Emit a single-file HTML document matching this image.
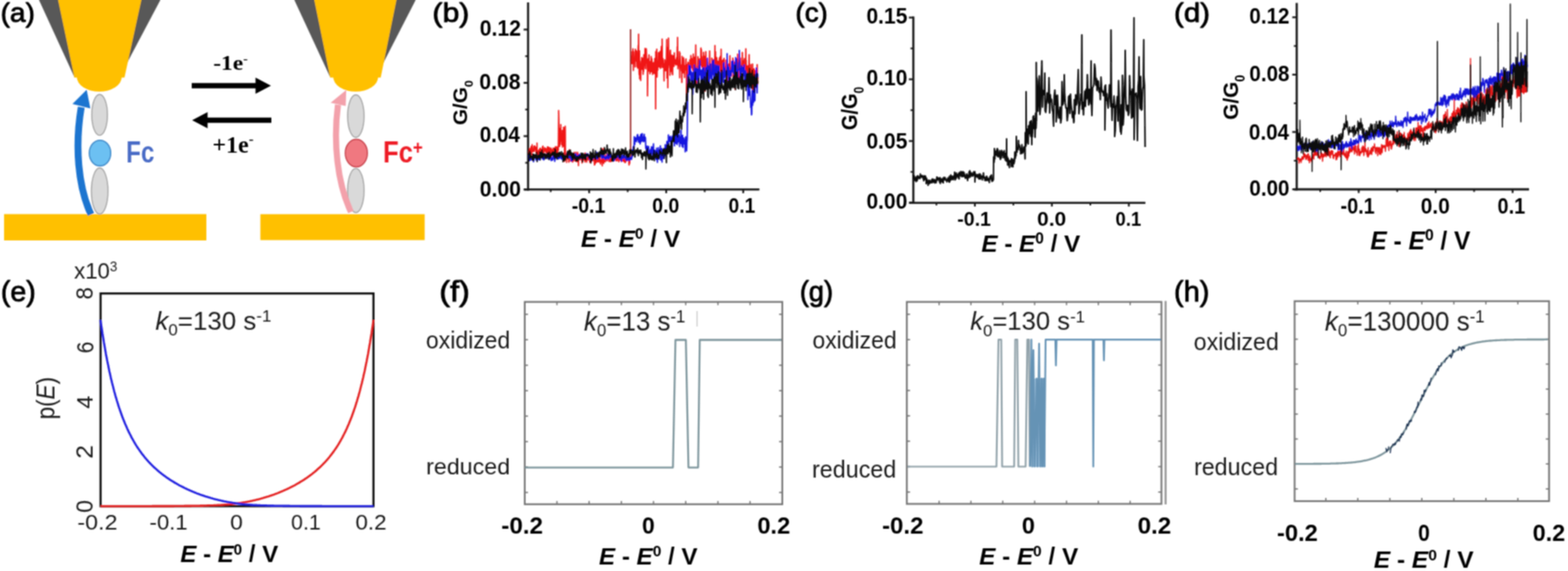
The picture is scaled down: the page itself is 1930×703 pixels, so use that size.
<!DOCTYPE html>
<html><head><meta charset="utf-8"><title>Figure</title>
<style>html,body{margin:0;padding:0;background:#fff;}svg{display:block;}</style></head>
<body><svg width="1930" height="703" viewBox="0 0 1930 703">
<rect width="1930" height="703" fill="#fff"/>
<defs><filter id="soft" x="0" y="0" width="1930" height="703" filterUnits="userSpaceOnUse"><feConvolveMatrix order="3" kernelMatrix="1 2 1 2 4 2 1 2 1" divisor="16"/></filter></defs><g filter="url(#soft)">
<polygon points="48,0 197.4,0 154,82 91.6,95" fill="#595959"/>
<path d="M71.5,0 L174,0 L153.2,95.5 L91.6,95.5 Z" fill="#FFC000"/>
<path d="M94.6,95 A27.6,17.8 0 0 0 149.8,95 Z" fill="#FFC000"/>
<polygon points="362.3,0 511.6,0 469.5,82 406.4,95" fill="#595959"/>
<path d="M386.8,0 L488,0 L468.6,95.5 L406.4,95.5 Z" fill="#FFC000"/>
<path d="M410.2,95 A27.6,17.8 0 0 0 465.4,95 Z" fill="#FFC000"/>
<rect x="5" y="263.6" width="249" height="32.4" fill="#FFC000"/>
<rect x="320.5" y="263.7" width="202.2" height="31.9" fill="#FFC000"/>
<ellipse cx="122.6" cy="141.4" rx="9.6" ry="25.2" fill="#d9d9d9" stroke="#a3a3a3" stroke-width="1.4"/>
<ellipse cx="122.7" cy="235.2" rx="10.2" ry="28.4" fill="#d9d9d9" stroke="#a3a3a3" stroke-width="1.4"/>
<ellipse cx="123.1" cy="188.5" rx="13.2" ry="15.8" fill="#6cc0f2" stroke="#3a86c8" stroke-width="1.5"/>
<ellipse cx="438" cy="143" rx="10.1" ry="26.2" fill="#d9d9d9" stroke="#a3a3a3" stroke-width="1.4"/>
<ellipse cx="438" cy="234.6" rx="10.1" ry="27.2" fill="#d9d9d9" stroke="#a3a3a3" stroke-width="1.4"/>
<ellipse cx="438.6" cy="188.5" rx="13.6" ry="16.9" fill="#f07880" stroke="#c8424c" stroke-width="1.5"/>
<path d="M112,264 C96,230 92,180 100,132" fill="none" stroke="#1f74d0" stroke-width="8.5"/>
<polygon points="106.7,110.5 89.2,128 111.2,133.5" fill="#1f74d0"/>
<path d="M432,261 C415,225 410,175 416,129" fill="none" stroke="#f3a1ab" stroke-width="7.5"/>
<polygon points="426.2,110.8 407,126.5 425.5,130.5" fill="#f3a1ab"/>
<line x1="236.00" y1="105.50" x2="317.00" y2="105.50" stroke="#000" stroke-width="6.4"/>
<polygon points="314.5,95.5 333.5,105.5 314.5,115.5" fill="#000"/>
<line x1="253.00" y1="148.00" x2="334.00" y2="148.00" stroke="#000" stroke-width="6.4"/>
<polygon points="255.5,138 236.5,148 255.5,158" fill="#000"/>
<line x1="650.00" y1="3.00" x2="650.00" y2="234.60" stroke="#141414" stroke-width="2.6"/>
<line x1="645.00" y1="233.30" x2="934.70" y2="233.30" stroke="#141414" stroke-width="2.6"/>
<line x1="644.50" y1="233.20" x2="650.00" y2="233.20" stroke="#141414" stroke-width="2.2"/>
<line x1="644.50" y1="167.60" x2="650.00" y2="167.60" stroke="#141414" stroke-width="2.2"/>
<line x1="644.50" y1="102.00" x2="650.00" y2="102.00" stroke="#141414" stroke-width="2.2"/>
<line x1="644.50" y1="36.40" x2="650.00" y2="36.40" stroke="#141414" stroke-width="2.2"/>
<line x1="646.50" y1="200.40" x2="650.00" y2="200.40" stroke="#141414" stroke-width="2.0"/>
<line x1="646.50" y1="134.80" x2="650.00" y2="134.80" stroke="#141414" stroke-width="2.0"/>
<line x1="646.50" y1="69.20" x2="650.00" y2="69.20" stroke="#141414" stroke-width="2.0"/>
<line x1="725.20" y1="233.30" x2="725.20" y2="237.80" stroke="#141414" stroke-width="2.2"/>
<line x1="820.00" y1="233.30" x2="820.00" y2="237.80" stroke="#141414" stroke-width="2.2"/>
<line x1="914.80" y1="233.30" x2="914.80" y2="237.80" stroke="#141414" stroke-width="2.2"/>
<line x1="677.80" y1="233.30" x2="677.80" y2="236.50" stroke="#141414" stroke-width="2.0"/>
<line x1="772.60" y1="233.30" x2="772.60" y2="236.50" stroke="#141414" stroke-width="2.0"/>
<line x1="867.40" y1="233.30" x2="867.40" y2="236.50" stroke="#141414" stroke-width="2.0"/>
<polyline points="651.0,185.5 651.3,188.8 651.6,187.9 651.9,183.0 652.2,183.5 652.5,183.0 652.8,186.5 653.1,185.1 653.4,187.8 653.7,180.3 654.0,190.6 654.3,185.2 654.6,187.5 654.9,185.0 655.0,178.0 655.2,184.1 655.5,186.3 655.8,187.0 656.1,184.1 656.4,183.8 656.7,185.8 657.0,181.0 657.3,179.9 657.6,186.5 657.9,183.3 658.2,179.5 658.5,182.4 658.8,184.0 659.1,181.6 659.4,181.1 659.7,186.1 660.0,188.4 660.3,185.4 660.6,184.3 660.9,188.0 661.0,176.0 661.2,189.6 661.5,186.8 661.8,189.5 662.1,190.4 662.4,186.7 662.7,185.3 663.0,188.9 663.3,188.4 663.6,190.8 663.9,183.7 664.2,185.9 664.5,185.8 664.8,182.4 665.1,187.6 665.4,188.2 665.7,183.5 666.0,190.3 666.3,188.5 666.6,188.0 666.9,186.7 667.2,188.5 667.5,181.3 667.8,186.9 668.0,180.0 668.1,187.3 668.4,180.1 668.7,186.8 669.0,184.8 669.3,187.7 669.6,183.5 669.9,185.0 670.2,186.0 670.5,181.9 670.8,186.3 671.1,183.8 671.4,186.3 671.7,182.9 672.0,187.8 672.3,186.5 672.6,183.5 672.9,186.5 673.2,188.4 673.5,190.5 673.8,180.7 674.1,188.5 674.4,187.5 674.7,185.9 675.0,183.3 675.0,181.0 675.3,190.7 675.6,183.1 675.9,188.4 676.2,190.5 676.5,181.8 676.8,185.8 677.1,183.9 677.4,188.3 677.7,192.5 678.0,194.1 678.3,182.4 678.6,186.4 678.9,190.2 679.2,191.8 679.5,188.2 679.8,184.3 680.1,186.9 680.4,185.4 680.7,184.2 681.0,182.4 681.3,185.8 681.6,186.5 681.9,185.0 682.2,185.2 682.5,182.3 682.8,183.9 683.1,188.5 683.4,184.2 683.7,180.5 684.0,188.7 684.3,186.6 684.6,191.1 684.9,184.5 685.2,183.6 685.5,180.6 685.8,189.1 686.1,193.4 686.4,184.4 686.7,185.3 687.2,185.0 687.6,136.0 688.2,160.0 688.5,171.0 688.6,163.5 688.8,180.4 688.9,158.1 689.1,172.2 689.2,168.1 689.4,158.7 689.5,178.0 689.7,171.1 689.8,159.0 690.0,173.2 690.1,165.0 690.3,153.3 690.4,163.0 690.6,170.7 690.7,173.7 690.9,170.0 691.0,169.0 691.2,172.5 691.3,167.1 691.5,178.2 691.6,170.0 691.8,171.2 691.9,173.2 692.1,160.5 692.2,163.3 692.4,181.3 692.5,171.8 692.7,166.9 692.8,171.9 693.0,165.3 693.1,171.5 693.3,164.0 693.4,171.5 693.6,156.7 693.7,180.0 693.9,165.3 694.0,156.8 694.2,167.7 694.3,166.6 694.5,170.8 694.6,160.5 694.8,172.9 694.9,198.7 695.1,159.5 695.2,172.5 695.4,167.4 695.5,171.4 695.7,155.4 695.8,160.8 696.0,193.2 696.3,192.1 696.6,196.5 696.9,190.0 697.2,192.1 697.5,200.0 697.8,189.3 698.1,188.4 698.4,191.0 698.7,191.5 699.0,193.9 699.3,192.2 699.6,190.0 699.9,192.5 700.2,199.8 700.5,196.1 700.8,184.4 701.1,192.4 701.4,190.3 701.7,193.9 702.0,192.2 702.3,198.4 702.6,195.8 702.9,196.1 703.2,194.5 703.5,193.8 703.8,195.7 704.1,199.0 704.4,196.9 704.7,194.3 705.0,199.4 705.3,196.4 705.6,195.3 705.9,193.1 706.2,193.9 706.5,193.2 706.8,187.5 707.1,197.9 707.4,196.5 707.7,194.4 708.0,198.0 708.3,195.7 708.6,195.7 708.9,187.4 709.2,194.0 709.5,195.9 709.8,198.6 710.1,199.2 710.4,198.1 710.7,190.7 711.0,187.5 711.3,195.1 711.6,193.9 711.9,197.0 712.0,204.0 712.2,193.7 712.5,194.8 712.8,190.0 713.1,195.8 713.4,193.9 713.7,196.4 714.0,196.5 714.3,195.4 714.6,196.3 714.9,195.0 715.2,196.7 715.5,196.3 715.8,194.0 716.1,194.1 716.4,200.8 716.7,195.5 717.0,198.2 717.3,196.0 717.6,193.7 717.9,193.2 718.2,195.4 718.5,196.2 718.8,196.9 719.1,191.9 719.4,193.6 719.7,195.0 720.0,199.5 720.3,188.3 720.6,196.3 720.9,194.2 721.2,196.9 721.5,194.5 721.8,196.4 722.1,199.6 722.4,195.7 722.7,196.0 723.0,196.0 723.3,193.3 723.6,196.6 723.9,194.6 724.2,192.9 724.5,195.2 724.8,195.0 725.1,197.2 725.4,195.0 725.7,194.1 726.0,199.9 726.3,198.2 726.6,199.2 726.9,197.0 727.2,195.2 727.5,194.5 727.8,195.0 728.1,198.6 728.4,196.5 728.7,192.0 729.0,196.6 729.3,193.0 729.6,197.4 729.9,193.5 730.2,194.1 730.5,197.7 730.8,197.2 731.1,193.5 731.4,199.9 731.7,203.3 732.0,193.2 732.3,202.5 732.6,195.4 732.9,196.1 733.2,197.0 733.5,193.0 733.8,200.5 734.1,198.0 734.4,194.7 734.7,195.9 735.0,192.1 735.3,195.7 735.6,199.2 735.9,192.1 736.2,195.4 736.5,196.9 736.8,199.2 737.1,199.7 737.4,194.8 737.7,194.4 738.0,197.6 738.3,195.8 738.6,196.4 738.9,200.0 739.2,202.0 739.5,198.3 739.8,197.0 740.1,199.2 740.4,192.4 740.7,198.1 741.0,194.9 741.3,204.1 741.6,199.5 741.9,197.5 742.0,183.0 742.2,196.2 742.5,189.4 742.8,198.9 743.1,201.2 743.4,194.3 743.7,197.9 744.0,197.9 744.3,191.4 744.6,198.1 744.9,199.4 745.2,195.7 745.5,194.8 745.8,197.5 746.1,191.1 746.4,195.3 746.7,197.7 747.0,191.6 747.3,197.9 747.6,193.5 747.9,189.3 748.2,194.8 748.5,192.5 748.8,196.2 749.1,192.3 749.4,198.6 749.7,193.6 750.0,196.5 750.3,193.7 750.6,194.7 750.9,198.9 751.2,196.6 751.5,194.8 751.8,192.0 752.1,198.9 752.4,197.6 752.7,194.9 753.0,196.4 753.3,192.5 753.6,192.5 753.9,192.4 754.2,195.7 754.5,195.3 754.8,192.2 755.1,196.1 755.4,195.8 755.7,194.8 756.0,197.4 756.3,193.3 756.6,193.8 756.9,195.9 757.2,194.0 757.5,196.2 757.8,190.4 758.1,198.0 758.4,191.8 758.7,193.2 759.0,190.0 759.3,196.0 759.6,198.0 759.9,197.6 760.0,187.0 760.2,196.9 760.5,191.0 760.8,193.5 761.1,194.7 761.4,193.8 761.7,199.2 762.0,196.3 762.3,196.0 762.6,196.9 762.9,192.3 763.2,192.5 763.5,192.9 763.8,197.1 764.1,196.5 764.4,197.3 764.7,198.7 765.0,192.0 765.3,194.0 765.6,196.5 765.9,192.2 766.2,194.2 766.5,197.9 766.8,198.3 767.1,198.1 767.4,195.2 767.7,194.5 768.0,198.7 768.3,194.7 768.6,196.8 768.9,199.9 769.2,195.4 769.5,194.6 769.8,195.9 770.0,200.0 770.1,197.5 770.4,197.4 770.7,196.8 771.0,197.9 771.3,192.0 771.6,194.4 771.9,197.5 772.2,195.3 772.5,194.7 772.8,194.6 773.1,195.3 773.4,197.7 773.7,195.5 774.0,199.0 774.3,203.1 774.6,198.0 774.9,201.7 775.2,199.2 775.5,195.3" fill="none" stroke="#f01818" stroke-width="1.6" stroke-linejoin="round"/>
<polyline points="776.6,75.9 776.9,71.0 777.2,69.6 777.5,68.9 777.8,78.5 778.1,63.5 778.4,73.7 778.7,68.7 779.0,71.3 779.0,60.0 779.3,66.4 779.6,86.7 779.9,63.5 780.2,73.0 780.5,74.7 780.8,76.8 781.1,76.8 781.4,76.8 781.7,82.4 782.0,60.6 782.3,72.7 782.6,63.0 782.9,75.0 783.2,62.5 783.5,62.8 783.8,70.8 784.1,82.3 784.4,75.1 784.7,73.1 785.0,83.9 785.3,64.5 785.6,55.9 785.9,71.3 786.0,42.0 786.2,71.6 786.5,82.9 786.8,92.0 787.1,62.6 787.4,96.9 787.7,89.9 788.0,84.7 788.3,82.9 788.6,99.1 788.9,79.1 789.2,75.1 789.5,82.8 789.8,70.8 790.1,85.3 790.4,81.5 790.7,84.3 791.0,84.1 791.3,72.0 791.6,91.4 791.9,71.3 792.2,87.9 792.5,67.3 792.8,84.4 793.1,74.2 793.4,79.9 793.7,73.6 794.0,59.7 794.3,69.0 794.6,79.9 794.9,84.8 795.2,67.4 795.5,60.1 795.8,69.6 796.1,77.5 796.4,73.2 796.7,73.3 797.0,87.2 797.0,118.0 797.3,87.8 797.6,86.1 797.9,72.0 798.2,81.1 798.5,79.7 798.8,67.5 799.1,87.7 799.4,80.5 799.7,75.5 800.0,91.0 800.3,84.8 800.6,84.9 800.9,88.3 801.2,85.2 801.5,69.7 801.8,77.2 802.1,88.3 802.4,72.4 802.7,78.8 803.0,81.9 803.3,91.6 803.6,90.2 803.9,86.7 804.2,77.2 804.5,87.5 804.8,85.0 805.1,78.6 805.4,90.7 805.7,82.1 806.0,72.1 806.3,88.0 806.6,75.8 806.9,83.0 807.0,134.0 807.2,63.5 807.5,75.2 807.8,67.8 808.1,68.3 808.4,60.5 808.7,94.8 809.0,75.3 809.3,78.8 809.6,86.5 809.9,75.7 810.2,80.7 810.5,64.9 810.8,78.1 811.1,73.3 811.4,82.4 811.7,80.3 812.0,67.1 812.3,63.4 812.6,70.4 812.9,84.2 813.2,81.6 813.5,82.5 813.8,62.2 814.1,57.2 814.4,75.3 814.7,78.1 815.0,75.2 815.0,48.0 815.3,83.2 815.6,80.0 815.9,71.9 816.2,75.1 816.5,82.8 816.8,82.8 817.1,80.3 817.4,99.6 817.7,78.7 818.0,82.8 818.3,73.6 818.6,78.9 818.9,86.6 819.2,87.1 819.5,79.4 819.8,83.2 820.1,79.5 820.4,61.7 820.7,48.6 821.0,96.1 821.3,82.7 821.6,73.6 821.9,58.4 822.0,108.0 822.2,61.7 822.5,83.2 822.8,46.9 823.1,69.0 823.4,80.0 823.7,73.2 824.0,78.1 824.3,71.0 824.6,92.7 824.9,64.9 825.2,61.9 825.5,76.9 825.8,88.0 826.1,75.3 826.4,85.1 826.7,72.8 827.0,67.8 827.3,90.6 827.6,91.8 827.9,91.9 828.2,74.6 828.5,69.4 828.8,68.5 829.1,76.2 829.4,81.8 829.7,81.3 830.0,65.0 830.3,78.6 830.6,76.6 830.9,76.5 831.2,75.7 831.5,73.6 831.8,79.8 832.1,77.0 832.4,79.1 832.7,71.2 833.0,79.4 833.3,75.4 833.6,57.6 833.9,80.0 834.0,46.0 834.2,73.5 834.5,84.7 834.8,75.6 835.1,77.0 835.4,81.2 835.7,78.3 836.0,74.0 836.3,63.7 836.6,95.7 836.9,65.2 837.2,75.5 837.5,83.5 837.8,80.7 838.1,80.9 838.4,83.4 838.7,87.4 839.0,79.8 839.3,101.4 839.6,69.4 839.9,80.1 840.2,75.3 840.5,73.4 840.8,80.9 841.1,89.8 841.4,71.2 841.7,73.5 842.0,85.7 842.3,83.4 842.6,95.5 842.9,89.2 843.2,83.5 843.5,80.3 843.8,85.8 844.1,83.3 844.4,72.6 844.7,84.2 845.0,83.9 845.0,120.0 845.3,82.3 845.6,79.6 845.9,98.1 846.2,90.6 846.5,91.2 846.8,79.1 847.1,76.5 847.4,82.1 847.7,86.0 848.0,81.2 848.3,82.3 848.6,91.1 848.9,85.9 849.2,73.5 849.5,77.3 849.8,75.6 850.1,81.5 850.4,68.4 850.7,77.3 851.0,83.6 851.3,79.3 851.6,72.0 851.9,73.0 852.2,81.0 852.5,83.8 852.8,86.3 853.1,76.3 853.4,66.5 853.7,90.4 854.0,80.9 854.3,82.4 854.6,81.3 854.9,70.4 855.2,77.4 855.5,81.7 855.8,88.4 856.1,80.8 856.4,55.3 856.7,79.5 857.0,84.7 857.3,93.0 857.6,87.4 857.9,102.2 858.2,91.8 858.5,91.8 858.8,88.9 859.1,69.8 859.4,87.7 859.7,83.8 860.0,75.2 860.3,83.7 860.6,82.4 860.9,72.7 861.2,75.2 861.5,74.7 861.8,78.2 862.1,72.9 862.4,80.3 862.7,59.0 863.0,72.7 863.3,61.0 863.6,71.7 863.9,82.4 864.2,77.8 864.5,76.9 864.8,77.8 865.1,91.6 865.4,69.6 865.7,86.3 866.0,64.4 866.3,74.2 866.6,79.1 866.9,72.4 867.2,81.7 867.5,85.4 867.8,69.1 868.0,112.0 868.1,79.9 868.4,77.2 868.7,63.5 869.0,78.8 869.3,74.3 869.6,93.3 869.9,73.1 870.2,95.0 870.5,76.2 870.8,98.5 871.1,87.4 871.4,87.3 871.7,92.3 872.0,93.5 872.3,97.8 872.6,100.8 872.9,81.8 873.2,74.4 873.5,62.8 873.8,83.0 874.1,91.2 874.4,88.7 874.7,87.3 875.0,82.8 875.3,79.6 875.6,82.7 875.9,90.8 876.2,71.6 876.5,92.8 876.8,73.3 877.1,82.4 877.4,78.6 877.7,79.5 878.0,73.9 878.3,73.5 878.6,80.6 878.9,74.1 879.2,104.3 879.5,79.8 879.8,77.6 880.0,56.0 880.1,79.1 880.4,74.4 880.7,63.6 881.0,81.7 881.3,86.8 881.6,70.6 881.9,80.7 882.2,71.0 882.5,80.6 882.8,84.7 883.1,85.4 883.4,84.7 883.7,75.3 884.0,90.0 884.3,77.1 884.6,86.0 884.9,87.7 885.2,79.1 885.5,71.4 885.8,87.4 886.1,72.1 886.4,72.9 886.7,69.3 887.0,87.7 887.3,78.9 887.6,60.7 887.9,87.4 888.2,98.5 888.5,95.9 888.8,74.5 889.1,81.8 889.4,86.9 889.7,89.9 890.0,81.7 890.3,73.6 890.6,90.0 890.9,88.4 891.2,71.8 891.5,80.5 891.8,84.7 892.1,83.2 892.4,89.1 892.7,93.0 893.0,89.6 893.3,84.2 893.6,73.9 893.9,90.4 894.2,97.7 894.5,102.9 894.8,85.7 895.1,86.0 895.4,98.1 895.7,99.3 896.0,89.4 896.3,91.7 896.6,78.9 896.9,92.5 897.2,79.8 897.5,85.3 897.8,86.6 898.1,83.3 898.4,68.6 898.7,79.9 899.0,90.6 899.3,86.8 899.6,83.4 899.9,89.6 900.2,91.8 900.5,94.0 900.8,80.7 901.1,87.4 901.4,83.8 901.7,78.1 902.0,71.5 902.3,82.9 902.6,74.2 902.9,99.4 903.2,81.1 903.5,81.0 903.8,79.4 904.1,98.2 904.4,76.5 904.7,82.5 905.0,76.8 905.0,110.0 905.3,82.3 905.6,83.3 905.9,93.8 906.2,72.7 906.5,85.1 906.8,100.1 907.1,81.9 907.4,85.5 907.7,79.8 908.0,66.7 908.3,88.9 908.6,100.0 908.9,86.1 909.2,74.0 909.5,91.5 909.8,90.0 910.1,97.4 910.4,95.1 910.7,85.9 911.0,90.6 911.3,71.6 911.6,97.3 911.9,88.2 912.2,95.3 912.5,94.1 912.8,81.1 913.1,82.0 913.4,75.3 913.7,64.6 914.0,81.4 914.3,84.6 914.6,74.9 914.9,90.6 915.2,86.1 915.5,88.6 915.8,78.9 916.1,72.1 916.4,93.1 916.7,91.1 917.0,86.9 917.3,85.3 917.6,86.2 917.9,88.6 918.0,60.0 918.2,86.8 918.5,74.2 918.8,99.7 919.1,81.1 919.4,90.7 919.7,92.3 920.0,97.0 920.3,81.1 920.6,105.2 920.9,100.0 921.2,100.6 921.5,105.0 921.8,87.1 922.1,67.3 922.4,96.8 922.7,104.4 923.0,102.8 923.3,88.2 923.6,92.6 923.9,97.3 924.2,79.4 924.5,89.0 924.8,89.0 925.1,108.0 925.4,89.3 925.7,106.7 926.0,93.7 926.3,78.8 926.6,113.4 926.9,85.5 927.2,100.2 927.5,109.4 927.8,90.8 928.0,112.0 928.1,84.5 928.4,104.8 928.7,97.7 929.0,86.6 929.3,88.3 929.6,94.2 929.9,103.7 930.2,92.2 930.5,100.0 930.8,108.0 931.1,104.8 931.4,105.3 931.7,103.7 932.0,79.5 932.3,104.8 932.6,96.5 932.9,94.8" fill="none" stroke="#f01818" stroke-width="1.7" stroke-linejoin="round"/>
<line x1="776.20" y1="196.00" x2="776.20" y2="36.00" stroke="#9c2b2b" stroke-width="1.8"/>
<polyline points="651.0,191.1 651.3,195.2 651.6,197.1 651.9,194.1 652.2,194.2 652.5,197.3 652.8,193.7 653.1,193.9 653.4,195.2 653.7,196.6 654.0,196.6 654.3,193.8 654.6,194.1 654.9,194.4 655.2,193.6 655.5,193.3 655.8,192.2 656.1,195.3 656.4,193.4 656.7,199.1 657.0,194.8 657.3,191.8 657.6,192.7 657.9,193.8 658.2,193.8 658.5,194.1 658.8,193.6 659.1,192.5 659.4,193.9 659.7,196.9 660.0,192.2 660.3,192.8 660.6,194.8 660.9,195.8 661.2,195.4 661.5,195.3 661.8,192.7 662.1,192.5 662.4,194.2 662.7,194.5 663.0,196.7 663.3,196.6 663.6,191.2 663.9,195.5 664.2,192.6 664.5,190.0 664.8,194.8 665.1,193.9 665.4,193.1 665.7,191.4 666.0,192.0 666.3,193.5 666.6,191.3 666.9,193.9 667.2,194.3 667.5,194.4 667.8,195.7 668.1,195.4 668.4,193.5 668.7,193.8 669.0,195.6 669.3,196.9 669.6,194.5 669.9,193.3 670.2,194.7 670.5,191.0 670.8,192.5 671.1,193.2 671.4,193.8 671.7,193.4 672.0,193.6 672.3,191.9 672.6,192.7 672.9,193.6 673.2,189.4 673.5,190.1 673.8,191.8 674.1,194.9 674.4,193.3 674.7,194.8 675.0,194.5 675.3,191.7 675.6,193.2 675.9,191.4 676.2,195.9 676.5,195.2 676.8,194.7 677.1,195.2 677.4,195.3 677.7,195.0 678.0,195.4 678.3,197.6 678.6,193.9 678.9,193.8 679.2,195.3 679.5,197.4 679.8,195.3 680.1,194.5 680.4,196.7 680.7,195.1 681.0,191.5 681.3,193.1 681.6,191.2 681.9,194.6 682.2,194.0 682.5,195.4 682.8,198.7 683.1,193.9 683.4,194.8 683.7,193.5 684.0,189.1 684.3,192.1 684.6,192.4 684.9,194.3 685.2,192.7 685.5,192.3 685.8,195.7 686.1,194.5 686.4,192.5 686.7,192.7 687.0,193.2 687.3,195.0 687.6,195.6 687.9,190.2 688.2,194.9 688.5,192.7 688.8,193.1 689.1,194.1 689.4,190.7 689.7,194.3 690.0,190.3 690.3,191.9 690.6,191.6 690.9,195.8 691.2,195.5 691.5,193.7 691.8,193.3 692.1,191.3 692.4,195.7 692.7,195.3 693.0,194.7 693.3,193.0 693.6,192.1 693.9,192.8 694.2,195.1 694.5,191.3 694.8,193.1 695.1,195.5 695.4,194.3 695.7,195.9 696.0,193.0 696.3,192.7 696.6,194.0 696.9,192.3 697.2,191.8 697.5,190.4 697.8,188.7 698.1,193.9 698.4,190.3 698.7,190.0 699.0,192.8 699.3,189.9 699.6,189.7 699.9,191.4 700.2,192.4 700.5,192.8 700.8,193.7 701.1,194.6 701.4,192.7 701.7,193.9 702.0,193.7 702.3,192.9 702.6,195.0 702.9,195.3 703.2,198.1 703.5,195.4 703.8,193.3 704.1,195.3 704.4,194.0 704.7,197.3 705.0,191.5 705.3,193.5 705.6,193.1 705.9,194.0 706.2,193.3 706.5,190.6 706.8,190.0 707.1,193.7 707.4,195.8 707.7,195.0 708.0,191.4 708.3,193.0 708.6,190.5 708.9,189.3 709.2,194.1 709.5,193.6 709.8,191.8 710.1,191.8 710.4,194.2 710.7,193.2 711.0,191.9 711.3,192.3 711.6,191.8 711.9,191.3 712.2,190.8 712.5,193.5 712.8,191.0 713.1,190.1 713.4,195.6 713.7,195.2 714.0,194.2 714.3,193.0 714.6,193.8 714.9,191.2 715.2,193.9 715.5,194.6 715.8,193.8 716.1,195.5 716.4,193.2 716.7,194.6 717.0,191.3 717.3,194.3 717.6,193.2 717.9,191.9 718.2,193.7 718.5,194.7 718.8,192.9 719.1,194.9 719.4,192.0 719.7,194.4 720.0,194.1 720.3,191.9 720.6,195.3 720.9,190.0 721.2,193.1 721.5,191.9 721.8,193.1 722.1,189.0 722.4,189.9 722.7,190.3 723.0,191.9 723.3,192.0 723.6,192.2 723.9,191.8 724.2,191.4 724.5,190.2 724.8,192.6 725.1,195.1 725.4,195.6 725.7,193.5 726.0,196.4 726.3,192.3 726.6,196.4 726.9,193.4 727.2,196.2 727.5,194.3 727.8,193.9 728.1,194.3 728.4,197.6 728.7,194.1 729.0,196.1 729.3,195.1 729.6,195.3 729.9,195.4 730.2,195.2 730.5,192.1 730.8,193.9 731.1,193.8 731.4,192.6 731.7,193.6 732.0,191.1 732.3,194.1 732.6,191.3 732.9,191.9 733.2,193.7 733.5,194.3 733.8,191.4 734.1,191.3 734.4,194.5 734.7,187.7 735.0,195.8 735.3,195.8 735.6,191.8 735.9,195.1 736.2,193.9 736.5,193.7 736.8,188.8 737.1,192.5 737.4,192.8 737.7,192.5 738.0,192.0 738.3,192.1 738.6,187.1 738.9,191.6 739.2,191.0 739.5,191.9 739.8,191.1 740.1,192.1 740.4,192.5 740.7,195.1 741.0,190.1 741.3,194.3 741.6,190.7 741.9,190.2 742.2,190.2 742.5,194.5 742.8,190.1 743.1,194.5 743.4,193.8 743.7,192.4 744.0,192.8 744.3,194.9 744.6,194.7 744.9,196.2 745.2,194.4 745.5,193.5 745.8,195.5 746.1,192.4 746.4,195.7 746.7,194.0 747.0,192.0 747.3,192.1 747.6,193.5 747.9,190.2 748.2,195.3 748.5,194.6 748.8,191.2 749.1,192.9 749.4,196.0 749.7,193.6 750.0,190.3 750.3,188.5 750.6,189.3 750.9,194.0 751.2,192.7 751.5,189.6 751.8,193.2 752.1,191.4 752.4,190.9 752.7,191.5 753.0,191.9 753.3,196.3 753.6,192.2 753.9,193.6 754.2,196.5 754.5,197.1 754.8,192.9 755.1,198.1 755.4,196.2 755.7,191.5 756.0,197.7 756.3,191.6 756.6,195.6 756.9,192.3 757.2,190.7 757.5,195.6 757.8,195.2 758.1,194.4 758.4,194.3 758.7,193.7 759.0,193.3 759.3,191.6 759.6,194.1 759.9,193.1 760.2,192.6 760.5,191.6 760.8,192.3 761.1,189.8 761.4,191.9 761.7,191.1 762.0,195.6 762.3,191.7 762.6,192.5 762.9,193.3 763.2,194.9 763.5,194.2 763.8,193.3 764.1,196.8 764.4,193.5 764.7,194.4 765.0,198.6 765.3,192.0 765.6,195.5 765.9,194.6 766.2,191.5 766.5,192.8 766.8,194.7 767.1,191.0 767.4,193.5 767.7,195.0 768.0,192.7 768.3,193.6 768.6,191.7 768.9,192.1 769.2,192.4 769.5,193.1 769.8,194.8 770.1,193.5 770.4,196.8 770.7,194.1 771.0,193.8 771.3,197.6 771.6,193.4 771.9,192.1 772.2,194.4 772.5,192.3 772.8,195.4 773.1,197.0 773.4,195.2 773.7,193.9 774.0,194.6 774.3,196.0 774.6,197.7 774.9,194.8 775.2,194.3 775.5,196.7 775.8,195.0 776.1,195.6 776.4,195.8 776.7,193.6 777.0,194.2 777.3,196.2 777.6,194.1 777.9,194.0 778.0,192.8 778.3,185.2 778.6,188.4 778.9,190.9 779.2,185.1 779.5,180.6 779.8,181.2 780.1,180.8 780.4,181.6 780.7,168.4 781.0,168.8 781.3,177.7 781.6,173.5 781.9,172.6 782.2,172.9 782.5,171.1 782.8,169.7 783.1,172.1 783.4,174.4 783.7,172.8 784.0,171.3 784.3,166.4 784.6,172.0 784.9,165.7 785.2,167.7 785.5,171.2 785.8,171.0 786.1,175.2 786.4,174.1 786.7,172.3 787.0,168.5 787.3,169.8 787.6,168.7 787.9,177.3 788.2,171.5 788.5,166.5 788.8,165.5 789.1,174.7 789.4,165.2 789.7,170.5 790.0,169.6 790.3,173.4 790.6,164.7 790.9,170.5 791.2,169.2 791.5,171.7 791.8,174.1 792.1,168.8 792.4,168.4 792.7,174.4 793.0,165.3 793.3,173.5 793.6,169.4 793.9,169.5 794.2,168.9 794.5,169.7 794.8,181.8 795.1,183.1 795.4,180.7 795.7,185.9 796.0,182.6 796.3,181.3 796.6,179.8 796.9,189.1 797.2,189.7 797.5,191.7 797.8,182.6 798.1,185.0 798.4,180.3 798.7,191.5 799.0,189.6 799.3,188.8 799.6,186.5 799.9,186.0 800.2,185.1 800.5,191.6 800.8,184.0 801.1,190.8 801.4,188.2 801.7,182.5 802.0,180.6 802.3,183.6 802.6,187.0 802.9,181.5 803.2,190.1 803.5,192.4 803.8,189.8 804.1,179.9 804.4,177.0 804.7,191.4 805.0,194.2 805.3,185.9 805.6,190.0 805.9,186.6 806.2,185.0 806.5,192.3 806.8,185.5 807.1,191.8 807.4,195.7 807.7,187.6 808.0,196.5 808.3,182.4 808.6,192.4 808.9,188.4 809.2,199.9 809.5,188.7 809.8,185.0 810.1,195.8 810.4,181.8 810.7,190.7 811.0,185.3 811.3,195.0 811.6,188.4 811.9,192.8 812.2,188.8 812.5,184.1 812.8,179.5 813.1,197.1 813.4,190.3 813.7,184.1 814.0,187.9 814.3,193.8 814.6,182.8 814.9,199.6 815.2,188.4 815.5,188.0 815.8,195.4 816.1,190.6 816.4,185.3 816.7,193.9 817.0,191.9 817.3,195.0 817.6,185.9 817.9,185.0 818.2,192.3 818.5,186.6 818.8,178.0 819.1,184.1 819.4,188.7 819.7,181.7 820.0,189.8 820.3,180.9 820.6,181.8 820.9,174.0 821.2,176.8 821.5,178.7 821.8,181.2 822.1,178.6 822.4,181.6 822.7,166.1 823.0,175.1 823.3,173.5 823.6,168.5 823.9,172.1 824.2,168.7 824.5,173.9 824.8,170.4 825.1,174.3 825.4,167.9 825.7,177.7 826.0,173.8 826.3,180.0 826.6,171.4 826.9,169.7 827.2,172.6 827.5,169.9 827.8,167.3 828.1,172.1 828.4,171.7 828.7,169.1 829.0,170.3 829.3,167.6 829.6,172.7 829.9,166.0 830.2,179.6 830.5,172.1 830.8,176.2 831.1,166.6 831.4,173.6 831.7,171.4 832.0,176.4 832.3,175.9 832.6,164.6 832.9,177.2 833.2,165.3 833.5,178.0 833.8,171.8 834.1,166.6 834.4,175.2 834.7,172.2 835.0,167.5 835.3,168.7 835.6,174.2 835.9,165.8 836.2,168.1 836.5,180.4 836.8,168.5 837.1,173.7 837.4,174.0 837.7,176.3 838.0,176.0 838.3,160.6 838.6,169.8 838.9,177.4 839.2,168.4 839.5,180.2 839.8,173.1 840.1,166.6 840.4,175.0 840.7,181.6 841.0,170.2 841.3,176.1 841.6,169.9 841.9,171.6 842.2,175.2 842.5,177.3 842.8,177.0 843.1,176.7 843.4,187.0 843.7,171.6 844.0,168.4 844.3,179.7 844.6,178.4 844.9,171.4 845.2,185.8 845.5,174.8 845.8,171.6 846.0,160.0 846.5,92.0 847.0,95.0 847.3,96.9 847.6,110.1 847.9,80.4 848.2,82.6 848.5,89.9 848.8,88.7 849.1,91.8 849.4,87.7 849.7,81.1 850.0,89.0 850.3,98.1 850.6,99.6 850.9,88.4 851.2,98.4 851.5,96.9 851.8,90.2 852.1,91.8 852.4,95.2 852.7,115.9 853.0,96.4 853.3,88.7 853.6,94.5 853.9,91.7 854.2,104.2 854.5,80.0 854.8,88.2 855.1,102.2 855.4,98.0 855.7,95.4 856.0,100.5 856.3,85.1 856.6,97.5 856.9,85.5 857.2,83.5 857.5,98.4 857.8,87.9 858.1,90.1 858.4,96.8 858.7,84.8 859.0,96.2 859.3,107.9 859.6,89.2 859.9,98.0 860.2,96.4 860.5,80.7 860.8,80.5 861.1,91.2 861.4,74.7 861.7,90.4 862.0,92.5 862.3,93.0 862.6,92.7 862.9,100.5 863.2,86.4 863.5,98.5 863.8,92.3 864.1,92.6 864.4,87.9 864.7,96.1 865.0,84.2 865.3,96.8 865.6,99.3 865.9,85.5 866.2,83.1 866.5,83.6 866.8,88.7 867.1,91.7 867.4,96.3 867.7,104.9 868.0,103.6 868.3,94.6 868.6,90.1 868.9,83.1 869.2,99.6 869.5,96.7 869.8,90.2 870.1,91.3 870.4,90.9 870.7,71.7 871.0,91.2 871.3,92.8 871.6,88.5 871.9,81.2 872.2,90.0 872.5,94.2 872.8,103.8 873.1,98.4 873.4,94.7 873.7,89.2 874.0,79.1 874.3,85.0 874.6,78.5 874.9,88.1 875.2,97.0 875.5,97.2 875.8,96.2 876.1,89.7 876.4,97.5 876.7,88.6 877.0,75.1 877.3,91.8 877.6,91.7 877.9,79.3 878.2,89.0 878.5,74.0 878.8,90.1 879.1,103.1 879.4,89.1 879.7,104.4 880.0,95.6 880.0,112.0 880.3,88.3 880.6,79.7 880.9,98.6 881.2,98.0 881.5,81.6 881.8,90.6 882.1,102.3 882.4,89.0 882.7,98.2 883.0,80.4 883.3,88.3 883.6,101.0 883.9,86.1 884.2,83.2 884.5,83.6 884.8,90.8 885.1,81.2 885.4,91.9 885.7,97.0 886.0,104.1 886.3,89.1 886.6,103.6 886.9,96.6 887.2,91.1 887.5,96.9 887.8,103.1 888.1,102.5 888.4,97.0 888.7,88.8 889.0,95.4 889.3,89.5 889.6,89.3 889.9,89.1 890.2,101.4 890.5,78.1 890.8,85.8 891.1,77.2 891.4,92.5 891.7,94.1 892.0,96.0 892.3,83.7 892.6,87.6 892.9,93.6 893.2,88.8 893.5,89.7 893.8,89.6 894.1,91.4 894.4,88.1 894.7,92.8 895.0,78.7 895.0,66.0 895.3,86.5 895.6,79.5 895.9,89.3 896.2,84.0 896.5,94.1 896.8,100.4 897.1,82.3 897.4,85.8 897.7,94.5 898.0,102.1 898.3,96.4 898.6,93.6 898.9,88.9 899.2,86.6 899.5,93.1 899.8,93.1 900.1,89.3 900.4,83.0 900.7,75.6 901.0,81.2 901.3,84.1 901.6,77.5 901.9,88.8 902.2,74.9 902.5,83.1 902.8,87.3 903.1,90.9 903.4,86.2 903.7,93.2 904.0,80.6 904.3,79.3 904.6,93.9 904.9,78.3 905.2,82.0 905.5,70.9 905.8,93.7 906.1,90.6 906.4,80.7 906.7,72.3 907.0,87.1 907.3,87.9 907.6,95.3 907.9,100.4 908.2,89.4 908.5,85.8 908.8,86.4 909.1,85.6 909.4,76.8 909.7,80.7 910.0,86.3 910.0,62.0 910.3,74.5 910.6,76.5 910.9,97.1 911.2,83.7 911.5,92.9 911.8,94.8 912.1,86.1 912.4,92.0 912.7,85.2 913.0,81.0 913.3,86.8 913.6,87.5 913.9,88.2 914.2,86.8 914.5,83.0 914.8,93.1 915.1,83.5 915.4,82.6 915.7,92.6 916.0,79.9 916.3,87.9 916.6,99.7 916.9,89.0 917.2,100.2 917.5,88.7 917.8,87.2 918.1,91.8 918.4,89.3 918.7,91.5 919.0,91.7 919.3,101.0 919.6,99.3 919.9,95.1 920.2,91.5 920.5,122.6 920.8,98.3 921.1,111.8 921.4,94.5 921.7,100.9 922.0,117.4 922.3,102.3 922.6,105.0 922.9,114.8 923.2,112.4 923.5,118.4 923.8,125.4 924.1,132.4 924.4,129.1 924.7,132.2 925.0,141.4 925.3,140.6 925.6,125.5 925.9,111.1 926.2,115.3 926.5,129.6 926.8,115.7 927.1,111.9 927.4,112.5 927.7,125.9 928.0,111.6 928.3,106.0 928.6,100.8 928.9,95.8 929.2,123.8 929.5,101.7 929.8,101.5 930.1,97.2 930.4,106.4 930.7,90.6 931.0,83.5 931.3,93.1 931.6,99.1 931.9,114.5 932.2,97.7 932.5,90.5 932.8,94.8" fill="none" stroke="#1818e0" stroke-width="1.7" stroke-linejoin="round"/>
<polyline points="651.0,198.8 651.3,195.9 651.6,188.1 651.9,186.0 652.2,192.6 652.5,194.8 652.8,188.0 653.1,190.8 653.4,191.5 653.7,193.1 654.0,192.1 654.3,193.8 654.6,195.4 654.9,192.8 655.2,194.4 655.5,197.3 655.8,189.6 656.1,189.6 656.4,193.9 656.7,197.7 657.0,192.4 657.3,194.4 657.6,190.5 657.9,194.4 658.2,190.3 658.5,193.9 658.8,193.2 659.1,193.0 659.4,194.9 659.7,194.0 660.0,190.0 660.3,194.4 660.6,187.6 660.9,194.7 661.2,199.0 661.5,193.1 661.8,192.8 662.1,192.2 662.4,194.9 662.7,191.0 663.0,194.5 663.3,192.6 663.6,192.3 663.9,192.9 664.2,192.2 664.5,186.9 664.8,197.0 665.1,192.1 665.4,187.6 665.7,194.5 666.0,191.9 666.3,192.7 666.6,194.0 666.9,190.1 667.2,184.7 667.5,192.2 667.8,193.0 668.1,194.4 668.4,188.7 668.7,190.1 669.0,191.9 669.3,190.1 669.6,190.7 669.9,192.0 670.2,189.0 670.5,195.7 670.8,189.3 671.1,191.8 671.4,191.0 671.7,190.3 672.0,193.4 672.3,194.1 672.6,195.1 672.9,192.7 673.2,190.1 673.5,193.5 673.8,188.1 674.1,191.8 674.4,193.1 674.7,193.4 675.0,188.9 675.3,188.6 675.6,196.5 675.9,190.4 676.2,187.1 676.5,188.5 676.8,191.3 677.1,194.3 677.4,190.8 677.7,193.3 678.0,190.3 678.3,190.7 678.6,191.9 678.9,188.6 679.2,190.8 679.5,188.6 679.8,187.4 680.1,191.0 680.4,187.6 680.7,189.5 681.0,187.1 681.3,188.6 681.6,187.6 681.9,192.6 682.2,190.2 682.5,190.3 682.8,194.9 683.1,183.2 683.4,188.2 683.7,184.4 684.0,192.4 684.3,192.9 684.6,193.8 684.9,192.3 685.2,189.0 685.5,195.9 685.8,192.0 686.1,190.8 686.4,188.3 686.7,192.8 687.0,190.3 687.3,189.8 687.6,191.6 687.9,190.7 688.2,187.7 688.5,193.4 688.8,187.5 689.1,187.6 689.4,190.9 689.7,190.9 690.0,190.5 690.3,190.0 690.6,190.9 690.9,189.3 691.2,186.9 691.5,193.3 691.8,189.0 692.1,191.1 692.4,194.2 692.7,192.0 693.0,199.1 693.3,188.3 693.6,190.6 693.9,194.4 694.2,198.0 694.5,194.0 694.8,191.0 695.1,197.7 695.4,192.5 695.7,194.0 696.0,196.6 696.3,191.5 696.6,191.8 696.9,194.5 697.2,192.5 697.5,193.1 697.8,189.3 698.1,191.1 698.4,186.8 698.7,186.3 699.0,195.4 699.3,191.0 699.6,191.9 699.9,186.1 700.2,189.0 700.5,188.5 700.8,185.0 701.1,189.8 701.4,186.9 701.7,188.0 702.0,184.9 702.3,191.8 702.6,191.8 702.9,190.8 703.2,187.8 703.5,189.5 703.8,194.7 704.1,190.6 704.4,193.4 704.7,192.8 705.0,188.9 705.3,197.3 705.6,188.5 705.9,194.2 706.2,192.6 706.5,188.9 706.8,193.7 707.1,195.1 707.4,193.5 707.7,191.5 708.0,194.4 708.3,196.6 708.6,194.5 708.9,198.5 709.2,195.5 709.5,196.0 709.8,197.9 710.1,192.7 710.4,192.6 710.7,195.3 711.0,196.0 711.3,197.8 711.6,196.2 711.9,193.6 712.2,194.5 712.5,192.7 712.8,193.1 713.1,192.1 713.4,195.4 713.7,191.8 714.0,192.8 714.3,193.8 714.6,191.9 714.9,193.7 715.2,188.7 715.5,194.7 715.8,192.2 716.1,193.8 716.4,194.2 716.7,188.8 717.0,199.4 717.3,193.4 717.6,193.9 717.9,189.0 718.2,194.5 718.5,194.0 718.8,191.4 719.1,193.0 719.4,195.8 719.7,191.3 720.0,189.7 720.3,195.5 720.6,192.8 720.9,189.8 721.2,196.9 721.5,191.2 721.8,190.6 722.1,191.4 722.4,190.0 722.7,191.3 723.0,191.1 723.3,189.7 723.6,190.2 723.9,191.7 724.2,192.3 724.5,193.2 724.8,194.0 725.1,192.5 725.4,193.2 725.7,191.2 726.0,191.8 726.3,195.3 726.6,187.1 726.9,193.8 727.2,200.7 727.5,188.1 727.8,196.9 728.1,188.7 728.4,194.4 728.7,197.3 729.0,196.7 729.3,189.9 729.6,189.0 729.9,188.8 730.0,184.0 730.2,194.1 730.5,191.4 730.8,192.2 731.1,192.7 731.4,193.5 731.7,193.8 732.0,192.2 732.3,188.1 732.6,196.4 732.9,185.5 733.2,195.8 733.5,190.2 733.8,191.3 734.1,189.8 734.4,189.5 734.7,190.4 735.0,190.4 735.3,188.2 735.6,193.4 735.9,189.3 736.2,194.4 736.5,189.8 736.8,188.3 737.1,191.6 737.4,191.8 737.7,187.0 738.0,189.6 738.3,193.6 738.6,187.0 738.9,186.9 739.2,189.3 739.5,185.4 739.8,182.3 740.1,184.7 740.4,189.7 740.7,190.3 741.0,189.2 741.3,188.7 741.6,184.6 741.9,189.8 742.2,190.6 742.5,185.6 742.8,190.2 743.1,185.6 743.4,187.8 743.7,188.2 744.0,181.6 744.3,189.9 744.6,183.3 744.9,185.7 745.2,185.0 745.5,187.5 745.8,186.5 746.1,185.2 746.4,189.1 746.7,186.5 747.0,185.1 747.3,178.5 747.6,184.8 747.9,184.8 748.2,183.4 748.5,183.8 748.8,187.5 749.1,189.1 749.4,191.7 749.7,189.2 750.0,185.4 750.3,187.3 750.6,183.7 750.9,189.4 751.2,188.3 751.5,186.8 751.8,188.5 752.1,189.4 752.4,188.9 752.7,193.8 753.0,198.1 753.3,193.2 753.6,194.5 753.9,192.2 754.2,191.5 754.5,198.4 754.8,191.8 755.0,183.0 755.1,194.0 755.4,192.0 755.7,194.6 756.0,192.7 756.3,194.2 756.6,189.5 756.9,191.7 757.2,195.0 757.5,188.7 757.8,190.0 758.1,194.4 758.4,191.8 758.7,194.2 759.0,186.0 759.3,190.7 759.6,186.5 759.9,185.2 760.2,188.9 760.5,190.9 760.8,184.2 761.1,185.2 761.4,186.5 761.7,187.4 762.0,184.5 762.3,194.0 762.6,189.0 762.9,186.9 763.2,186.7 763.5,193.8 763.8,193.3 764.1,186.3 764.4,188.0 764.7,190.0 765.0,183.4 765.3,185.2 765.6,190.5 765.9,186.1 766.2,187.1 766.5,184.1 766.8,184.9 767.1,189.0 767.4,185.3 767.7,184.3 768.0,185.3 768.3,191.8 768.6,188.5 768.9,186.7 769.2,188.9 769.5,190.0 769.8,188.8 770.0,182.0 770.1,183.9 770.4,189.9 770.7,188.9 771.0,192.4 771.3,187.1 771.6,193.0 771.9,189.2 772.2,186.2 772.5,194.3 772.8,189.0 773.1,191.7 773.4,189.8 773.7,192.9 774.0,193.3 774.3,193.4 774.6,191.7 774.9,185.6 775.2,184.4 775.5,188.6 775.8,186.4 776.1,189.3 776.4,187.9 776.7,184.1 777.0,184.9 777.3,185.0 777.6,185.5 777.9,187.1 778.2,189.8 778.5,191.5 778.8,186.1 779.1,186.0 779.4,191.4 779.7,188.9 780.0,187.6 780.3,180.7 780.6,184.2 780.9,187.5 781.2,186.1 781.5,193.4 781.8,187.8 782.1,188.3 782.4,185.7 782.7,184.9 783.0,185.4 783.3,184.8 783.6,185.7 783.9,187.3 784.2,187.0 784.5,188.6 784.8,182.6 785.1,187.1 785.4,187.9 785.7,191.6 786.0,186.4 786.3,188.3 786.6,185.0 786.9,188.3 787.2,188.3 787.5,185.3 787.8,186.0 788.1,188.0 788.4,189.2 788.7,184.8 789.0,190.3 789.3,187.6 789.6,194.2 789.9,193.4 790.2,188.6 790.5,189.0 790.8,196.5 791.1,191.6 791.4,190.3 791.7,188.5 792.0,188.5 792.3,190.8 792.6,191.1 792.9,186.9 793.2,192.2 793.5,190.0 793.8,187.1 794.1,191.4 794.4,188.4 794.7,191.4 795.0,188.1 795.0,208.0 795.3,190.5 795.6,185.4 795.9,190.5 796.2,185.3 796.5,189.2 796.8,182.9 797.1,189.9 797.4,193.1 797.7,192.3 798.0,195.4 798.3,189.3 798.6,196.0 798.9,196.8 799.2,189.9 799.5,191.5 799.8,192.1 800.1,194.4 800.4,195.5 800.7,188.5 801.0,196.1 801.3,193.3 801.6,191.1 801.9,196.0 802.2,192.7 802.5,196.6 802.8,195.2 803.1,193.4 803.4,196.7 803.7,195.8 804.0,191.8 804.3,188.7 804.6,191.7 804.9,194.5 805.0,185.0 805.2,192.3 805.5,197.9 805.8,194.3 806.1,194.1 806.4,193.9 806.7,189.8 807.0,192.5 807.3,191.5 807.6,186.8 807.9,188.3 808.2,194.8 808.5,192.5 808.8,192.8 809.1,188.7 809.4,191.4 809.7,195.0 810.0,192.9 810.3,191.1 810.6,196.0 810.9,191.8 811.2,190.6 811.5,193.3 811.8,184.9 812.1,190.4 812.4,186.1 812.7,186.7 813.0,186.4 813.3,188.7 813.6,188.5 813.9,188.7 814.2,188.2 814.5,190.5 814.8,191.6 815.1,188.5 815.4,188.8 815.7,185.5 816.0,184.1 816.3,189.3 816.6,187.7 816.9,189.6 817.2,182.8 817.5,195.1 817.8,184.9 818.1,187.9 818.4,190.2 818.7,184.6 819.0,187.3 819.3,183.1 819.6,184.6 819.9,183.6 820.0,192.1 820.3,200.3 820.6,186.7 820.9,186.2 821.2,178.7 821.5,188.8 821.8,183.5 822.1,186.9 822.4,189.1 822.7,183.5 823.0,176.9 823.3,183.9 823.6,183.2 823.9,183.4 824.2,187.4 824.5,180.8 824.8,179.9 825.1,193.3 825.4,188.2 825.7,179.6 826.0,173.3 826.3,175.6 826.6,180.2 826.9,182.3 827.2,192.0 827.5,172.5 827.8,174.2 828.1,169.5 828.4,171.4 828.7,167.1 829.0,161.2 829.3,174.6 829.6,167.3 829.9,174.2 830.2,160.9 830.5,165.5 830.8,167.5 831.1,149.2 831.4,152.3 831.7,165.9 832.0,160.7 832.3,146.5 832.6,153.4 832.9,150.5 833.2,153.7 833.5,167.0 833.8,151.6 834.1,168.8 834.4,152.3 834.7,148.2 835.0,163.4 835.3,158.4 835.6,160.6 835.9,163.8 836.2,157.1 836.5,157.8 836.8,136.9 837.1,142.6 837.4,150.9 837.7,148.8 838.0,151.8 838.3,143.1 838.6,153.6 838.9,159.4 839.2,149.0 839.5,150.2 839.8,147.5 840.1,149.9 840.4,144.5 840.7,139.0 841.0,143.4 841.3,142.2 841.6,130.4 841.9,142.1 842.2,139.5 842.5,139.3 842.8,132.5 843.1,138.2 843.4,137.7 843.7,126.9 844.0,132.6 844.3,134.2 844.6,132.5 844.9,119.4 845.2,115.2 845.5,118.0 845.8,106.0 846.0,123.9 846.3,103.4 846.6,103.7 846.9,113.5 847.2,106.0 847.5,94.5 847.8,108.0 848.1,102.7 848.4,105.4 848.7,97.5 849.0,101.4 849.3,106.7 849.6,107.9 849.9,102.3 850.2,105.2 850.5,102.8 850.8,109.0 851.1,107.2 851.4,99.7 851.7,110.8 852.0,101.8 852.0,140.0 852.3,107.4 852.6,99.4 852.9,106.7 853.2,103.9 853.5,104.3 853.8,108.1 854.1,107.7 854.4,106.2 854.7,106.5 855.0,97.7 855.3,104.3 855.6,89.6 855.9,89.1 856.2,101.2 856.5,102.9 856.8,113.3 857.1,108.6 857.4,112.5 857.7,103.9 858.0,109.5 858.3,113.9 858.6,109.4 858.9,108.1 859.2,107.5 859.5,101.1 859.8,100.4 860.1,96.7 860.4,108.2 860.7,105.0 861.0,102.9 861.3,110.2 861.6,105.1 861.9,115.5 862.0,150.0 862.2,120.9 862.5,111.3 862.8,103.6 863.1,98.6 863.4,120.4 863.7,110.4 864.0,99.5 864.3,115.2 864.6,97.1 864.9,105.4 865.2,105.6 865.5,104.6 865.8,99.4 866.1,122.2 866.4,104.3 866.7,108.8 867.0,106.0 867.3,94.7 867.6,101.6 867.9,106.6 868.2,111.8 868.5,103.9 868.8,109.5 869.1,103.7 869.4,109.2 869.7,89.7 870.0,109.7 870.3,100.6 870.6,101.7 870.9,86.5 871.0,118.0 871.2,98.6 871.5,108.9 871.8,120.1 872.1,100.8 872.4,101.3 872.7,108.7 873.0,107.6 873.3,102.5 873.6,105.1 873.9,103.5 874.2,108.9 874.5,109.9 874.8,115.8 875.1,111.2 875.4,110.1 875.7,105.7 876.0,110.7 876.3,97.9 876.6,117.4 876.9,105.1 877.2,111.9 877.5,97.9 877.8,109.7 878.1,105.3 878.4,101.2 878.7,97.0 879.0,95.0 879.3,112.1 879.6,108.4 879.9,101.3 880.0,132.0 880.2,103.7 880.5,97.9 880.8,90.4 881.1,90.7 881.4,98.1 881.7,101.7 882.0,94.4 882.3,107.8 882.6,106.3 882.9,103.5 883.2,90.6 883.5,101.4 883.8,101.8 884.1,94.0 884.4,88.0 884.7,116.0 885.0,108.4 885.3,101.7 885.6,114.8 885.9,110.9 886.2,106.2 886.5,105.4 886.8,109.3 887.1,113.9 887.4,104.6 887.7,102.2 888.0,108.4 888.3,86.5 888.6,105.7 888.9,103.6 889.2,107.2 889.5,106.0 889.8,110.3 890.1,108.8 890.4,108.8 890.7,106.8 891.0,110.2 891.3,105.1 891.6,114.4 891.9,98.1 892.2,109.1 892.5,110.0 892.8,98.6 893.0,122.0 893.1,103.5 893.4,114.6 893.7,105.5 894.0,99.9 894.3,86.9 894.6,108.3 894.9,105.9 895.2,108.3 895.5,117.5 895.8,104.4 896.1,105.0 896.4,99.8 896.7,103.3 897.0,103.3 897.3,108.3 897.6,105.6 897.9,96.1 898.2,98.7 898.5,110.7 898.8,95.3 899.1,106.1 899.4,111.0 899.7,104.1 900.0,101.7 900.3,107.8 900.6,100.9 900.9,98.8 901.2,97.9 901.5,105.5 901.8,102.2 902.1,107.8 902.4,95.0 902.7,95.3 903.0,93.7 903.3,97.9 903.6,93.0 903.9,104.7 904.0,108.0 904.2,100.7 904.5,92.9 904.8,80.5 905.1,88.1 905.4,110.5 905.7,100.7 906.0,102.1 906.3,98.6 906.6,103.4 906.9,88.9 907.2,88.7 907.5,92.0 907.8,103.5 908.1,108.5 908.4,107.1 908.7,102.9 909.0,95.9 909.3,109.4 909.6,102.1 909.9,102.1 910.2,102.0 910.5,98.7 910.8,97.5 911.1,99.0 911.4,94.0 911.7,104.5 912.0,101.3 912.3,108.7 912.6,90.6 912.9,109.7 913.2,101.6 913.5,100.4 913.8,96.2 914.1,95.3 914.4,90.9 914.7,107.5 915.0,100.5 915.0,125.0 915.3,106.8 915.6,107.3 915.9,98.9 916.2,100.3 916.5,98.8 916.8,106.5 917.1,100.0 917.4,100.5 917.7,103.9 918.0,98.1 918.3,111.6 918.6,92.6 918.9,106.8 919.2,106.7 919.5,90.7 919.8,103.4 920.1,100.1 920.4,103.6 920.7,90.3 921.0,99.7 921.3,91.7 921.6,96.5 921.9,107.8 922.2,97.2 922.5,84.2 922.8,90.6 923.1,91.8 923.4,105.5 923.7,94.7 924.0,90.2 924.3,107.7 924.6,101.4 924.9,101.9 925.2,94.5 925.5,108.9 925.8,99.1 926.1,86.6 926.4,91.1 926.7,92.9 927.0,97.9 927.3,103.9 927.6,94.1 927.9,94.6 928.2,113.6 928.5,99.8 928.8,95.7 929.1,99.9 929.4,91.6 929.7,102.8 930.0,106.1 930.3,96.6 930.6,107.1 930.9,97.9 931.2,102.3 931.5,95.5 931.8,94.7 932.1,90.6 932.4,103.2 932.7,99.4" fill="none" stroke="#0a0a0a" stroke-width="1.7" stroke-linejoin="round"/>
<line x1="1124.20" y1="20.30" x2="1124.20" y2="251.00" stroke="#141414" stroke-width="2.6"/>
<line x1="1119.50" y1="249.70" x2="1409.80" y2="249.70" stroke="#141414" stroke-width="2.6"/>
<line x1="1118.70" y1="249.60" x2="1124.20" y2="249.60" stroke="#141414" stroke-width="2.2"/>
<line x1="1118.70" y1="173.60" x2="1124.20" y2="173.60" stroke="#141414" stroke-width="2.2"/>
<line x1="1118.70" y1="97.60" x2="1124.20" y2="97.60" stroke="#141414" stroke-width="2.2"/>
<line x1="1118.70" y1="21.60" x2="1124.20" y2="21.60" stroke="#141414" stroke-width="2.2"/>
<line x1="1120.70" y1="211.60" x2="1124.20" y2="211.60" stroke="#141414" stroke-width="2.0"/>
<line x1="1120.70" y1="135.60" x2="1124.20" y2="135.60" stroke="#141414" stroke-width="2.0"/>
<line x1="1120.70" y1="59.60" x2="1124.20" y2="59.60" stroke="#141414" stroke-width="2.0"/>
<line x1="1199.95" y1="249.70" x2="1199.95" y2="254.20" stroke="#141414" stroke-width="2.2"/>
<line x1="1294.70" y1="249.70" x2="1294.70" y2="254.20" stroke="#141414" stroke-width="2.2"/>
<line x1="1389.45" y1="249.70" x2="1389.45" y2="254.20" stroke="#141414" stroke-width="2.2"/>
<line x1="1152.58" y1="249.70" x2="1152.58" y2="252.90" stroke="#141414" stroke-width="2.0"/>
<line x1="1247.33" y1="249.70" x2="1247.33" y2="252.90" stroke="#141414" stroke-width="2.0"/>
<line x1="1342.08" y1="249.70" x2="1342.08" y2="252.90" stroke="#141414" stroke-width="2.0"/>
<polyline points="1125.0,216.9 1125.3,216.5 1125.6,218.7 1125.9,220.5 1126.2,222.3 1126.5,220.7 1126.8,219.7 1127.1,218.8 1127.4,221.8 1127.7,223.5 1128.0,220.3 1128.3,217.5 1128.6,217.7 1128.9,222.6 1129.2,220.1 1129.5,216.5 1129.8,219.6 1130.1,217.3 1130.4,217.9 1130.7,218.5 1131.0,218.0 1131.3,219.9 1131.6,218.6 1131.9,217.3 1132.2,219.1 1132.5,219.6 1132.8,214.3 1133.1,217.3 1133.4,216.1 1133.7,217.8 1134.0,216.1 1134.3,218.1 1134.6,217.5 1134.9,217.7 1135.2,216.3 1135.5,218.1 1135.8,217.2 1136.1,217.1 1136.4,220.5 1136.7,217.5 1137.0,222.5 1137.3,221.5 1137.6,216.4 1137.9,220.9 1138.2,218.1 1138.5,220.6 1138.8,220.7 1139.1,216.7 1139.4,219.8 1139.7,219.7 1140.0,222.8 1140.0,226.0 1140.3,219.2 1140.6,224.4 1140.9,220.9 1141.2,222.6 1141.5,221.5 1141.8,225.5 1142.1,223.8 1142.4,228.1 1142.7,224.8 1143.0,224.9 1143.3,224.9 1143.6,222.0 1143.9,222.6 1144.2,226.0 1144.5,222.1 1144.8,222.9 1145.1,223.2 1145.4,225.1 1145.7,223.4 1146.0,223.4 1146.3,224.1 1146.6,223.3 1146.9,221.3 1147.2,224.9 1147.5,220.5 1147.8,221.1 1148.1,220.6 1148.4,224.4 1148.7,222.3 1149.0,221.6 1149.3,221.3 1149.6,224.1 1149.9,221.9 1150.2,221.2 1150.5,225.3 1150.8,221.7 1151.1,222.6 1151.4,222.7 1151.7,221.7 1152.0,221.7 1152.3,225.0 1152.6,221.4 1152.9,219.8 1153.2,217.9 1153.5,220.8 1153.8,220.9 1154.1,221.7 1154.4,220.4 1154.7,220.1 1155.0,218.9 1155.3,219.7 1155.6,221.0 1155.9,219.9 1156.2,220.8 1156.5,224.2 1156.8,222.4 1157.1,218.6 1157.4,225.8 1157.7,222.6 1158.0,220.3 1158.3,223.8 1158.6,222.2 1158.9,220.7 1159.2,221.3 1159.5,220.2 1159.8,221.8 1160.1,224.0 1160.4,221.2 1160.7,222.2 1161.0,225.1 1161.3,218.6 1161.6,222.2 1161.9,220.3 1162.2,218.4 1162.5,218.7 1162.8,219.8 1163.1,221.0 1163.4,218.6 1163.7,220.2 1164.0,221.8 1164.3,221.2 1164.6,222.2 1164.9,221.6 1165.2,221.4 1165.5,223.9 1165.8,221.0 1166.1,220.9 1166.4,222.2 1166.7,219.2 1167.0,220.7 1167.3,222.7 1167.6,221.9 1167.9,223.7 1168.2,220.9 1168.5,217.3 1168.8,224.2 1169.1,222.0 1169.4,217.4 1169.7,222.4 1170.0,219.7 1170.3,215.5 1170.6,218.5 1170.9,217.6 1171.2,221.1 1171.5,217.0 1171.8,218.7 1172.1,218.8 1172.4,218.5 1172.7,217.5 1173.0,219.2 1173.3,221.3 1173.6,220.4 1173.9,217.2 1174.2,216.3 1174.5,219.0 1174.8,217.5 1175.0,212.0 1175.1,216.4 1175.4,214.4 1175.7,221.5 1176.0,219.2 1176.3,215.3 1176.6,218.7 1176.9,219.7 1177.2,212.9 1177.5,216.2 1177.8,215.9 1178.1,217.3 1178.4,215.9 1178.7,214.9 1179.0,214.9 1179.3,217.9 1179.6,218.9 1179.9,213.8 1180.2,213.2 1180.5,220.2 1180.8,212.4 1181.1,213.4 1181.4,214.6 1181.7,215.5 1182.0,215.9 1182.3,214.2 1182.6,211.2 1182.9,214.2 1183.2,213.6 1183.5,217.3 1183.8,214.2 1184.1,211.8 1184.4,212.3 1184.7,217.3 1185.0,213.7 1185.3,211.5 1185.6,214.0 1185.9,215.3 1186.0,213.0 1186.2,217.0 1186.5,212.3 1186.8,216.2 1187.1,217.3 1187.4,214.2 1187.7,215.0 1188.0,219.0 1188.3,219.4 1188.6,218.3 1188.9,217.8 1189.2,219.4 1189.5,216.4 1189.8,215.7 1190.1,214.2 1190.4,216.1 1190.7,216.2 1191.0,222.2 1191.3,215.9 1191.6,218.6 1191.9,217.8 1192.2,215.4 1192.5,218.9 1192.8,211.5 1193.1,215.7 1193.4,216.2 1193.7,210.3 1194.0,213.6 1194.3,217.9 1194.6,214.9 1194.9,212.4 1195.2,213.9 1195.5,213.5 1195.8,216.4 1196.1,215.4 1196.4,213.4 1196.7,213.4 1197.0,214.1 1197.3,216.9 1197.6,215.0 1197.9,216.0 1198.2,213.8 1198.5,211.5 1198.8,212.8 1199.1,215.6 1199.4,215.8 1199.7,213.0 1200.0,211.4 1200.0,224.0 1200.3,214.9 1200.6,214.3 1200.9,214.9 1201.2,214.7 1201.5,216.3 1201.8,216.4 1202.1,217.8 1202.4,217.6 1202.7,218.2 1203.0,217.2 1203.3,214.9 1203.6,216.1 1203.9,217.5 1204.2,217.4 1204.5,218.7 1204.8,220.3 1205.1,216.5 1205.4,214.2 1205.7,220.1 1206.0,217.6 1206.3,219.0 1206.6,214.4 1206.9,220.5 1207.2,219.3 1207.5,216.8 1207.8,216.6 1208.1,217.6 1208.4,217.2 1208.7,217.6 1209.0,216.7 1209.3,221.5 1209.6,218.6 1209.9,218.2 1210.2,217.8 1210.5,212.9 1210.8,218.7 1211.1,217.2 1211.4,217.8 1211.7,219.6 1212.0,218.1 1212.3,222.2 1212.6,219.3 1212.9,218.8 1213.2,218.6 1213.5,220.7 1213.8,222.3 1214.1,219.3 1214.4,217.0 1214.7,221.9 1215.0,217.9 1215.3,222.1 1215.6,219.4 1215.9,219.9 1216.2,219.8 1216.5,221.6 1216.8,222.2 1217.1,220.7 1217.4,222.9 1217.7,224.7 1218.0,220.2 1218.3,218.2 1218.6,218.3 1218.9,217.0 1219.2,218.4 1219.5,218.4 1219.8,216.5 1220.1,221.0 1220.4,215.4 1220.7,217.4 1221.0,223.4 1221.3,222.0 1221.6,221.5 1221.9,219.9 1222.2,222.5 1222.5,221.3 1222.8,220.9 1223.0,193.3 1223.3,197.3 1223.6,199.6 1223.9,191.3 1224.0,183.0 1224.2,190.5 1224.5,195.7 1224.8,185.5 1225.1,187.9 1225.4,188.7 1225.7,190.6 1226.0,189.0 1226.3,186.9 1226.6,191.1 1226.9,185.8 1227.2,183.9 1227.5,182.9 1227.8,192.6 1228.1,183.9 1228.4,191.6 1228.7,192.3 1229.0,192.8 1229.3,189.4 1229.6,188.1 1229.9,190.3 1230.2,187.9 1230.5,185.5 1230.8,194.4 1231.1,186.9 1231.4,196.3 1231.7,191.8 1232.0,188.4 1232.3,191.5 1232.6,194.3 1232.9,185.2 1233.2,186.8 1233.5,186.3 1233.8,190.6 1234.1,191.4 1234.4,190.1 1234.7,187.5 1235.0,188.2 1235.3,194.2 1235.6,193.9 1235.9,190.5 1236.2,185.4 1236.5,192.2 1236.8,191.0 1237.1,191.1 1237.4,197.0 1237.7,194.4 1238.0,188.8 1238.3,189.5 1238.6,198.4 1238.9,195.0 1239.0,171.0 1239.2,198.1 1239.5,195.3 1239.8,193.0 1240.1,198.1 1240.4,203.3 1240.7,199.7 1241.0,195.3 1241.3,198.1 1241.6,197.5 1241.9,199.9 1242.2,202.8 1242.5,206.2 1242.8,200.1 1243.1,197.8 1243.4,199.6 1243.7,199.4 1244.0,197.8 1244.3,199.4 1244.6,199.3 1244.9,195.2 1245.0,205.0 1245.2,201.3 1245.5,198.1 1245.8,195.9 1246.1,201.1 1246.4,197.6 1246.7,205.4 1247.0,201.0 1247.3,199.6 1247.6,196.7 1247.9,197.9 1248.2,201.4 1248.5,194.8 1248.8,198.6 1249.1,187.3 1249.4,194.0 1249.7,194.9 1250.0,192.0 1250.3,189.5 1250.6,191.8 1250.9,183.9 1251.0,168.0 1251.2,182.2 1251.5,184.8 1251.8,187.3 1252.1,183.8 1252.4,181.7 1252.7,183.5 1253.0,184.1 1253.3,178.3 1253.6,172.9 1253.9,179.2 1254.2,177.7 1254.5,181.0 1254.8,178.9 1255.1,180.2 1255.4,184.8 1255.7,183.7 1256.0,183.4 1256.3,189.4 1256.6,182.1 1256.9,182.4 1257.2,188.3 1257.5,180.1 1257.8,178.3 1258.1,188.7 1258.4,185.4 1258.7,186.4 1259.0,186.7 1259.3,187.7 1259.6,183.0 1259.9,184.5 1260.2,180.9 1260.5,185.4 1260.8,185.8 1261.1,183.5 1261.4,187.5 1261.7,195.6 1262.0,163.1 1262.3,179.7 1262.6,179.9 1262.9,179.2 1263.0,113.0 1263.2,161.8 1263.5,176.2 1263.8,169.9 1264.1,161.2 1264.4,158.9 1264.7,162.2 1265.0,167.0 1265.3,167.2 1265.6,177.2 1265.9,154.9 1266.2,163.2 1266.5,154.6 1266.8,164.7 1267.1,160.2 1267.4,155.4 1267.7,150.0 1268.0,153.6 1268.3,159.1 1268.6,167.8 1268.9,162.7 1269.2,148.6 1269.5,155.0 1269.8,160.8 1270.0,178.0 1270.1,160.7 1270.4,162.1 1270.7,168.2 1271.0,163.7 1271.3,153.0 1271.6,143.6 1271.9,155.1 1272.2,142.8 1272.5,154.9 1272.8,158.3 1273.1,145.6 1273.4,153.7 1273.7,150.8 1274.0,169.0 1274.3,157.3 1274.6,139.5 1274.9,158.5 1275.2,157.7 1275.5,151.4 1275.5,77.0 1275.8,148.6 1276.0,95.2 1276.8,99.4 1277.6,136.9 1278.4,121.9 1279.2,93.5 1280.0,140.9 1280.8,132.2 1281.6,98.2 1282.4,75.0 1283.2,131.7 1284.0,111.4 1284.8,116.5 1285.6,109.7 1286.0,90.0 1286.4,136.2 1287.2,138.4 1288.0,128.0 1288.8,114.5 1289.6,118.7 1290.4,126.6 1291.2,95.7 1292.0,139.0 1292.8,116.6 1293.6,125.3 1294.4,122.5 1295.2,134.6 1296.0,138.2 1296.8,155.2 1297.6,118.1 1298.4,110.9 1299.2,129.0 1300.0,117.7 1300.0,150.0 1300.8,142.2 1301.6,117.2 1302.4,133.3 1303.2,145.0 1304.0,145.5 1304.8,132.0 1305.6,151.4 1306.4,146.3 1307.2,100.5 1308.0,129.2 1308.8,127.0 1309.6,118.9 1310.0,92.0 1310.4,114.2 1311.2,126.4 1312.0,133.0 1312.8,132.7 1313.6,148.6 1314.4,141.9 1315.2,119.5 1316.0,117.9 1316.8,139.5 1317.6,115.9 1318.4,129.7 1319.2,135.3 1320.0,144.7 1320.8,137.4 1321.6,151.0 1322.0,150.0 1322.4,122.6 1323.2,140.4 1324.0,116.8 1324.8,129.3 1325.6,126.8 1326.4,109.8 1327.2,85.8 1328.0,140.1 1328.8,131.2 1329.6,128.0 1330.4,115.8 1331.2,123.4 1331.6,43.0 1332.0,134.2 1332.8,125.8 1333.6,141.4 1334.4,125.4 1335.2,112.3 1336.0,131.0 1336.8,109.9 1337.6,121.5 1338.4,92.0 1339.2,115.5 1340.0,129.2 1340.8,110.0 1341.6,119.4 1342.4,127.7 1343.0,75.0 1343.2,120.1 1344.0,142.3 1344.8,108.5 1345.6,106.5 1346.4,103.7 1347.2,78.9 1348.0,84.0 1348.8,104.7 1349.6,96.6 1350.4,111.4 1351.2,99.4 1352.0,100.3 1352.8,113.4 1353.6,108.4 1354.4,122.6 1355.2,94.9 1356.0,109.3 1356.8,113.3 1357.6,112.2 1358.4,117.9 1359.2,114.8 1360.0,106.0 1360.0,160.0 1360.8,104.6 1361.6,123.5 1362.4,115.4 1363.2,126.6 1364.0,133.0 1364.8,120.6 1365.6,104.5 1366.4,111.8 1367.2,131.2 1367.5,37.0 1368.0,114.9 1368.8,148.1 1369.6,128.2 1370.4,132.3 1371.2,118.2 1372.0,133.8 1372.0,168.0 1372.8,159.9 1373.6,130.4 1374.4,128.8 1375.2,118.9 1376.0,148.9 1376.8,99.2 1377.6,118.9 1378.4,152.4 1379.2,162.1 1380.0,129.0 1380.0,165.0 1380.8,154.3 1381.6,92.8 1382.4,153.7 1383.2,142.6 1384.0,107.7 1384.8,93.4 1385.0,62.0 1385.6,118.0 1386.4,134.8 1387.2,136.6 1388.0,129.7 1388.8,141.9 1389.6,138.8 1390.4,93.1 1391.2,116.1 1392.0,112.4 1392.8,145.4 1393.6,109.7 1394.4,143.8 1395.2,122.1 1395.8,22.0 1396.0,171.9 1396.8,115.4 1397.6,116.5 1398.4,114.7 1399.2,122.0 1400.0,173.1 1400.8,106.6 1401.6,98.3 1402.0,70.0 1402.4,114.5 1403.2,133.6 1404.0,94.2 1404.8,135.6 1405.6,134.9 1406.4,110.5 1407.2,106.7 1407.8,49.0 1408.0,93.9 1408.8,106.1 1409.5,181.0" fill="none" stroke="#0a0a0a" stroke-width="1.9" stroke-linejoin="round"/>
<line x1="1596.10" y1="3.60" x2="1596.10" y2="234.40" stroke="#141414" stroke-width="2.6"/>
<line x1="1592.50" y1="233.10" x2="1882.00" y2="233.10" stroke="#141414" stroke-width="2.6"/>
<line x1="1590.60" y1="233.10" x2="1596.10" y2="233.10" stroke="#141414" stroke-width="2.2"/>
<line x1="1590.60" y1="162.50" x2="1596.10" y2="162.50" stroke="#141414" stroke-width="2.2"/>
<line x1="1590.60" y1="91.90" x2="1596.10" y2="91.90" stroke="#141414" stroke-width="2.2"/>
<line x1="1590.60" y1="21.30" x2="1596.10" y2="21.30" stroke="#141414" stroke-width="2.2"/>
<line x1="1592.60" y1="197.80" x2="1596.10" y2="197.80" stroke="#141414" stroke-width="2.0"/>
<line x1="1592.60" y1="127.20" x2="1596.10" y2="127.20" stroke="#141414" stroke-width="2.0"/>
<line x1="1592.60" y1="56.60" x2="1596.10" y2="56.60" stroke="#141414" stroke-width="2.0"/>
<line x1="1672.40" y1="233.10" x2="1672.40" y2="237.60" stroke="#141414" stroke-width="2.2"/>
<line x1="1767.10" y1="233.10" x2="1767.10" y2="237.60" stroke="#141414" stroke-width="2.2"/>
<line x1="1861.80" y1="233.10" x2="1861.80" y2="237.60" stroke="#141414" stroke-width="2.2"/>
<line x1="1625.05" y1="233.10" x2="1625.05" y2="236.30" stroke="#141414" stroke-width="2.0"/>
<line x1="1719.75" y1="233.10" x2="1719.75" y2="236.30" stroke="#141414" stroke-width="2.0"/>
<line x1="1814.45" y1="233.10" x2="1814.45" y2="236.30" stroke="#141414" stroke-width="2.0"/>
<polyline points="1597.0,195.1 1597.3,196.4 1597.6,195.1 1597.9,194.5 1598.2,195.3 1598.5,194.2 1598.8,196.8 1599.1,200.9 1599.4,196.9 1599.7,195.6 1600.0,198.1 1600.3,198.0 1600.6,197.9 1600.9,195.7 1601.2,198.0 1601.5,200.1 1601.8,195.2 1602.1,197.7 1602.4,193.8 1602.7,194.2 1603.0,192.6 1603.3,195.9 1603.6,193.3 1603.9,196.2 1604.2,195.8 1604.5,194.7 1604.8,188.2 1605.1,192.2 1605.4,192.0 1605.7,193.3 1606.0,189.5 1606.3,192.5 1606.6,190.7 1606.9,191.2 1607.2,196.3 1607.5,191.0 1607.8,193.0 1608.1,196.0 1608.4,191.4 1608.7,193.5 1609.0,193.7 1609.3,194.1 1609.6,189.7 1609.9,193.8 1610.2,197.5 1610.5,189.5 1610.8,196.1 1611.1,194.6 1611.4,193.4 1611.7,200.4 1612.0,197.7 1612.3,192.0 1612.6,196.3 1612.9,197.6 1613.2,195.2 1613.5,197.4 1613.8,195.3 1614.1,196.8 1614.4,199.1 1614.7,193.2 1615.0,194.9 1615.3,192.9 1615.6,193.9 1615.9,189.9 1616.2,191.4 1616.5,192.0 1616.8,195.2 1617.1,195.9 1617.4,188.1 1617.7,189.0 1618.0,191.6 1618.3,183.1 1618.6,186.1 1618.9,187.4 1619.2,191.0 1619.5,189.9 1619.8,186.2 1620.1,186.1 1620.4,186.3 1620.7,191.3 1621.0,186.9 1621.3,188.1 1621.6,191.0 1621.9,189.5 1622.2,189.2 1622.5,187.1 1622.8,190.2 1623.1,189.2 1623.4,194.4 1623.7,194.4 1624.0,192.1 1624.3,194.8 1624.6,192.7 1624.9,195.8 1625.2,192.9 1625.5,194.1 1625.8,188.7 1626.1,193.3 1626.4,188.6 1626.7,188.2 1627.0,192.4 1627.3,189.4 1627.6,192.2 1627.9,198.6 1628.2,189.7 1628.5,189.7 1628.8,192.6 1629.1,193.4 1629.4,191.3 1629.7,189.9 1630.0,192.7 1630.3,192.0 1630.6,186.0 1630.9,189.3 1631.2,189.7 1631.5,186.8 1631.8,192.1 1632.1,189.2 1632.4,193.0 1632.7,190.5 1633.0,191.2 1633.3,189.2 1633.6,190.3 1633.9,184.3 1634.2,186.5 1634.5,191.8 1634.8,182.9 1635.1,190.8 1635.4,183.2 1635.7,190.9 1636.0,186.9 1636.3,192.2 1636.6,191.1 1636.9,186.3 1637.2,193.9 1637.5,194.2 1637.8,188.5 1638.1,187.4 1638.4,188.4 1638.7,185.1 1639.0,190.5 1639.3,186.2 1639.6,188.2 1639.9,185.7 1640.2,187.8 1640.5,186.2 1640.8,194.2 1641.1,190.6 1641.4,195.2 1641.7,192.7 1642.0,190.6 1642.3,191.4 1642.6,190.6 1642.9,191.7 1643.2,191.2 1643.5,191.7 1643.8,188.5 1644.1,190.0 1644.4,196.8 1644.7,190.1 1645.0,188.8 1645.3,192.6 1645.6,196.1 1645.9,187.8 1646.2,190.9 1646.5,188.7 1646.8,185.9 1647.1,193.3 1647.4,189.7 1647.7,190.0 1648.0,186.8 1648.3,191.2 1648.6,188.4 1648.9,189.3 1649.2,186.3 1649.5,185.3 1649.8,193.4 1650.1,187.6 1650.4,191.1 1650.7,189.7 1651.0,187.8 1651.3,187.3 1651.6,189.4 1651.9,186.3 1652.2,186.9 1652.5,187.6 1652.8,190.5 1653.1,188.6 1653.4,188.6 1653.7,185.4 1654.0,183.2 1654.3,190.4 1654.6,191.5 1654.9,188.9 1655.2,191.2 1655.5,192.4 1655.8,192.7 1656.1,193.0 1656.4,187.7 1656.7,194.2 1657.0,186.0 1657.3,193.0 1657.6,192.7 1657.9,194.9 1658.2,197.2 1658.5,195.6 1658.8,187.7 1659.1,186.5 1659.4,194.1 1659.7,187.8 1660.0,190.6 1660.3,192.1 1660.6,182.6 1660.9,180.7 1661.2,188.2 1661.5,186.8 1661.8,185.4 1662.1,186.6 1662.4,184.3 1662.7,181.9 1663.0,186.5 1663.3,183.1 1663.6,180.3 1663.9,186.9 1664.2,184.4 1664.5,185.8 1664.8,181.4 1665.1,182.0 1665.4,180.1 1665.7,180.6 1666.0,184.4 1666.3,181.9 1666.6,185.1 1666.9,184.7 1667.2,189.7 1667.5,178.8 1667.8,186.4 1668.1,183.5 1668.4,183.8 1668.7,179.1 1669.0,182.9 1669.3,188.1 1669.6,186.4 1669.9,186.8 1670.2,186.4 1670.5,191.2 1670.8,187.5 1671.1,179.9 1671.4,185.3 1671.7,180.8 1672.0,176.3 1672.3,184.5 1672.6,191.1 1672.9,186.8 1673.2,183.5 1673.5,185.0 1673.8,191.6 1674.1,188.0 1674.4,186.8 1674.7,186.8 1675.0,186.6 1675.3,188.8 1675.6,188.2 1675.9,186.4 1676.2,181.6 1676.5,186.4 1676.8,181.3 1677.1,187.3 1677.4,179.8 1677.7,183.9 1678.0,183.8 1678.3,180.4 1678.6,191.6 1678.9,190.5 1679.2,183.3 1679.5,186.8 1679.8,185.6 1680.1,175.8 1680.4,186.3 1680.7,185.6 1681.0,186.7 1681.3,183.1 1681.6,185.3 1681.9,184.8 1682.2,190.1 1682.5,187.6 1682.8,186.9 1683.1,193.0 1683.4,185.2 1683.7,185.2 1684.0,181.6 1684.3,193.1 1684.6,190.5 1684.9,190.9 1685.2,190.8 1685.5,189.1 1685.8,188.2 1686.1,186.0 1686.4,185.4 1686.7,185.2 1687.0,189.7 1687.3,186.3 1687.6,183.7 1687.9,182.0 1688.2,182.7 1688.5,190.1 1688.8,185.9 1689.1,184.0 1689.4,182.9 1689.7,180.3 1690.0,183.5 1690.3,186.2 1690.6,181.2 1690.9,181.3 1691.2,181.1 1691.5,181.7 1691.8,176.9 1692.1,181.8 1692.4,181.0 1692.7,187.1 1693.0,181.7 1693.3,185.8 1693.6,189.1 1693.9,183.4 1694.2,181.8 1694.5,185.2 1694.8,185.1 1695.1,181.2 1695.4,185.7 1695.7,191.7 1696.0,183.4 1696.3,184.4 1696.6,181.9 1696.9,187.0 1697.2,181.7 1697.5,182.4 1697.8,190.0 1698.1,181.6 1698.4,186.7 1698.7,189.2 1699.0,183.6 1699.3,185.1 1699.6,190.3 1699.9,182.9 1700.2,181.5 1700.5,178.0 1700.8,182.7 1701.1,188.0 1701.4,186.4 1701.7,179.0 1702.0,178.9 1702.3,180.2 1702.6,182.0 1702.9,179.7 1703.2,180.0 1703.5,180.2 1703.8,179.0 1704.1,180.3 1704.4,182.1 1704.7,179.5 1705.0,182.4 1705.3,186.4 1705.6,181.7 1705.9,179.0 1706.2,171.0 1706.5,178.1 1706.8,169.7 1707.1,172.2 1707.4,180.3 1707.7,180.0 1708.0,176.2 1708.3,170.3 1708.6,176.7 1708.9,175.3 1709.2,180.3 1709.5,185.3 1709.8,177.8 1710.1,175.3 1710.4,173.7 1710.7,179.0 1711.0,178.2 1711.3,174.3 1711.6,179.2 1711.9,173.8 1712.2,183.0 1712.5,183.2 1712.8,183.5 1713.1,177.1 1713.4,180.7 1713.7,177.8 1714.0,176.8 1714.3,176.2 1714.6,171.4 1714.9,170.2 1715.2,177.9 1715.5,174.7 1715.8,174.8 1716.1,175.8 1716.4,164.5 1716.7,167.4 1717.0,170.8 1717.3,172.9 1717.6,168.6 1717.9,174.0 1718.2,171.4 1718.5,165.7 1718.8,166.1 1719.1,173.1 1719.4,171.4 1719.7,162.2 1720.0,174.3 1720.3,171.5 1720.6,174.6 1720.9,168.0 1721.2,168.4 1721.5,165.6 1721.8,180.4 1722.1,170.4 1722.4,177.9 1722.7,169.5 1723.0,171.5 1723.3,163.4 1723.6,169.0 1723.9,174.2 1724.2,164.2 1724.5,172.9 1724.8,170.5 1725.1,165.1 1725.4,166.2 1725.7,167.9 1726.0,169.5 1726.3,167.8 1726.6,167.0 1726.9,169.9 1727.2,167.6 1727.5,165.7 1727.8,170.3 1728.1,173.8 1728.4,163.0 1728.7,169.8 1729.0,168.3 1729.3,167.9 1729.6,174.2 1729.9,169.7 1730.2,179.0 1730.5,171.0 1730.8,175.0 1731.1,171.3 1731.4,170.1 1731.7,173.0 1732.0,169.8 1732.3,172.2 1732.6,168.6 1732.9,163.9 1733.2,167.5 1733.5,169.4 1733.8,173.1 1734.1,166.1 1734.4,171.0 1734.7,162.7 1735.0,171.4 1735.3,164.1 1735.6,161.0 1735.9,166.9 1736.2,170.1 1736.5,159.1 1736.8,161.4 1737.1,162.8 1737.4,161.4 1737.7,167.8 1738.0,163.3 1738.3,162.9 1738.6,169.0 1738.9,164.8 1739.2,169.6 1739.5,162.8 1739.8,161.5 1740.1,158.7 1740.4,173.0 1740.7,164.7 1741.0,167.1 1741.3,165.8 1741.6,166.7 1741.9,166.0 1742.2,173.1 1742.5,161.0 1742.8,157.5 1743.1,159.8 1743.4,157.8 1743.7,166.4 1744.0,167.3 1744.3,160.0 1744.6,157.1 1744.9,159.6 1745.2,166.6 1745.5,150.7 1745.8,164.0 1746.1,157.5 1746.4,166.1 1746.7,156.7 1747.0,160.2 1747.3,154.6 1747.6,155.6 1747.9,166.4 1748.2,165.4 1748.5,160.1 1748.8,158.8 1749.1,154.5 1749.4,160.9 1749.7,161.5 1750.0,160.7 1750.3,161.3 1750.6,157.5 1750.9,162.6 1751.2,162.3 1751.5,167.8 1751.8,169.3 1752.1,161.3 1752.4,157.1 1752.7,160.0 1753.0,157.5 1753.3,156.7 1753.6,160.8 1753.9,155.5 1754.2,160.9 1754.5,158.2 1754.8,159.2 1755.1,157.2 1755.4,155.1 1755.7,155.0 1756.0,157.8 1756.3,155.8 1756.6,158.9 1756.9,157.2 1757.2,151.9 1757.5,157.8 1757.8,152.6 1758.1,155.3 1758.4,157.2 1758.7,150.0 1759.0,157.7 1759.3,157.8 1759.6,156.0 1759.9,154.6 1760.2,155.5 1760.5,152.8 1760.8,155.7 1761.1,154.1 1761.4,157.0 1761.7,151.5 1762.0,158.4 1762.3,158.6 1762.6,157.8 1762.9,156.4 1763.2,160.2 1763.5,150.9 1763.8,158.7 1764.1,158.2 1764.4,159.1 1764.7,159.9 1765.0,156.2 1765.3,158.7 1765.6,162.2 1765.9,161.6 1766.2,159.8 1766.5,152.3 1766.8,160.6 1767.1,163.6 1767.4,162.1 1767.7,158.7 1768.0,149.6 1768.3,160.5 1768.6,155.7 1768.9,145.9 1769.2,157.6 1769.5,148.3 1769.8,149.8 1770.1,152.1 1770.4,158.5 1770.7,151.6 1771.0,155.1 1771.3,159.8 1771.6,159.8 1771.9,152.5 1772.2,152.1 1772.5,148.6 1772.8,150.6 1773.1,155.3 1773.4,155.7 1773.7,154.0 1774.0,158.1 1774.3,149.6 1774.6,151.8 1774.9,155.4 1775.2,154.4 1775.5,156.8 1775.8,152.9 1776.1,149.9 1776.4,153.4 1776.7,145.8 1777.0,141.6 1777.3,151.4 1777.6,147.9 1777.9,149.8 1778.2,140.6 1778.5,145.1 1778.8,145.1 1779.1,143.8 1779.4,137.7 1779.7,146.1 1780.0,151.1 1780.3,148.6 1780.6,144.9 1780.9,147.0 1781.2,150.6 1781.5,134.8 1781.8,146.6 1782.1,148.7 1782.4,150.1 1782.7,155.5 1783.0,152.3 1783.3,148.9 1783.6,149.2 1783.9,150.7 1784.2,145.2 1784.5,147.4 1784.8,150.7 1785.1,154.3 1785.4,143.5 1785.7,144.1 1786.0,145.1 1786.3,150.2 1786.6,144.0 1786.9,150.2 1787.2,139.4 1787.5,143.6 1787.8,143.7 1788.1,148.0 1788.4,148.4 1788.7,137.1 1789.0,139.7 1789.3,145.3 1789.6,140.3 1789.9,135.1 1790.0,120.0 1790.2,146.2 1790.5,143.8 1790.8,143.4 1791.1,139.0 1791.4,145.9 1791.7,139.7 1792.0,145.7 1792.3,135.9 1792.6,135.7 1792.9,139.4 1793.2,135.1 1793.5,140.6 1793.8,138.0 1794.1,132.5 1794.4,136.9 1794.7,134.4 1795.0,140.2 1795.3,133.2 1795.6,134.4 1795.9,141.5 1796.2,145.6 1796.5,144.0 1796.8,134.9 1797.1,135.8 1797.4,141.2 1797.7,133.8 1798.0,129.3 1798.3,134.6 1798.6,135.9 1798.9,130.1 1799.2,126.5 1799.5,127.4 1799.8,137.1 1800.1,130.5 1800.4,132.5 1800.7,133.7 1801.0,135.6 1801.3,131.4 1801.6,134.2 1801.9,128.6 1802.2,131.7 1802.5,128.7 1802.8,139.0 1803.1,133.4 1803.4,130.0 1803.7,131.2 1804.0,133.0 1804.3,136.9 1804.6,125.6 1804.9,128.1 1805.2,130.8 1805.5,143.8 1805.8,136.2 1806.1,132.2 1806.4,136.0 1806.7,143.3 1807.0,132.3 1807.3,131.4 1807.6,138.4 1807.9,134.9 1808.2,135.0 1808.5,129.3 1808.8,139.7 1809.1,139.4 1809.4,133.9 1809.7,134.4 1810.0,120.0 1810.0,72.0 1810.3,132.8 1810.6,129.0 1810.9,131.5 1811.2,132.2 1811.5,126.9 1811.8,120.1 1812.1,128.9 1812.4,122.9 1812.7,123.8 1813.0,122.1 1813.3,123.4 1813.6,113.7 1813.9,131.7 1814.2,127.2 1814.5,131.1 1814.8,136.6 1815.1,125.6 1815.4,115.8 1815.7,119.7 1816.0,117.9 1816.3,121.2 1816.6,123.5 1816.9,113.5 1817.2,124.6 1817.5,115.1 1817.8,123.4 1818.1,121.0 1818.4,119.9 1818.7,120.8 1819.0,117.6 1819.3,116.1 1819.6,110.9 1819.9,118.7 1820.2,128.1 1820.5,128.3 1820.8,124.1 1821.1,121.0 1821.4,114.6 1821.7,125.1 1822.0,117.9 1822.3,117.6 1822.6,116.1 1822.9,118.0 1823.2,116.5 1823.5,118.1 1823.8,113.8 1824.1,117.7 1824.4,132.2 1824.7,120.7 1825.0,120.2 1825.3,125.2 1825.6,126.1 1825.9,116.0 1826.2,119.9 1826.5,126.1 1826.8,123.1 1827.1,122.0 1827.4,129.6 1827.7,118.5 1828.0,122.0 1828.3,117.8 1828.6,128.8 1828.9,110.1 1829.2,116.1 1829.5,116.5 1829.8,121.3 1830.1,121.1 1830.4,124.4 1830.7,107.9 1831.0,119.6 1831.3,113.5 1831.6,111.1 1831.9,117.9 1832.2,109.7 1832.5,103.0 1832.8,113.0 1833.1,106.8 1833.4,110.7 1833.7,116.0 1834.0,114.9 1834.3,123.4 1834.6,114.1 1834.9,105.9 1835.2,109.7 1835.5,109.1 1835.8,108.9 1836.1,118.1 1836.4,112.7 1836.7,104.2 1837.0,119.9 1837.3,114.3 1837.6,116.3 1837.9,114.8 1838.2,117.8 1838.5,115.5 1838.8,121.3 1839.1,116.6 1839.4,116.9 1839.7,117.8 1840.0,107.6 1840.3,113.9 1840.6,112.6 1840.9,116.0 1841.2,107.4 1841.5,123.7 1841.8,114.7 1842.1,106.6 1842.4,102.5 1842.7,110.9 1843.0,111.6 1843.3,108.6 1843.6,113.8 1843.9,109.5 1844.2,117.0 1844.5,107.6 1844.8,111.6 1845.1,118.2 1845.4,127.3 1845.7,105.7 1846.0,108.3 1846.3,106.0 1846.6,115.8 1846.9,103.0 1847.2,106.1 1847.5,109.5 1847.8,102.9 1848.1,102.7 1848.4,105.3 1848.7,94.9 1849.0,98.5 1849.3,104.3 1849.6,107.7 1849.9,104.0 1850.0,90.0 1850.2,94.2 1850.5,102.2 1850.8,109.1 1851.1,107.4 1851.4,103.1 1851.7,96.9 1852.0,107.1 1852.3,99.6 1852.6,95.5 1852.9,98.2 1853.2,113.5 1853.5,105.2 1853.8,111.6 1854.1,101.1 1854.4,110.9 1854.7,101.5 1855.0,104.4 1855.3,121.8 1855.6,110.9 1855.9,103.9 1856.2,107.0 1856.5,110.2 1856.8,115.7 1857.1,104.9 1857.4,96.4 1857.7,106.6 1858.0,108.1 1858.3,108.7 1858.6,115.8 1858.9,109.3 1859.2,111.7 1859.5,99.1 1859.8,111.3 1860.1,118.5 1860.4,109.4 1860.7,106.2 1861.0,105.6 1861.3,115.4 1861.6,97.3 1861.9,102.7 1862.2,105.3 1862.5,106.7 1862.8,98.8 1863.1,102.8 1863.4,99.7 1863.7,101.3 1864.0,99.2 1864.3,93.4 1864.6,101.4 1864.9,107.9 1865.2,95.7 1865.5,100.4 1865.8,106.5 1866.1,96.2 1866.4,105.1 1866.7,97.1 1867.0,112.2 1867.3,120.3 1867.6,119.2 1867.9,104.4 1868.2,111.0 1868.5,107.3 1868.8,107.9 1869.1,118.5 1869.4,99.0 1869.7,116.0 1870.0,108.6 1870.3,118.3 1870.6,109.6 1870.9,103.0 1871.2,110.5 1871.5,113.9 1871.8,108.2 1872.1,110.8 1872.4,103.3 1872.7,93.3 1873.0,113.4 1873.3,112.1 1873.6,107.6 1873.9,107.0 1874.2,113.7 1874.5,104.2 1874.8,102.1 1875.1,105.5 1875.4,115.3 1875.7,96.4 1876.0,114.1 1876.3,101.0 1876.6,96.8 1876.9,113.5 1877.2,103.4 1877.5,95.0 1877.8,101.5 1878.1,111.5 1878.4,113.5 1878.7,101.8 1879.0,108.1 1879.3,109.6 1879.6,100.9 1879.9,107.7" fill="none" stroke="#e81818" stroke-width="1.4" stroke-linejoin="round"/>
<polyline points="1597.0,180.1 1597.3,181.0 1597.6,180.1 1597.9,185.5 1598.2,183.8 1598.5,181.1 1598.8,180.4 1599.1,184.8 1599.4,180.9 1599.7,179.7 1600.0,180.2 1600.3,180.2 1600.6,182.9 1600.9,179.7 1601.2,184.9 1601.5,178.7 1601.8,181.9 1602.1,177.9 1602.4,184.4 1602.7,179.2 1603.0,179.3 1603.3,181.4 1603.6,182.0 1603.9,177.1 1604.2,179.2 1604.5,177.4 1604.8,180.2 1605.1,180.5 1605.4,179.2 1605.7,178.5 1606.0,180.0 1606.3,178.4 1606.6,180.9 1606.9,183.2 1607.2,174.3 1607.5,179.1 1607.8,177.3 1608.1,180.0 1608.4,177.0 1608.7,179.1 1609.0,177.2 1609.3,181.2 1609.6,179.6 1609.9,179.2 1610.2,179.9 1610.5,178.6 1610.8,176.2 1611.1,180.4 1611.4,180.2 1611.7,179.5 1612.0,181.1 1612.3,182.9 1612.6,178.0 1612.9,178.0 1613.2,183.8 1613.5,182.4 1613.8,178.1 1614.1,176.7 1614.4,177.1 1614.7,177.5 1615.0,174.8 1615.3,178.7 1615.6,176.0 1615.9,176.2 1616.2,181.2 1616.5,177.5 1616.8,178.2 1617.1,180.3 1617.4,181.2 1617.7,179.2 1618.0,181.0 1618.3,178.7 1618.6,184.4 1618.9,182.5 1619.2,178.5 1619.5,181.8 1619.8,184.0 1620.1,183.1 1620.4,186.2 1620.7,185.3 1621.0,181.3 1621.3,181.9 1621.6,179.6 1621.9,182.7 1622.2,182.5 1622.5,188.4 1622.8,182.2 1623.1,177.2 1623.4,179.8 1623.7,180.7 1624.0,176.8 1624.3,177.9 1624.6,179.1 1624.9,180.6 1625.2,178.9 1625.5,176.7 1625.8,179.7 1626.1,177.1 1626.4,177.5 1626.7,175.0 1627.0,176.9 1627.3,180.5 1627.6,175.1 1627.9,178.8 1628.2,180.7 1628.5,178.6 1628.8,181.1 1629.1,177.2 1629.4,183.6 1629.7,183.5 1630.0,182.1 1630.3,177.3 1630.6,178.6 1630.9,182.9 1631.2,185.8 1631.5,182.6 1631.8,184.9 1632.1,180.5 1632.4,181.3 1632.7,181.1 1633.0,180.6 1633.3,175.3 1633.6,181.0 1633.9,181.9 1634.2,176.0 1634.5,175.3 1634.8,179.2 1635.1,176.5 1635.4,172.0 1635.7,179.1 1636.0,176.8 1636.3,175.0 1636.6,181.4 1636.9,177.1 1637.2,173.9 1637.5,175.7 1637.8,174.1 1638.1,174.3 1638.4,176.6 1638.7,175.1 1639.0,176.3 1639.3,182.0 1639.6,179.6 1639.9,179.8 1640.2,179.0 1640.5,178.4 1640.8,180.3 1641.1,177.5 1641.4,182.3 1641.7,176.1 1642.0,178.2 1642.3,176.0 1642.6,178.5 1642.9,180.9 1643.2,183.2 1643.5,177.8 1643.8,179.0 1644.1,178.0 1644.4,177.5 1644.7,176.3 1645.0,179.0 1645.3,174.4 1645.6,179.6 1645.9,178.2 1646.2,177.1 1646.5,177.5 1646.8,176.8 1647.1,184.6 1647.4,176.9 1647.7,184.3 1648.0,181.6 1648.3,179.0 1648.6,177.0 1648.9,182.2 1649.2,184.3 1649.5,178.7 1649.8,179.8 1650.1,183.5 1650.4,181.7 1650.7,185.5 1651.0,179.4 1651.3,182.2 1651.6,177.0 1651.9,186.5 1652.2,179.2 1652.5,174.3 1652.8,179.6 1653.1,179.2 1653.4,183.9 1653.7,177.7 1654.0,178.9 1654.3,180.3 1654.6,182.4 1654.9,178.1 1655.2,181.3 1655.5,178.9 1655.8,177.0 1656.1,177.9 1656.4,177.5 1656.7,174.9 1657.0,180.7 1657.3,174.2 1657.6,181.4 1657.9,180.4 1658.2,177.7 1658.5,176.6 1658.8,177.6 1659.1,179.9 1659.4,180.4 1659.7,179.2 1660.0,180.8 1660.3,177.2 1660.6,179.5 1660.9,174.6 1661.2,179.3 1661.5,178.6 1661.8,176.8 1662.1,180.3 1662.4,179.0 1662.7,170.7 1663.0,177.0 1663.3,173.6 1663.6,179.0 1663.9,182.9 1664.2,175.3 1664.5,177.6 1664.8,176.8 1665.1,177.9 1665.4,178.2 1665.7,178.6 1666.0,172.8 1666.3,178.6 1666.6,172.7 1666.9,175.4 1667.2,178.3 1667.5,176.9 1667.8,173.1 1668.1,172.8 1668.4,173.7 1668.7,174.5 1669.0,177.5 1669.3,171.0 1669.6,174.9 1669.9,174.7 1670.2,174.7 1670.5,173.5 1670.8,176.0 1671.1,173.5 1671.4,174.4 1671.7,174.1 1672.0,176.6 1672.3,167.7 1672.6,175.1 1672.9,171.6 1673.2,170.6 1673.5,168.9 1673.8,166.3 1674.1,170.6 1674.4,169.4 1674.7,173.1 1675.0,167.9 1675.3,174.8 1675.6,171.7 1675.9,169.7 1676.2,168.5 1676.5,168.2 1676.8,166.8 1677.1,167.8 1677.4,169.0 1677.7,168.4 1678.0,166.1 1678.3,168.5 1678.6,167.4 1678.9,169.7 1679.2,173.9 1679.5,171.0 1679.8,168.4 1680.1,164.6 1680.4,164.9 1680.7,163.4 1681.0,169.4 1681.3,165.7 1681.6,168.4 1681.9,167.2 1682.2,168.7 1682.5,171.7 1682.8,166.2 1683.1,167.1 1683.4,166.2 1683.7,170.8 1684.0,165.5 1684.3,164.9 1684.6,162.8 1684.9,162.6 1685.2,167.5 1685.5,172.6 1685.8,164.0 1686.1,169.3 1686.4,168.0 1686.7,164.9 1687.0,167.1 1687.3,166.9 1687.6,165.2 1687.9,171.5 1688.2,161.1 1688.5,167.0 1688.8,167.1 1689.1,164.3 1689.4,166.4 1689.7,168.1 1690.0,165.8 1690.3,166.4 1690.6,167.3 1690.9,160.6 1691.2,169.2 1691.5,171.6 1691.8,167.8 1692.1,167.9 1692.4,161.2 1692.7,163.5 1693.0,161.2 1693.3,161.6 1693.6,165.8 1693.9,161.1 1694.2,163.6 1694.5,158.9 1694.8,163.3 1695.1,164.0 1695.4,161.3 1695.7,161.4 1696.0,168.4 1696.3,160.1 1696.6,160.8 1696.9,162.0 1697.2,167.1 1697.5,168.7 1697.8,163.5 1698.1,160.0 1698.4,161.1 1698.7,165.3 1699.0,160.2 1699.3,167.1 1699.6,167.4 1699.9,163.5 1700.2,164.7 1700.5,164.8 1700.8,166.6 1701.1,159.8 1701.4,165.4 1701.7,161.5 1702.0,160.3 1702.3,162.8 1702.6,162.1 1702.9,159.3 1703.2,157.8 1703.5,159.6 1703.8,166.6 1704.1,168.4 1704.4,164.4 1704.7,165.4 1705.0,160.6 1705.3,160.7 1705.6,160.7 1705.9,157.4 1706.2,156.4 1706.5,159.0 1706.8,157.8 1707.1,155.6 1707.4,159.0 1707.7,157.1 1708.0,159.9 1708.3,156.5 1708.6,154.8 1708.9,155.5 1709.2,154.8 1709.5,153.6 1709.8,153.7 1710.1,156.0 1710.4,155.5 1710.7,157.0 1711.0,149.1 1711.3,152.1 1711.6,151.9 1711.9,153.5 1712.2,152.4 1712.5,152.2 1712.8,155.0 1713.1,152.7 1713.4,149.1 1713.7,155.6 1714.0,155.2 1714.3,151.2 1714.6,155.6 1714.9,151.2 1715.2,156.3 1715.5,152.4 1715.8,150.5 1716.1,152.3 1716.4,151.1 1716.7,153.6 1717.0,153.0 1717.3,153.2 1717.6,151.5 1717.9,142.9 1718.2,152.7 1718.5,147.7 1718.8,153.5 1719.1,156.0 1719.4,154.3 1719.7,152.5 1720.0,152.7 1720.3,152.4 1720.6,150.6 1720.9,150.7 1721.2,149.2 1721.5,155.2 1721.8,151.5 1722.1,154.0 1722.4,150.7 1722.7,152.3 1723.0,152.0 1723.3,153.9 1723.6,154.6 1723.9,152.5 1724.2,149.7 1724.5,148.6 1724.8,154.9 1725.1,150.3 1725.4,150.2 1725.7,154.5 1726.0,152.9 1726.3,151.9 1726.6,149.2 1726.9,156.9 1727.2,151.6 1727.5,151.6 1727.8,149.9 1728.1,145.5 1728.4,145.6 1728.7,149.4 1729.0,149.5 1729.3,147.3 1729.6,144.7 1729.9,144.2 1730.2,148.0 1730.5,144.8 1730.8,151.1 1731.1,151.3 1731.4,155.1 1731.7,149.4 1732.0,145.9 1732.3,145.6 1732.6,138.1 1732.9,145.4 1733.2,146.3 1733.5,149.2 1733.8,148.2 1734.1,148.6 1734.4,148.1 1734.7,149.5 1735.0,151.4 1735.3,144.4 1735.6,146.3 1735.9,143.7 1736.2,151.7 1736.5,151.0 1736.8,149.8 1737.1,144.4 1737.4,148.0 1737.7,146.7 1738.0,146.9 1738.3,145.6 1738.6,147.8 1738.9,144.9 1739.2,148.3 1739.5,146.7 1739.8,144.7 1740.1,145.8 1740.4,144.4 1740.7,147.9 1741.0,145.3 1741.3,146.8 1741.6,144.5 1741.9,142.2 1742.2,148.1 1742.5,142.5 1742.8,147.5 1743.1,146.3 1743.4,140.8 1743.7,143.1 1744.0,145.4 1744.3,144.1 1744.6,143.2 1744.9,149.0 1745.2,146.2 1745.5,147.3 1745.8,145.6 1746.1,147.1 1746.4,144.2 1746.7,146.5 1747.0,148.1 1747.3,146.7 1747.6,145.5 1747.9,142.5 1748.2,146.3 1748.5,146.8 1748.8,144.6 1749.1,143.5 1749.4,146.8 1749.7,152.6 1750.0,144.6 1750.3,146.5 1750.6,146.7 1750.9,138.0 1751.2,145.9 1751.5,144.0 1751.8,149.7 1752.1,144.9 1752.4,143.2 1752.7,144.0 1753.0,144.9 1753.3,142.4 1753.6,143.8 1753.9,140.5 1754.2,144.0 1754.5,146.7 1754.8,150.4 1755.1,146.4 1755.4,145.6 1755.7,147.5 1756.0,146.3 1756.3,148.2 1756.6,146.7 1756.9,142.6 1757.2,143.2 1757.5,142.3 1757.8,142.9 1758.1,142.0 1758.4,138.7 1758.7,134.7 1759.0,139.0 1759.3,134.9 1759.6,140.6 1759.9,140.1 1760.2,134.3 1760.5,140.8 1760.8,141.1 1761.1,139.1 1761.4,143.6 1761.7,144.0 1762.0,135.1 1762.3,141.3 1762.6,139.3 1762.9,140.5 1763.2,141.9 1763.5,137.6 1763.8,137.3 1764.1,137.0 1764.4,137.9 1764.7,139.9 1765.0,135.1 1765.3,135.3 1765.6,138.5 1765.9,136.2 1766.2,136.0 1766.5,128.4 1766.8,130.3 1767.1,129.3 1767.4,129.2 1767.7,126.4 1768.0,130.0 1768.3,126.9 1768.6,126.3 1768.9,125.9 1769.2,128.2 1769.5,124.6 1769.8,128.5 1770.1,127.3 1770.4,125.7 1770.7,126.1 1771.0,127.6 1771.3,128.9 1771.6,128.6 1771.9,126.7 1772.2,129.3 1772.5,126.2 1772.8,128.8 1773.1,126.0 1773.4,120.1 1773.7,129.3 1774.0,125.1 1774.3,121.5 1774.6,124.8 1774.9,122.2 1775.2,130.1 1775.5,125.4 1775.8,120.1 1776.1,125.4 1776.4,122.5 1776.7,128.8 1777.0,120.5 1777.3,117.2 1777.6,123.9 1777.9,122.3 1778.2,121.7 1778.5,117.6 1778.8,125.5 1779.1,129.1 1779.4,119.1 1779.7,128.4 1780.0,123.1 1780.3,131.9 1780.6,126.4 1780.9,124.6 1781.2,127.9 1781.5,125.7 1781.8,122.3 1782.1,126.6 1782.4,123.2 1782.7,119.0 1783.0,130.0 1783.3,122.7 1783.6,122.0 1783.9,124.6 1784.2,118.5 1784.5,118.5 1784.8,120.0 1785.1,119.0 1785.4,119.6 1785.7,122.7 1786.0,118.1 1786.3,120.9 1786.6,121.0 1786.9,115.8 1787.2,120.2 1787.5,117.1 1787.8,123.0 1788.1,121.0 1788.4,119.0 1788.7,115.3 1789.0,119.2 1789.3,116.6 1789.6,121.0 1789.9,118.9 1790.2,116.9 1790.5,122.1 1790.8,121.3 1791.1,117.6 1791.4,123.2 1791.7,117.9 1792.0,117.8 1792.3,118.9 1792.6,115.8 1792.9,116.7 1793.2,117.1 1793.5,122.4 1793.8,121.5 1794.1,115.9 1794.4,122.4 1794.7,117.4 1795.0,118.7 1795.3,120.2 1795.6,117.6 1795.9,123.3 1796.2,117.0 1796.5,112.3 1796.8,120.6 1797.1,115.8 1797.4,116.6 1797.7,108.6 1798.0,120.1 1798.3,118.7 1798.6,119.1 1798.9,119.9 1799.2,122.5 1799.5,116.7 1799.8,119.6 1800.1,114.6 1800.4,115.1 1800.7,118.9 1801.0,116.7 1801.3,111.7 1801.6,117.2 1801.9,115.1 1802.2,112.2 1802.5,116.2 1802.8,113.5 1803.1,109.3 1803.4,110.1 1803.7,119.2 1804.0,109.5 1804.3,115.4 1804.6,116.2 1804.9,115.6 1805.2,109.3 1805.5,112.3 1805.8,113.8 1806.1,115.3 1806.4,110.5 1806.7,109.4 1807.0,116.2 1807.3,116.7 1807.6,114.2 1807.9,111.2 1808.2,114.6 1808.5,113.5 1808.8,116.1 1809.1,109.5 1809.4,114.2 1809.7,113.7 1810.0,110.3 1810.3,114.4 1810.6,113.6 1810.9,112.6 1811.2,115.4 1811.5,109.4 1811.8,114.1 1812.1,115.7 1812.4,115.1 1812.7,116.8 1813.0,109.4 1813.3,107.0 1813.6,112.6 1813.9,114.1 1814.2,119.8 1814.5,114.5 1814.8,108.8 1815.1,114.6 1815.4,108.6 1815.7,106.2 1816.0,120.0 1816.3,112.0 1816.6,114.2 1816.9,113.3 1817.2,117.1 1817.5,111.4 1817.8,114.5 1818.1,107.0 1818.4,105.9 1818.7,115.9 1819.0,115.1 1819.3,112.4 1819.6,111.2 1819.9,110.0 1820.2,106.4 1820.5,114.3 1820.8,110.8 1821.1,109.7 1821.4,108.6 1821.7,110.6 1822.0,108.6 1822.3,109.0 1822.6,100.7 1822.9,106.3 1823.2,112.6 1823.5,102.1 1823.8,103.0 1824.1,105.9 1824.4,105.5 1824.7,104.4 1825.0,96.4 1825.3,103.8 1825.6,97.3 1825.9,99.2 1826.2,104.8 1826.5,102.2 1826.8,105.9 1827.1,113.9 1827.4,105.9 1827.7,105.5 1828.0,99.2 1828.3,100.5 1828.6,98.5 1828.9,100.9 1829.2,98.3 1829.5,100.8 1829.8,102.2 1830.1,99.8 1830.4,97.9 1830.7,98.0 1831.0,105.3 1831.3,103.9 1831.6,107.8 1831.9,107.3 1832.2,100.7 1832.5,104.3 1832.8,96.4 1833.1,110.9 1833.4,106.1 1833.7,100.1 1834.0,96.2 1834.3,102.1 1834.6,94.1 1834.9,97.7 1835.2,103.2 1835.5,100.7 1835.8,98.3 1836.1,104.3 1836.4,96.6 1836.7,101.0 1837.0,97.7 1837.3,96.4 1837.6,100.8 1837.9,95.2 1838.2,107.3 1838.5,97.5 1838.8,107.5 1839.1,94.5 1839.4,101.4 1839.7,94.8 1840.0,94.9 1840.3,101.1 1840.6,102.8 1840.9,94.9 1841.2,104.8 1841.5,96.0 1841.8,99.7 1842.1,99.7 1842.4,99.5 1842.7,90.0 1843.0,103.4 1843.3,99.2 1843.6,95.8 1843.9,92.5 1844.2,89.8 1844.5,90.1 1844.8,97.7 1845.1,93.8 1845.4,90.7 1845.7,92.9 1846.0,100.3 1846.3,91.7 1846.6,90.6 1846.9,98.7 1847.2,95.1 1847.5,93.1 1847.8,90.2 1848.1,86.2 1848.4,88.8 1848.7,91.2 1849.0,91.8 1849.3,93.6 1849.6,93.7 1849.9,92.6 1850.2,92.3 1850.5,87.7 1850.8,83.4 1851.1,91.0 1851.4,88.8 1851.7,89.4 1852.0,91.0 1852.3,86.9 1852.6,87.5 1852.9,92.0 1853.2,93.4 1853.5,90.3 1853.8,95.5 1854.1,92.5 1854.4,88.6 1854.7,93.3 1855.0,101.2 1855.3,89.9 1855.6,97.7 1855.9,98.4 1856.2,98.2 1856.5,87.9 1856.8,99.4 1857.1,90.9 1857.4,88.3 1857.7,88.4 1858.0,92.6 1858.3,89.6 1858.6,87.9 1858.9,93.7 1859.2,83.0 1859.5,81.4 1859.8,89.6 1860.1,88.4 1860.4,90.2 1860.7,80.0 1861.0,89.6 1861.3,86.5 1861.6,92.3 1861.9,79.0 1862.2,85.5 1862.5,83.0 1862.8,77.6 1863.1,80.5 1863.4,88.7 1863.7,81.6 1864.0,79.7 1864.3,87.3 1864.6,88.1 1864.9,88.0 1865.2,80.1 1865.5,82.3 1865.8,87.1 1866.1,79.2 1866.4,78.5 1866.7,86.1 1867.0,89.3 1867.3,77.0 1867.6,70.7 1867.9,75.4 1868.2,77.5 1868.5,81.1 1868.8,84.0 1869.1,80.7 1869.4,78.2 1869.7,82.0 1870.0,76.9 1870.3,81.1 1870.6,77.5 1870.9,93.8 1871.2,85.2 1871.5,77.1 1871.8,75.9 1872.1,78.8 1872.4,73.0 1872.7,77.1 1873.0,77.3 1873.3,84.2 1873.6,77.6 1873.9,75.3 1874.2,72.6 1874.5,73.2 1874.8,78.8 1875.1,77.9 1875.4,84.2 1875.7,75.5 1876.0,83.3 1876.3,79.2 1876.6,78.1 1876.9,68.1 1877.2,71.7 1877.5,82.3 1877.8,85.6 1878.1,79.2 1878.4,82.0 1878.7,76.3 1879.0,76.9 1879.3,75.5 1879.6,82.6 1879.9,79.9" fill="none" stroke="#1818d8" stroke-width="1.5" stroke-linejoin="round"/>
<polyline points="1597.0,169.6 1597.3,159.5 1597.6,172.4 1597.9,175.1 1598.2,171.0 1598.5,164.2 1598.8,166.7 1599.1,164.1 1599.4,173.6 1599.7,176.3 1600.0,178.5 1600.0,148.0 1600.3,168.3 1600.6,175.3 1600.9,176.3 1601.2,170.5 1601.5,173.8 1601.8,188.0 1602.1,177.6 1602.4,181.1 1602.7,174.0 1603.0,175.9 1603.3,168.7 1603.6,176.4 1603.9,183.1 1604.2,189.6 1604.5,183.9 1604.8,181.3 1605.1,179.3 1605.4,176.1 1605.7,179.2 1606.0,183.7 1606.3,177.1 1606.6,186.4 1606.9,175.9 1607.2,171.0 1607.5,174.5 1607.8,170.0 1608.1,172.2 1608.4,186.8 1608.7,180.5 1609.0,182.2 1609.3,184.5 1609.6,186.3 1609.9,177.2 1610.2,186.8 1610.5,182.8 1610.8,180.5 1611.1,182.6 1611.4,171.4 1611.7,176.1 1612.0,178.7 1612.3,181.1 1612.6,176.5 1612.9,176.0 1613.2,181.2 1613.5,184.5 1613.8,181.4 1614.1,184.2 1614.4,175.5 1614.7,174.7 1615.0,179.7 1615.0,211.0 1615.3,178.0 1615.6,177.0 1615.9,187.1 1616.2,176.8 1616.5,173.2 1616.8,181.5 1617.1,187.2 1617.4,178.3 1617.7,184.0 1618.0,174.6 1618.3,174.8 1618.6,172.7 1618.9,176.5 1619.2,186.9 1619.5,171.3 1619.8,184.7 1620.1,172.3 1620.4,176.7 1620.7,183.0 1621.0,180.5 1621.3,179.5 1621.6,170.7 1621.9,182.0 1622.2,177.3 1622.5,194.0 1622.8,180.3 1623.1,182.2 1623.4,173.8 1623.7,175.6 1624.0,172.8 1624.3,184.2 1624.6,178.1 1624.9,183.2 1625.2,178.1 1625.5,179.1 1625.8,188.9 1626.1,178.2 1626.4,174.2 1626.7,182.9 1627.0,176.7 1627.3,179.1 1627.6,184.4 1627.9,175.7 1628.2,181.5 1628.5,175.2 1628.8,185.3 1629.1,185.4 1629.4,180.0 1629.7,181.5 1630.0,178.5 1630.3,183.3 1630.6,187.5 1630.9,177.2 1631.2,186.5 1631.5,176.5 1631.8,178.3 1632.1,173.5 1632.4,190.1 1632.7,181.7 1633.0,181.7 1633.3,178.4 1633.6,186.6 1633.9,172.6 1634.2,182.3 1634.5,191.4 1634.8,180.3 1635.1,179.1 1635.4,180.8 1635.7,174.5 1636.0,177.9 1636.3,181.2 1636.6,178.9 1636.9,178.0 1637.2,175.0 1637.5,178.1 1637.8,177.3 1638.1,182.1 1638.4,179.2 1638.7,176.4 1639.0,167.4 1639.3,178.2 1639.6,178.0 1639.9,171.2 1640.2,166.4 1640.5,169.9 1640.8,177.9 1641.1,171.8 1641.4,175.3 1641.7,178.8 1642.0,183.0 1642.3,178.0 1642.6,177.1 1642.9,174.6 1643.2,183.1 1643.5,180.7 1643.8,174.2 1644.1,168.4 1644.4,171.5 1644.7,175.7 1645.0,170.2 1645.3,177.9 1645.6,175.4 1645.9,175.3 1646.2,176.9 1646.5,174.9 1646.8,169.7 1647.1,171.5 1647.4,182.3 1647.7,166.3 1648.0,168.4 1648.3,175.0 1648.6,169.7 1648.9,166.8 1649.2,165.2 1649.5,171.9 1649.8,174.5 1650.1,175.4 1650.4,168.6 1650.7,172.3 1650.7,209.0 1651.0,164.2 1651.3,169.7 1651.6,165.6 1651.9,170.0 1652.2,171.2 1652.5,170.6 1652.8,159.0 1653.1,168.6 1653.4,159.7 1653.7,157.3 1654.0,159.9 1654.3,152.2 1654.6,158.1 1654.9,158.7 1655.2,156.5 1655.5,159.1 1655.8,152.9 1656.1,155.6 1656.4,149.7 1656.7,156.1 1656.7,142.0 1657.0,153.1 1657.3,154.0 1657.6,156.8 1657.9,156.9 1658.2,149.2 1658.5,151.3 1658.8,157.6 1659.1,160.6 1659.4,160.9 1659.7,163.5 1660.0,166.1 1660.3,163.9 1660.6,160.7 1660.9,157.2 1661.2,156.2 1661.5,158.7 1661.8,162.7 1662.1,162.0 1662.4,161.6 1662.7,160.6 1663.0,162.5 1663.3,160.6 1663.6,160.7 1663.9,160.2 1664.2,157.5 1664.5,156.2 1664.8,163.1 1665.1,160.9 1665.4,157.7 1665.7,157.6 1666.0,168.2 1666.3,155.9 1666.6,158.8 1666.9,160.5 1667.2,154.5 1667.5,159.1 1667.8,166.6 1668.1,162.9 1668.4,161.8 1668.7,162.4 1669.0,160.5 1669.3,164.4 1669.6,159.6 1669.9,157.8 1670.2,159.2 1670.5,161.0 1670.8,158.3 1671.1,160.6 1671.4,149.0 1671.7,161.3 1672.0,166.7 1672.3,161.9 1672.6,153.5 1672.9,151.0 1673.2,155.1 1673.5,151.3 1673.8,158.4 1674.1,152.8 1674.4,158.8 1674.7,160.1 1675.0,145.9 1675.3,156.7 1675.6,152.4 1675.9,151.1 1676.2,155.7 1676.5,157.3 1676.8,163.9 1677.1,153.7 1677.4,165.4 1677.7,169.5 1678.0,163.6 1678.3,163.5 1678.6,161.8 1678.9,158.4 1679.2,166.8 1679.5,164.9 1679.8,166.8 1680.1,175.5 1680.4,168.4 1680.7,167.6 1681.0,173.3 1681.3,160.9 1681.6,160.8 1681.9,163.2 1682.2,160.6 1682.5,167.1 1682.8,162.6 1683.1,171.3 1683.4,169.1 1683.7,166.2 1684.0,161.4 1684.3,165.1 1684.6,166.2 1684.9,156.9 1685.2,161.3 1685.5,163.5 1685.8,161.5 1686.1,167.1 1686.4,164.2 1686.7,154.5 1687.0,157.4 1687.3,152.4 1687.6,159.4 1687.9,153.6 1688.2,163.1 1688.5,161.6 1688.8,162.7 1689.1,157.0 1689.4,153.2 1689.7,167.1 1690.0,159.0 1690.3,167.1 1690.6,162.7 1690.9,163.4 1691.2,169.6 1691.5,162.1 1691.8,165.8 1692.1,152.7 1692.4,164.1 1692.7,159.5 1693.0,160.2 1693.3,160.4 1693.6,160.9 1693.9,167.5 1694.2,149.5 1694.5,156.4 1694.8,153.9 1695.1,161.6 1695.4,154.0 1695.7,158.8 1696.0,153.6 1696.3,157.3 1696.6,158.5 1696.9,152.8 1697.2,154.8 1697.5,149.1 1697.8,158.2 1698.1,161.2 1698.4,155.3 1698.7,163.4 1699.0,148.8 1699.3,150.2 1699.6,153.5 1699.9,155.5 1700.2,160.3 1700.5,160.5 1700.8,160.6 1701.1,164.6 1701.4,159.2 1701.7,155.3 1702.0,155.9 1702.3,170.8 1702.6,150.7 1702.9,161.0 1703.2,167.6 1703.5,161.9 1703.8,154.7 1704.1,157.7 1704.4,161.1 1704.7,161.8 1705.0,153.7 1705.3,160.4 1705.6,159.5 1705.9,164.8 1706.2,166.7 1706.5,158.5 1706.8,154.0 1707.1,162.3 1707.4,168.9 1707.7,164.5 1708.0,161.9 1708.3,170.9 1708.6,156.5 1708.9,163.3 1709.2,157.2 1709.5,161.0 1709.8,161.0 1710.1,168.2 1710.4,157.5 1710.7,159.2 1711.0,154.1 1711.3,164.2 1711.6,158.6 1711.9,161.8 1712.2,154.6 1712.5,159.2 1712.8,165.6 1713.1,160.9 1713.4,165.6 1713.7,166.1 1714.0,163.1 1714.3,158.6 1714.6,171.8 1714.9,168.8 1715.2,173.4 1715.5,160.8 1715.8,163.1 1716.1,160.9 1716.4,165.3 1716.7,174.6 1717.0,171.7 1717.3,170.7 1717.6,172.8 1717.9,177.1 1718.2,172.2 1718.5,175.6 1718.8,175.1 1719.1,165.6 1719.4,173.2 1719.7,179.5 1720.0,172.3 1720.3,173.4 1720.6,169.9 1720.9,170.4 1721.2,177.8 1721.5,172.4 1721.8,168.8 1722.1,160.8 1722.4,174.5 1722.7,168.5 1723.0,170.4 1723.3,180.8 1723.6,180.3 1723.9,167.5 1724.2,179.3 1724.5,177.3 1724.8,169.6 1725.1,176.0 1725.4,165.3 1725.7,168.0 1726.0,167.1 1726.3,169.2 1726.6,179.4 1726.9,170.1 1727.2,170.0 1727.5,170.0 1727.8,176.0 1728.1,173.2 1728.4,178.7 1728.7,172.0 1729.0,169.0 1729.3,172.1 1729.6,173.7 1729.9,170.4 1730.2,176.8 1730.5,183.5 1730.8,173.3 1731.1,176.6 1731.4,181.9 1731.7,172.4 1732.0,171.0 1732.3,170.5 1732.6,176.7 1732.9,178.2 1733.2,176.5 1733.5,177.4 1733.8,183.6 1734.1,180.8 1734.4,168.6 1734.7,174.5 1735.0,174.8 1735.3,178.4 1735.6,174.1 1735.9,171.5 1736.2,172.6 1736.5,164.4 1736.8,173.1 1737.1,168.6 1737.4,173.4 1737.7,165.8 1738.0,168.5 1738.3,165.7 1738.6,164.2 1738.9,171.2 1739.2,164.9 1739.5,167.7 1739.8,160.2 1740.1,165.9 1740.4,157.7 1740.7,163.0 1741.0,165.5 1741.3,169.9 1741.6,166.7 1741.9,164.0 1742.2,167.8 1742.5,166.6 1742.8,167.8 1743.1,169.3 1743.4,165.6 1743.7,164.7 1744.0,166.6 1744.3,161.6 1744.6,166.1 1744.9,169.8 1745.2,169.0 1745.5,164.2 1745.8,159.5 1746.1,165.2 1746.4,166.5 1746.7,172.3 1747.0,163.4 1747.3,164.9 1747.6,169.8 1747.9,164.8 1748.2,166.6 1748.5,175.2 1748.8,174.5 1749.1,171.8 1749.4,170.4 1749.7,164.7 1750.0,172.8 1750.3,172.6 1750.6,172.8 1750.9,168.8 1751.2,171.4 1751.5,170.8 1751.8,173.5 1752.1,178.6 1752.4,172.7 1752.7,164.4 1753.0,167.1 1753.3,163.8 1753.6,168.0 1753.9,173.9 1754.2,172.9 1754.5,167.7 1754.8,171.8 1755.1,167.4 1755.4,164.6 1755.7,165.5 1756.0,167.3 1756.3,177.4 1756.6,164.5 1756.9,176.5 1757.2,177.4 1757.5,169.4 1757.8,170.1 1758.1,167.4 1758.4,169.5 1758.7,171.2 1759.0,168.5 1759.3,172.6 1759.6,174.2 1759.9,171.2 1760.2,170.1 1760.5,168.5 1760.8,169.6 1761.1,160.6 1761.4,165.8 1761.7,163.9 1762.0,159.1 1762.3,171.2 1762.6,156.3 1762.9,157.0 1763.2,160.3 1763.5,149.7 1763.8,155.5 1764.1,152.5 1764.4,154.1 1764.7,157.6 1765.0,159.5 1765.3,162.6 1765.6,160.2 1765.9,160.7 1766.2,159.0 1766.5,152.5 1766.8,158.6 1767.1,150.8 1767.4,151.5 1767.7,161.4 1768.0,156.7 1768.3,155.3 1768.6,158.5 1768.9,158.5 1769.2,148.1 1769.3,51.0 1769.5,155.0 1769.8,149.4 1770.1,154.7 1770.4,152.2 1770.7,162.7 1771.0,158.0 1771.3,151.6 1771.6,155.6 1771.9,149.8 1772.2,155.2 1772.5,159.8 1772.8,160.0 1773.1,150.7 1773.4,156.5 1773.7,160.9 1774.0,160.6 1774.3,163.7 1774.6,150.6 1774.9,160.2 1775.2,155.2 1775.5,158.3 1775.8,157.6 1776.1,158.7 1776.4,151.8 1776.7,156.5 1777.0,149.0 1777.3,147.1 1777.6,156.2 1777.9,153.3 1778.2,145.7 1778.5,149.2 1778.8,154.4 1779.1,160.9 1779.4,158.9 1779.7,156.0 1780.0,143.8 1780.3,153.0 1780.6,156.1 1780.9,155.5 1781.2,154.9 1781.5,153.1 1781.8,163.7 1782.1,161.4 1782.4,153.5 1782.7,146.9 1783.0,161.4 1783.3,149.9 1783.6,159.0 1783.9,163.7 1784.2,149.4 1784.5,154.7 1784.8,149.2 1785.1,154.2 1785.4,153.7 1785.7,162.4 1786.0,155.8 1786.3,152.6 1786.6,156.9 1786.9,149.6 1787.2,149.1 1787.5,160.4 1787.8,144.7 1788.1,148.1 1788.4,152.0 1788.7,148.7 1789.0,143.8 1789.3,158.6 1789.6,149.4 1789.9,148.3 1790.2,148.5 1790.5,144.3 1790.8,145.7 1791.1,151.7 1791.4,162.6 1791.7,154.8 1792.0,153.9 1792.3,142.0 1792.6,150.8 1792.9,143.9 1793.2,154.2 1793.5,149.0 1793.8,149.8 1794.1,148.7 1794.4,145.0 1794.7,139.3 1795.0,150.1 1795.3,139.1 1795.6,139.7 1795.9,143.8 1796.2,142.8 1796.5,147.6 1796.8,148.7 1797.1,144.3 1797.4,143.8 1797.7,142.7 1798.0,146.2 1798.3,133.4 1798.6,142.9 1798.9,136.4 1799.2,133.3 1799.5,139.4 1799.8,138.5 1800.1,141.9 1800.4,144.8 1800.7,127.3 1801.0,137.8 1801.3,148.9 1801.6,142.5 1801.9,145.9 1802.2,138.1 1802.5,129.4 1802.8,132.6 1803.1,142.7 1803.4,143.6 1803.7,133.0 1804.0,136.3 1804.3,138.1 1804.6,127.9 1804.9,135.9 1805.2,148.1 1805.5,151.3 1805.8,138.1 1806.1,148.3 1806.4,133.1 1806.7,131.1 1807.0,122.4 1807.3,142.9 1807.6,134.0 1807.9,151.1 1808.2,137.7 1808.5,137.6 1808.8,124.5 1809.1,144.7 1809.4,132.5 1809.7,136.0 1810.0,122.6 1810.0,80.0 1810.3,142.5 1810.6,143.0 1810.9,132.9 1811.2,137.8 1811.5,141.1 1811.8,143.2 1812.1,139.5 1812.4,151.9 1812.7,137.9 1813.0,136.4 1813.3,134.6 1813.6,120.3 1813.9,133.4 1814.2,145.6 1814.5,140.1 1814.8,132.2 1815.1,140.9 1815.4,124.8 1815.7,134.7 1816.0,140.5 1816.3,142.9 1816.6,130.2 1816.9,142.1 1817.2,149.7 1817.5,131.8 1817.8,141.6 1818.1,121.2 1818.4,117.0 1818.7,137.1 1819.0,132.1 1819.3,135.2 1819.6,131.2 1819.9,132.0 1820.2,141.3 1820.5,149.0 1820.8,132.8 1821.1,120.3 1821.4,142.9 1821.7,139.0 1822.0,139.6 1822.0,70.0 1822.3,133.9 1822.6,152.5 1822.9,133.8 1823.2,135.8 1823.5,115.4 1823.8,126.2 1824.1,126.2 1824.4,132.0 1824.7,136.2 1825.0,127.7 1825.3,149.3 1825.6,123.0 1825.9,127.9 1826.2,133.6 1826.5,120.3 1826.8,136.9 1827.1,137.8 1827.4,129.3 1827.7,149.0 1828.0,131.6 1828.3,134.4 1828.6,123.3 1828.9,116.1 1829.2,126.5 1829.5,127.3 1829.8,124.8 1830.1,137.9 1830.4,108.4 1830.7,118.9 1831.0,110.8 1831.3,140.4 1831.6,121.2 1831.9,122.4 1832.2,116.3 1832.5,135.8 1832.8,122.7 1833.1,128.7 1833.4,105.1 1833.7,137.2 1834.0,128.5 1834.3,130.5 1834.6,136.8 1834.9,121.2 1835.2,121.5 1835.5,132.4 1835.8,129.2 1836.1,122.5 1836.4,123.4 1836.7,117.4 1837.0,130.8 1837.3,132.3 1837.6,122.6 1837.9,141.8 1838.2,105.9 1838.5,118.5 1838.8,139.2 1839.1,114.8 1839.4,101.8 1839.7,133.6 1840.0,124.2 1840.3,104.8 1840.6,125.4 1840.9,105.4 1841.2,100.5 1841.5,112.7 1841.8,109.7 1842.1,101.6 1842.4,110.0 1842.7,102.0 1843.0,113.0 1843.3,113.9 1843.6,122.2 1843.9,108.0 1843.9,28.5 1844.2,96.3 1844.5,98.3 1844.8,110.7 1845.1,132.0 1845.4,124.7 1845.7,107.1 1846.0,125.4 1846.3,99.4 1846.6,125.2 1846.9,108.7 1847.2,121.2 1847.5,119.0 1847.8,108.0 1848.1,114.0 1848.4,97.4 1848.7,107.8 1849.0,121.2 1849.3,156.4 1849.6,114.3 1849.9,105.8 1850.0,145.0 1850.2,94.0 1850.5,116.7 1850.8,83.3 1851.1,92.9 1851.4,106.9 1851.7,87.7 1852.0,120.7 1852.3,115.1 1852.6,94.4 1852.9,95.2 1853.2,86.1 1853.5,84.7 1853.8,107.5 1854.1,110.6 1854.4,107.5 1854.7,108.3 1855.0,98.1 1855.3,110.0 1855.6,88.1 1855.9,107.9 1856.2,125.9 1856.5,124.4 1856.8,102.8 1857.1,104.4 1857.4,125.5 1857.7,130.5 1858.0,89.1 1858.3,102.8 1858.6,110.5 1858.9,121.2 1859.0,5.0 1859.2,94.8 1859.5,113.0 1859.8,100.0 1860.1,134.1 1860.4,108.8 1860.7,101.8 1861.0,99.0 1861.3,116.3 1861.6,109.9 1861.9,85.6 1862.2,102.7 1862.5,80.5 1862.8,86.5 1863.1,79.2 1863.4,79.2 1863.7,87.7 1864.0,83.7 1864.3,103.2 1864.6,107.2 1864.9,93.2 1865.2,81.1 1865.5,109.2 1865.8,70.5 1866.1,71.7 1866.4,106.6 1866.7,105.3 1867.0,108.9 1867.3,93.3 1867.6,79.6 1867.9,89.8 1868.0,40.0 1868.2,105.2 1868.5,88.0 1868.8,88.8 1869.1,79.3 1869.4,82.0 1869.7,110.0 1870.0,104.7 1870.3,82.0 1870.6,83.4 1870.9,91.3 1871.2,105.9 1871.5,79.9 1871.8,93.5 1872.0,150.0 1872.1,65.0 1872.4,79.0 1872.7,100.8 1873.0,108.1 1873.3,76.5 1873.6,81.1 1873.9,104.0 1874.2,84.5 1874.5,80.9 1874.8,96.2 1875.1,91.1 1875.4,104.4 1875.7,99.3 1876.0,80.3 1876.3,87.1 1876.6,87.2 1876.9,69.6 1877.2,76.5 1877.5,105.4 1877.8,68.4 1878.1,106.8 1878.4,95.8 1878.7,90.6 1879.0,99.9 1879.3,101.0 1879.5,24.0 1879.6,112.7 1879.9,88.1" fill="none" stroke="#0a0a0a" stroke-width="1.4" stroke-linejoin="round"/>
<rect x="123.8" y="361.3" width="335.9" height="261.9" fill="none" stroke="#111" stroke-width="2.6"/>
<polyline points="123.7,623.2 124.5,623.2 125.4,623.2 126.2,623.2 127.1,623.2 127.9,623.2 128.8,623.2 129.6,623.2 130.4,623.2 131.3,623.2 132.1,623.2 133.0,623.2 133.8,623.2 134.6,623.2 135.5,623.2 136.3,623.2 137.2,623.2 138.0,623.2 138.9,623.2 139.7,623.2 140.5,623.2 141.4,623.2 142.2,623.2 143.1,623.2 143.9,623.2 144.8,623.2 145.6,623.2 146.4,623.2 147.3,623.2 148.1,623.2 149.0,623.2 149.8,623.2 150.6,623.2 151.5,623.2 152.3,623.2 153.2,623.2 154.0,623.2 154.9,623.2 155.7,623.2 156.5,623.2 157.4,623.2 158.2,623.2 159.1,623.2 159.9,623.2 160.8,623.2 161.6,623.2 162.4,623.2 163.3,623.2 164.1,623.2 165.0,623.2 165.8,623.2 166.6,623.2 167.5,623.2 168.3,623.2 169.2,623.2 170.0,623.2 170.9,623.2 171.7,623.2 172.5,623.2 173.4,623.2 174.2,623.2 175.1,623.2 175.9,623.2 176.8,623.2 177.6,623.2 178.4,623.2 179.3,623.2 180.1,623.2 181.0,623.2 181.8,623.2 182.6,623.2 183.5,623.2 184.3,623.2 185.2,623.2 186.0,623.2 186.9,623.2 187.7,623.1 188.5,623.1 189.4,623.1 190.2,623.1 191.1,623.1 191.9,623.1 192.8,623.1 193.6,623.1 194.4,623.1 195.3,623.1 196.1,623.1 197.0,623.1 197.8,623.1 198.6,623.1 199.5,623.1 200.3,623.1 201.2,623.1 202.0,623.1 202.9,623.1 203.7,623.1 204.5,623.1 205.4,623.1 206.2,623.1 207.1,623.1 207.9,623.1 208.8,623.1 209.6,623.1 210.4,623.1 211.3,623.1 212.1,623.1 213.0,623.1 213.8,623.1 214.6,623.0 215.5,623.0 216.3,623.0 217.2,623.0 218.0,623.0 218.9,623.0 219.7,623.0 220.5,623.0 221.4,623.0 222.2,623.0 223.1,623.0 223.9,623.0 224.8,623.0 225.6,623.0 226.4,623.0 227.3,622.9 228.1,622.9 229.0,622.9 229.8,622.9 230.6,622.9 231.5,622.9 232.3,622.9 233.2,622.9 234.0,622.9 234.9,622.9 235.7,622.8 236.5,622.8 237.4,622.8 238.2,622.8 239.1,622.8 239.9,622.8 240.8,622.8 241.6,622.8 242.4,622.7 243.3,622.7 244.1,622.7 245.0,622.7 245.8,622.7 246.6,622.6 247.5,622.6 248.3,622.6 249.2,622.6 250.0,622.6 250.9,622.5 251.7,622.5 252.5,622.5 253.4,622.5 254.2,622.5 255.1,622.4 255.9,622.4 256.8,622.4 257.6,622.3 258.4,622.3 259.3,622.3 260.1,622.3 261.0,622.2 261.8,622.2 262.6,622.2 263.5,622.1 264.3,622.1 265.2,622.0 266.0,622.0 266.9,622.0 267.7,621.9 268.5,621.9 269.4,621.8 270.2,621.8 271.1,621.7 271.9,621.7 272.8,621.6 273.6,621.6 274.4,621.5 275.3,621.5 276.1,621.4 277.0,621.3 277.8,621.3 278.6,621.2 279.5,621.1 280.3,621.1 281.2,621.0 282.0,620.9 282.9,620.8 283.7,620.8 284.5,620.7 285.4,620.6 286.2,620.5 287.1,620.4 287.9,620.3 288.8,620.2 289.6,620.1 290.4,620.0 291.3,619.9 292.1,619.8 293.0,619.7 293.8,619.5 294.6,619.4 295.5,619.3 296.3,619.2 297.2,619.0 298.0,618.9 298.9,618.8 299.7,618.6 300.5,618.5 301.4,618.3 302.2,618.2 303.1,618.0 303.9,617.9 304.8,617.7 305.6,617.5 306.4,617.4 307.3,617.2 308.1,617.0 309.0,616.9 309.8,616.7 310.6,616.5 311.5,616.3 312.3,616.1 313.2,615.9 314.0,615.7 314.9,615.5 315.7,615.3 316.5,615.1 317.4,614.9 318.2,614.7 319.1,614.5 319.9,614.2 320.8,614.0 321.6,613.8 322.4,613.5 323.3,613.3 324.1,613.1 325.0,612.8 325.8,612.6 326.6,612.3 327.5,612.1 328.3,611.8 329.2,611.5 330.0,611.3 330.9,611.0 331.7,610.7 332.5,610.4 333.4,610.1 334.2,609.9 335.1,609.6 335.9,609.3 336.8,609.0 337.6,608.7 338.4,608.3 339.3,608.0 340.1,607.7 341.0,607.4 341.8,607.1 342.6,606.7 343.5,606.4 344.3,606.0 345.2,605.7 346.0,605.3 346.9,605.0 347.7,604.6 348.5,604.3 349.4,603.9 350.2,603.5 351.1,603.1 351.9,602.8 352.8,602.4 353.6,602.0 354.4,601.6 355.3,601.2 356.1,600.8 357.0,600.4 357.8,599.9 358.6,599.5 359.5,599.1 360.3,598.6 361.2,598.2 362.0,597.8 362.9,597.3 363.7,596.8 364.5,596.4 365.4,595.9 366.2,595.4 367.1,594.9 367.9,594.5 368.8,594.0 369.6,593.4 370.4,592.9 371.3,592.4 372.1,591.9 373.0,591.4 373.8,590.8 374.6,590.3 375.5,589.7 376.3,589.1 377.2,588.6 378.0,588.0 378.9,587.4 379.7,586.8 380.5,586.2 381.4,585.6 382.2,584.9 383.1,584.3 383.9,583.7 384.8,583.0 385.6,582.3 386.4,581.7 387.3,581.0 388.1,580.3 389.0,579.6 389.8,578.8 390.6,578.1 391.5,577.3 392.3,576.6 393.2,575.8 394.0,575.0 394.9,574.2 395.7,573.4 396.5,572.6 397.4,571.7 398.2,570.8 399.1,570.0 399.9,569.1 400.8,568.2 401.6,567.2 402.4,566.3 403.3,565.3 404.1,564.3 405.0,563.3 405.8,562.3 406.6,561.2 407.5,560.2 408.3,559.1 409.2,557.9 410.0,556.8 410.9,555.6 411.7,554.4 412.5,553.2 413.4,552.0 414.2,550.7 415.1,549.4 415.9,548.1 416.8,546.7 417.6,545.3 418.4,543.9 419.3,542.4 420.1,540.9 421.0,539.4 421.8,537.8 422.6,536.2 423.5,534.5 424.3,532.9 425.2,531.1 426.0,529.3 426.9,527.5 427.7,525.6 428.5,523.7 429.4,521.7 430.2,519.7 431.1,517.6 431.9,515.5 432.8,513.3 433.6,511.0 434.4,508.7 435.3,506.3 436.1,503.9 437.0,501.4 437.8,498.8 438.6,496.1 439.5,493.3 440.3,490.5 441.2,487.6 442.0,484.6 442.9,481.5 443.7,478.3 444.5,475.0 445.4,471.6 446.2,468.2 447.1,464.6 447.9,460.8 448.8,457.0 449.6,453.0 450.4,449.0 451.3,444.7 452.1,440.4 453.0,435.9 453.8,431.2 454.6,426.4 455.5,421.4 456.3,416.3 457.2,411.0 458.0,405.5 458.9,399.8 459.7,393.9" fill="none" stroke="#e42222" stroke-width="2.6" stroke-linejoin="round"/>
<polyline points="123.7,393.9 124.5,399.8 125.4,405.5 126.2,411.0 127.1,416.3 127.9,421.4 128.8,426.4 129.6,431.2 130.4,435.9 131.3,440.4 132.1,444.7 133.0,449.0 133.8,453.0 134.6,457.0 135.5,460.8 136.3,464.6 137.2,468.2 138.0,471.6 138.9,475.0 139.7,478.3 140.5,481.5 141.4,484.6 142.2,487.6 143.1,490.5 143.9,493.3 144.8,496.1 145.6,498.8 146.4,501.4 147.3,503.9 148.1,506.3 149.0,508.7 149.8,511.0 150.6,513.3 151.5,515.5 152.3,517.6 153.2,519.7 154.0,521.7 154.9,523.7 155.7,525.6 156.5,527.5 157.4,529.3 158.2,531.1 159.1,532.9 159.9,534.5 160.8,536.2 161.6,537.8 162.4,539.4 163.3,540.9 164.1,542.4 165.0,543.9 165.8,545.3 166.6,546.7 167.5,548.1 168.3,549.4 169.2,550.7 170.0,552.0 170.9,553.2 171.7,554.4 172.5,555.6 173.4,556.8 174.2,557.9 175.1,559.1 175.9,560.2 176.8,561.2 177.6,562.3 178.4,563.3 179.3,564.3 180.1,565.3 181.0,566.3 181.8,567.2 182.6,568.2 183.5,569.1 184.3,570.0 185.2,570.8 186.0,571.7 186.9,572.6 187.7,573.4 188.5,574.2 189.4,575.0 190.2,575.8 191.1,576.6 191.9,577.3 192.8,578.1 193.6,578.8 194.4,579.6 195.3,580.3 196.1,581.0 197.0,581.7 197.8,582.3 198.6,583.0 199.5,583.7 200.3,584.3 201.2,584.9 202.0,585.6 202.9,586.2 203.7,586.8 204.5,587.4 205.4,588.0 206.2,588.6 207.1,589.1 207.9,589.7 208.8,590.3 209.6,590.8 210.4,591.4 211.3,591.9 212.1,592.4 213.0,592.9 213.8,593.4 214.6,594.0 215.5,594.5 216.3,594.9 217.2,595.4 218.0,595.9 218.9,596.4 219.7,596.8 220.5,597.3 221.4,597.8 222.2,598.2 223.1,598.6 223.9,599.1 224.8,599.5 225.6,599.9 226.4,600.4 227.3,600.8 228.1,601.2 229.0,601.6 229.8,602.0 230.6,602.4 231.5,602.8 232.3,603.1 233.2,603.5 234.0,603.9 234.9,604.3 235.7,604.6 236.5,605.0 237.4,605.3 238.2,605.7 239.1,606.0 239.9,606.4 240.8,606.7 241.6,607.1 242.4,607.4 243.3,607.7 244.1,608.0 245.0,608.3 245.8,608.7 246.6,609.0 247.5,609.3 248.3,609.6 249.2,609.9 250.0,610.1 250.9,610.4 251.7,610.7 252.5,611.0 253.4,611.3 254.2,611.5 255.1,611.8 255.9,612.1 256.8,612.3 257.6,612.6 258.4,612.8 259.3,613.1 260.1,613.3 261.0,613.5 261.8,613.8 262.6,614.0 263.5,614.2 264.3,614.5 265.2,614.7 266.0,614.9 266.9,615.1 267.7,615.3 268.5,615.5 269.4,615.7 270.2,615.9 271.1,616.1 271.9,616.3 272.8,616.5 273.6,616.7 274.4,616.9 275.3,617.0 276.1,617.2 277.0,617.4 277.8,617.5 278.6,617.7 279.5,617.9 280.3,618.0 281.2,618.2 282.0,618.3 282.9,618.5 283.7,618.6 284.5,618.8 285.4,618.9 286.2,619.0 287.1,619.2 287.9,619.3 288.8,619.4 289.6,619.5 290.4,619.7 291.3,619.8 292.1,619.9 293.0,620.0 293.8,620.1 294.6,620.2 295.5,620.3 296.3,620.4 297.2,620.5 298.0,620.6 298.9,620.7 299.7,620.8 300.5,620.8 301.4,620.9 302.2,621.0 303.1,621.1 303.9,621.1 304.8,621.2 305.6,621.3 306.4,621.3 307.3,621.4 308.1,621.5 309.0,621.5 309.8,621.6 310.6,621.6 311.5,621.7 312.3,621.7 313.2,621.8 314.0,621.8 314.9,621.9 315.7,621.9 316.5,622.0 317.4,622.0 318.2,622.0 319.1,622.1 319.9,622.1 320.8,622.2 321.6,622.2 322.4,622.2 323.3,622.3 324.1,622.3 325.0,622.3 325.8,622.3 326.6,622.4 327.5,622.4 328.3,622.4 329.2,622.5 330.0,622.5 330.9,622.5 331.7,622.5 332.5,622.5 333.4,622.6 334.2,622.6 335.1,622.6 335.9,622.6 336.8,622.6 337.6,622.7 338.4,622.7 339.3,622.7 340.1,622.7 341.0,622.7 341.8,622.8 342.6,622.8 343.5,622.8 344.3,622.8 345.2,622.8 346.0,622.8 346.9,622.8 347.7,622.8 348.5,622.9 349.4,622.9 350.2,622.9 351.1,622.9 351.9,622.9 352.8,622.9 353.6,622.9 354.4,622.9 355.3,622.9 356.1,622.9 357.0,623.0 357.8,623.0 358.6,623.0 359.5,623.0 360.3,623.0 361.2,623.0 362.0,623.0 362.9,623.0 363.7,623.0 364.5,623.0 365.4,623.0 366.2,623.0 367.1,623.0 367.9,623.0 368.8,623.0 369.6,623.1 370.4,623.1 371.3,623.1 372.1,623.1 373.0,623.1 373.8,623.1 374.6,623.1 375.5,623.1 376.3,623.1 377.2,623.1 378.0,623.1 378.9,623.1 379.7,623.1 380.5,623.1 381.4,623.1 382.2,623.1 383.1,623.1 383.9,623.1 384.8,623.1 385.6,623.1 386.4,623.1 387.3,623.1 388.1,623.1 389.0,623.1 389.8,623.1 390.6,623.1 391.5,623.1 392.3,623.1 393.2,623.1 394.0,623.1 394.9,623.1 395.7,623.1 396.5,623.2 397.4,623.2 398.2,623.2 399.1,623.2 399.9,623.2 400.8,623.2 401.6,623.2 402.4,623.2 403.3,623.2 404.1,623.2 405.0,623.2 405.8,623.2 406.6,623.2 407.5,623.2 408.3,623.2 409.2,623.2 410.0,623.2 410.9,623.2 411.7,623.2 412.5,623.2 413.4,623.2 414.2,623.2 415.1,623.2 415.9,623.2 416.8,623.2 417.6,623.2 418.4,623.2 419.3,623.2 420.1,623.2 421.0,623.2 421.8,623.2 422.6,623.2 423.5,623.2 424.3,623.2 425.2,623.2 426.0,623.2 426.9,623.2 427.7,623.2 428.5,623.2 429.4,623.2 430.2,623.2 431.1,623.2 431.9,623.2 432.8,623.2 433.6,623.2 434.4,623.2 435.3,623.2 436.1,623.2 437.0,623.2 437.8,623.2 438.6,623.2 439.5,623.2 440.3,623.2 441.2,623.2 442.0,623.2 442.9,623.2 443.7,623.2 444.5,623.2 445.4,623.2 446.2,623.2 447.1,623.2 447.9,623.2 448.8,623.2 449.6,623.2 450.4,623.2 451.3,623.2 452.1,623.2 453.0,623.2 453.8,623.2 454.6,623.2 455.5,623.2 456.3,623.2 457.2,623.2 458.0,623.2 458.9,623.2 459.7,623.2" fill="none" stroke="#2020e0" stroke-width="2.6" stroke-linejoin="round"/>
<rect x="645.9" y="371.7" width="317.00" height="249.10" fill="none" stroke="#777777" stroke-width="2.2"/>
<line x1="685.52" y1="620.80" x2="685.52" y2="616.80" stroke="#777777" stroke-width="1.6"/>
<line x1="685.52" y1="371.70" x2="685.52" y2="375.70" stroke="#777777" stroke-width="1.6"/>
<line x1="725.15" y1="620.80" x2="725.15" y2="616.80" stroke="#777777" stroke-width="1.6"/>
<line x1="725.15" y1="371.70" x2="725.15" y2="375.70" stroke="#777777" stroke-width="1.6"/>
<line x1="764.77" y1="620.80" x2="764.77" y2="616.80" stroke="#777777" stroke-width="1.6"/>
<line x1="764.77" y1="371.70" x2="764.77" y2="375.70" stroke="#777777" stroke-width="1.6"/>
<line x1="804.40" y1="620.80" x2="804.40" y2="616.80" stroke="#777777" stroke-width="1.6"/>
<line x1="804.40" y1="371.70" x2="804.40" y2="375.70" stroke="#777777" stroke-width="1.6"/>
<line x1="844.02" y1="620.80" x2="844.02" y2="616.80" stroke="#777777" stroke-width="1.6"/>
<line x1="844.02" y1="371.70" x2="844.02" y2="375.70" stroke="#777777" stroke-width="1.6"/>
<line x1="883.65" y1="620.80" x2="883.65" y2="616.80" stroke="#777777" stroke-width="1.6"/>
<line x1="883.65" y1="371.70" x2="883.65" y2="375.70" stroke="#777777" stroke-width="1.6"/>
<line x1="923.27" y1="620.80" x2="923.27" y2="616.80" stroke="#777777" stroke-width="1.6"/>
<line x1="923.27" y1="371.70" x2="923.27" y2="375.70" stroke="#777777" stroke-width="1.6"/>
<line x1="645.90" y1="606.34" x2="649.90" y2="606.34" stroke="#777777" stroke-width="1.6"/>
<line x1="962.90" y1="606.34" x2="958.90" y2="606.34" stroke="#777777" stroke-width="1.6"/>
<line x1="645.90" y1="575.00" x2="649.90" y2="575.00" stroke="#777777" stroke-width="1.6"/>
<line x1="962.90" y1="575.00" x2="958.90" y2="575.00" stroke="#777777" stroke-width="1.6"/>
<line x1="645.90" y1="543.66" x2="649.90" y2="543.66" stroke="#777777" stroke-width="1.6"/>
<line x1="962.90" y1="543.66" x2="958.90" y2="543.66" stroke="#777777" stroke-width="1.6"/>
<line x1="645.90" y1="512.32" x2="649.90" y2="512.32" stroke="#777777" stroke-width="1.6"/>
<line x1="962.90" y1="512.32" x2="958.90" y2="512.32" stroke="#777777" stroke-width="1.6"/>
<line x1="645.90" y1="480.98" x2="649.90" y2="480.98" stroke="#777777" stroke-width="1.6"/>
<line x1="962.90" y1="480.98" x2="958.90" y2="480.98" stroke="#777777" stroke-width="1.6"/>
<line x1="645.90" y1="449.64" x2="649.90" y2="449.64" stroke="#777777" stroke-width="1.6"/>
<line x1="962.90" y1="449.64" x2="958.90" y2="449.64" stroke="#777777" stroke-width="1.6"/>
<line x1="645.90" y1="418.30" x2="649.90" y2="418.30" stroke="#777777" stroke-width="1.6"/>
<line x1="962.90" y1="418.30" x2="958.90" y2="418.30" stroke="#777777" stroke-width="1.6"/>
<line x1="645.90" y1="386.96" x2="649.90" y2="386.96" stroke="#777777" stroke-width="1.6"/>
<line x1="962.90" y1="386.96" x2="958.90" y2="386.96" stroke="#777777" stroke-width="1.6"/>
<polyline points="646.0,575.6 828.3,575.6 831.4,418.5 844.2,418.5 847.4,575.6 859.3,575.6 861.3,418.5 962.0,418.5" fill="none" stroke="#7d959c" stroke-width="2.3" stroke-linejoin="round"/>
<line x1="858.00" y1="383.00" x2="858.00" y2="402.00" stroke="#b5b5b5" stroke-width="1"/>
<rect x="1116.2" y="371.7" width="313.40" height="248.70" fill="none" stroke="#777777" stroke-width="2.2"/>
<line x1="1155.90" y1="620.40" x2="1155.90" y2="616.40" stroke="#777777" stroke-width="1.6"/>
<line x1="1155.90" y1="371.70" x2="1155.90" y2="375.70" stroke="#777777" stroke-width="1.6"/>
<line x1="1195.10" y1="620.40" x2="1195.10" y2="616.40" stroke="#777777" stroke-width="1.6"/>
<line x1="1195.10" y1="371.70" x2="1195.10" y2="375.70" stroke="#777777" stroke-width="1.6"/>
<line x1="1234.30" y1="620.40" x2="1234.30" y2="616.40" stroke="#777777" stroke-width="1.6"/>
<line x1="1234.30" y1="371.70" x2="1234.30" y2="375.70" stroke="#777777" stroke-width="1.6"/>
<line x1="1273.50" y1="620.40" x2="1273.50" y2="616.40" stroke="#777777" stroke-width="1.6"/>
<line x1="1273.50" y1="371.70" x2="1273.50" y2="375.70" stroke="#777777" stroke-width="1.6"/>
<line x1="1312.70" y1="620.40" x2="1312.70" y2="616.40" stroke="#777777" stroke-width="1.6"/>
<line x1="1312.70" y1="371.70" x2="1312.70" y2="375.70" stroke="#777777" stroke-width="1.6"/>
<line x1="1351.90" y1="620.40" x2="1351.90" y2="616.40" stroke="#777777" stroke-width="1.6"/>
<line x1="1351.90" y1="371.70" x2="1351.90" y2="375.70" stroke="#777777" stroke-width="1.6"/>
<line x1="1391.10" y1="620.40" x2="1391.10" y2="616.40" stroke="#777777" stroke-width="1.6"/>
<line x1="1391.10" y1="371.70" x2="1391.10" y2="375.70" stroke="#777777" stroke-width="1.6"/>
<line x1="1116.20" y1="605.76" x2="1120.20" y2="605.76" stroke="#777777" stroke-width="1.6"/>
<line x1="1429.60" y1="605.76" x2="1425.60" y2="605.76" stroke="#777777" stroke-width="1.6"/>
<line x1="1116.20" y1="574.50" x2="1120.20" y2="574.50" stroke="#777777" stroke-width="1.6"/>
<line x1="1429.60" y1="574.50" x2="1425.60" y2="574.50" stroke="#777777" stroke-width="1.6"/>
<line x1="1116.20" y1="543.24" x2="1120.20" y2="543.24" stroke="#777777" stroke-width="1.6"/>
<line x1="1429.60" y1="543.24" x2="1425.60" y2="543.24" stroke="#777777" stroke-width="1.6"/>
<line x1="1116.20" y1="511.98" x2="1120.20" y2="511.98" stroke="#777777" stroke-width="1.6"/>
<line x1="1429.60" y1="511.98" x2="1425.60" y2="511.98" stroke="#777777" stroke-width="1.6"/>
<line x1="1116.20" y1="480.72" x2="1120.20" y2="480.72" stroke="#777777" stroke-width="1.6"/>
<line x1="1429.60" y1="480.72" x2="1425.60" y2="480.72" stroke="#777777" stroke-width="1.6"/>
<line x1="1116.20" y1="449.46" x2="1120.20" y2="449.46" stroke="#777777" stroke-width="1.6"/>
<line x1="1429.60" y1="449.46" x2="1425.60" y2="449.46" stroke="#777777" stroke-width="1.6"/>
<line x1="1116.20" y1="418.20" x2="1120.20" y2="418.20" stroke="#777777" stroke-width="1.6"/>
<line x1="1429.60" y1="418.20" x2="1425.60" y2="418.20" stroke="#777777" stroke-width="1.6"/>
<line x1="1116.20" y1="386.94" x2="1120.20" y2="386.94" stroke="#777777" stroke-width="1.6"/>
<line x1="1429.60" y1="386.94" x2="1425.60" y2="386.94" stroke="#777777" stroke-width="1.6"/>
<line x1="1434.70" y1="370.50" x2="1434.70" y2="621.00" stroke="#9a9a9a" stroke-width="2.6"/>
<polygon points="1271,575 1271,466 1287,466 1287,575" fill="#8fb6d6" opacity="0.85"/>
<polyline points="1117.0,574.5 1226.5,574.5 1229.0,418.2 1232.4,418.2 1233.5,574.5 1248.3,574.5 1249.6,418.2 1252.2,418.2 1253.5,574.5 1262.4,574.5 1264.5,418.2 1266.5,418.2 1267.5,574.5" fill="none" stroke="#8fa0a8" stroke-width="2.2" stroke-linejoin="round"/>
<polyline points="1268.0,574.5 1269.5,418.2 1270.5,574.5 1272.0,431.0 1273.5,574.5 1276.0,466.0 1277.0,574.5 1279.0,423.0 1280.5,574.5 1282.0,466.0 1283.0,574.5 1284.5,466.0 1285.5,574.5 1287.0,418.2 1299.0,418.2 1299.7,450.0 1300.5,418.2 1345.0,418.2 1345.7,574.5 1346.5,418.2 1358.2,418.2 1358.8,443.6 1359.4,418.2 1429.0,418.2" fill="none" stroke="#6593b5" stroke-width="2.2" stroke-linejoin="round"/>
<rect x="1593.5" y="370.8" width="313.20" height="246.20" fill="none" stroke="#777777" stroke-width="2.2"/>
<line x1="1631.90" y1="617.00" x2="1631.90" y2="613.00" stroke="#777777" stroke-width="1.6"/>
<line x1="1631.90" y1="370.80" x2="1631.90" y2="374.80" stroke="#777777" stroke-width="1.6"/>
<line x1="1671.30" y1="617.00" x2="1671.30" y2="613.00" stroke="#777777" stroke-width="1.6"/>
<line x1="1671.30" y1="370.80" x2="1671.30" y2="374.80" stroke="#777777" stroke-width="1.6"/>
<line x1="1710.70" y1="617.00" x2="1710.70" y2="613.00" stroke="#777777" stroke-width="1.6"/>
<line x1="1710.70" y1="370.80" x2="1710.70" y2="374.80" stroke="#777777" stroke-width="1.6"/>
<line x1="1750.10" y1="617.00" x2="1750.10" y2="613.00" stroke="#777777" stroke-width="1.6"/>
<line x1="1750.10" y1="370.80" x2="1750.10" y2="374.80" stroke="#777777" stroke-width="1.6"/>
<line x1="1789.50" y1="617.00" x2="1789.50" y2="613.00" stroke="#777777" stroke-width="1.6"/>
<line x1="1789.50" y1="370.80" x2="1789.50" y2="374.80" stroke="#777777" stroke-width="1.6"/>
<line x1="1828.90" y1="617.00" x2="1828.90" y2="613.00" stroke="#777777" stroke-width="1.6"/>
<line x1="1828.90" y1="370.80" x2="1828.90" y2="374.80" stroke="#777777" stroke-width="1.6"/>
<line x1="1868.30" y1="617.00" x2="1868.30" y2="613.00" stroke="#777777" stroke-width="1.6"/>
<line x1="1868.30" y1="370.80" x2="1868.30" y2="374.80" stroke="#777777" stroke-width="1.6"/>
<line x1="1593.50" y1="601.92" x2="1597.50" y2="601.92" stroke="#777777" stroke-width="1.6"/>
<line x1="1906.70" y1="601.92" x2="1902.70" y2="601.92" stroke="#777777" stroke-width="1.6"/>
<line x1="1593.50" y1="571.20" x2="1597.50" y2="571.20" stroke="#777777" stroke-width="1.6"/>
<line x1="1906.70" y1="571.20" x2="1902.70" y2="571.20" stroke="#777777" stroke-width="1.6"/>
<line x1="1593.50" y1="540.48" x2="1597.50" y2="540.48" stroke="#777777" stroke-width="1.6"/>
<line x1="1906.70" y1="540.48" x2="1902.70" y2="540.48" stroke="#777777" stroke-width="1.6"/>
<line x1="1593.50" y1="509.76" x2="1597.50" y2="509.76" stroke="#777777" stroke-width="1.6"/>
<line x1="1906.70" y1="509.76" x2="1902.70" y2="509.76" stroke="#777777" stroke-width="1.6"/>
<line x1="1593.50" y1="479.04" x2="1597.50" y2="479.04" stroke="#777777" stroke-width="1.6"/>
<line x1="1906.70" y1="479.04" x2="1902.70" y2="479.04" stroke="#777777" stroke-width="1.6"/>
<line x1="1593.50" y1="448.32" x2="1597.50" y2="448.32" stroke="#777777" stroke-width="1.6"/>
<line x1="1906.70" y1="448.32" x2="1902.70" y2="448.32" stroke="#777777" stroke-width="1.6"/>
<line x1="1593.50" y1="417.60" x2="1597.50" y2="417.60" stroke="#777777" stroke-width="1.6"/>
<line x1="1906.70" y1="417.60" x2="1902.70" y2="417.60" stroke="#777777" stroke-width="1.6"/>
<line x1="1593.50" y1="386.88" x2="1597.50" y2="386.88" stroke="#777777" stroke-width="1.6"/>
<line x1="1906.70" y1="386.88" x2="1902.70" y2="386.88" stroke="#777777" stroke-width="1.6"/>
<polyline points="1594.0,571.2 1595.0,571.2 1596.0,571.1 1597.0,571.1 1598.0,571.1 1599.0,571.1 1600.0,571.1 1601.0,571.1 1602.0,571.1 1603.0,571.1 1604.0,571.1 1605.0,571.1 1606.0,571.1 1607.0,571.1 1608.0,571.1 1609.0,571.1 1610.0,571.1 1611.0,571.1 1612.0,571.1 1613.0,571.1 1614.0,571.1 1615.0,571.1 1616.0,571.1 1617.0,571.0 1618.0,571.0 1619.0,571.0 1620.0,571.0 1621.0,571.0 1622.0,571.0 1623.0,571.0 1624.0,571.0 1625.0,571.0 1626.0,571.0 1627.0,570.9 1628.0,570.9 1629.0,570.9 1630.0,570.9 1631.0,570.9 1632.0,570.9 1633.0,570.8 1634.0,570.8 1635.0,570.8 1636.0,570.8 1637.0,570.8 1638.0,570.7 1639.0,570.7 1640.0,570.7 1641.0,570.7 1642.0,570.6 1643.0,570.6 1644.0,570.6 1645.0,570.5 1646.0,570.5 1647.0,570.5 1648.0,570.4 1649.0,570.4 1650.0,570.3 1651.0,570.3 1652.0,570.2 1653.0,570.2 1654.0,570.1 1655.0,570.1 1656.0,570.0 1657.0,569.9 1658.0,569.9 1659.0,569.8 1660.0,569.7 1661.0,569.6 1662.0,569.6 1663.0,569.5 1664.0,569.4 1665.0,569.3 1666.0,569.2 1667.0,569.1 1668.0,569.0 1669.0,568.8 1670.0,568.7 1671.0,568.6 1672.0,568.4 1673.0,568.3 1674.0,568.1 1675.0,568.0 1676.0,567.8 1677.0,567.6 1678.0,567.4 1679.0,567.2 1680.0,567.0 1681.0,566.8 1682.0,566.6 1683.0,566.3 1684.0,566.1 1685.0,565.8 1686.0,565.5 1687.0,565.3 1688.0,564.9 1689.0,564.6 1690.0,564.3 1691.0,563.9 1692.0,563.6 1693.0,563.2 1694.0,562.8 1695.0,562.3 1696.0,561.9 1697.0,561.4 1698.0,560.9 1699.0,560.4 1700.0,559.9 1701.0,559.3 1702.0,558.7 1703.0,558.1 1704.0,557.4 1705.0,556.8 1706.0,556.1 1707.0,555.3 1708.0,554.6 1709.0,553.8 1710.0,552.9 1711.0,552.1 1712.0,551.2 1713.0,550.2 1714.0,549.3 1715.0,548.2 1716.0,547.2 1717.0,546.1 1718.0,545.0 1719.0,543.8 1720.0,542.6 1721.0,541.4 1722.0,540.1 1723.0,538.8 1724.0,537.4 1725.0,536.0 1726.0,534.6 1727.0,533.1 1728.0,531.5 1729.0,530.0 1730.0,528.4 1731.0,526.7 1732.0,525.0 1733.0,523.3 1734.0,521.6 1735.0,519.8 1736.0,518.0 1737.0,516.1 1738.0,514.3 1739.0,512.4 1740.0,510.5 1741.0,508.5 1742.0,506.6 1743.0,504.6 1744.0,502.6 1745.0,500.6 1746.0,498.6 1747.0,496.6 1748.0,494.6 1749.0,492.5 1750.0,490.5 1751.0,488.5 1752.0,486.5 1753.0,484.5 1754.0,482.5 1755.0,480.6 1756.0,478.6 1757.0,476.7 1758.0,474.8 1759.0,473.0 1760.0,471.1 1761.0,469.3 1762.0,467.5 1763.0,465.8 1764.0,464.1 1765.0,462.4 1766.0,460.7 1767.0,459.1 1768.0,457.6 1769.0,456.0 1770.0,454.5 1771.0,453.1 1772.0,451.7 1773.0,450.3 1774.0,449.0 1775.0,447.7 1776.0,446.5 1777.0,445.3 1778.0,444.1 1779.0,443.0 1780.0,441.9 1781.0,440.9 1782.0,439.8 1783.0,438.9 1784.0,437.9 1785.0,437.0 1786.0,436.2 1787.0,435.3 1788.0,434.5 1789.0,433.8 1790.0,433.0 1791.0,432.3 1792.0,431.7 1793.0,431.0 1794.0,430.4 1795.0,429.8 1796.0,429.2 1797.0,428.7 1798.0,428.2 1799.0,427.7 1800.0,427.2 1801.0,426.8 1802.0,426.3 1803.0,425.9 1804.0,425.5 1805.0,425.2 1806.0,424.8 1807.0,424.5 1808.0,424.2 1809.0,423.8 1810.0,423.6 1811.0,423.3 1812.0,423.0 1813.0,422.8 1814.0,422.5 1815.0,422.3 1816.0,422.1 1817.0,421.9 1818.0,421.7 1819.0,421.5 1820.0,421.3 1821.0,421.1 1822.0,421.0 1823.0,420.8 1824.0,420.7 1825.0,420.5 1826.0,420.4 1827.0,420.3 1828.0,420.1 1829.0,420.0 1830.0,419.9 1831.0,419.8 1832.0,419.7 1833.0,419.6 1834.0,419.5 1835.0,419.5 1836.0,419.4 1837.0,419.3 1838.0,419.2 1839.0,419.2 1840.0,419.1 1841.0,419.0 1842.0,419.0 1843.0,418.9 1844.0,418.9 1845.0,418.8 1846.0,418.8 1847.0,418.7 1848.0,418.7 1849.0,418.6 1850.0,418.6 1851.0,418.6 1852.0,418.5 1853.0,418.5 1854.0,418.5 1855.0,418.4 1856.0,418.4 1857.0,418.4 1858.0,418.4 1859.0,418.3 1860.0,418.3 1861.0,418.3 1862.0,418.3 1863.0,418.3 1864.0,418.2 1865.0,418.2 1866.0,418.2 1867.0,418.2 1868.0,418.2 1869.0,418.2 1870.0,418.1 1871.0,418.1 1872.0,418.1 1873.0,418.1 1874.0,418.1 1875.0,418.1 1876.0,418.1 1877.0,418.1 1878.0,418.1 1879.0,418.1 1880.0,418.0 1881.0,418.0 1882.0,418.0 1883.0,418.0 1884.0,418.0 1885.0,418.0 1886.0,418.0 1887.0,418.0 1888.0,418.0 1889.0,418.0 1890.0,418.0 1891.0,418.0 1892.0,418.0 1893.0,418.0 1894.0,418.0 1895.0,418.0 1896.0,418.0 1897.0,418.0 1898.0,418.0 1899.0,418.0 1900.0,418.0 1901.0,417.9 1902.0,417.9 1903.0,417.9 1904.0,417.9 1905.0,417.9" fill="none" stroke="#7d959c" stroke-width="2.3" stroke-linejoin="round"/>
<polyline points="1706.0,551.5 1706.7,556.3 1707.4,554.0 1708.1,553.7 1708.8,553.5 1709.5,549.7" fill="none" stroke="#1c3352" stroke-width="1.4" stroke-linejoin="round"/>
<polyline points="1711.2,557.9 1711.9,551.7 1712.6,550.0 1713.3,549.5 1714.0,548.1 1714.7,546.7 1715.4,547.2 1716.1,548.0 1716.8,546.0 1717.5,547.3 1718.2,544.5" fill="none" stroke="#1c3352" stroke-width="1.4" stroke-linejoin="round"/>
<polyline points="1719.6,544.1 1720.3,541.4 1721.0,541.1 1721.7,541.5 1722.4,543.1 1723.1,538.2 1723.8,537.3 1724.5,538.6 1725.2,534.2 1725.9,534.2 1726.6,535.3 1727.3,533.7 1728.0,531.8" fill="none" stroke="#1c3352" stroke-width="1.4" stroke-linejoin="round"/>
<polyline points="1730.6,529.2 1731.3,524.5 1732.0,522.0 1732.7,524.3 1733.4,523.9 1734.1,520.6 1734.8,518.2 1735.5,518.9 1736.2,517.5 1736.9,518.9 1737.6,516.4" fill="none" stroke="#1c3352" stroke-width="1.4" stroke-linejoin="round"/>
<polyline points="1740.6,508.9 1741.3,506.2 1742.0,507.6 1742.7,506.2 1743.4,503.3 1744.1,500.9 1744.8,501.4 1745.5,495.0 1746.2,499.4" fill="none" stroke="#1c3352" stroke-width="1.4" stroke-linejoin="round"/>
<polyline points="1748.2,494.2 1748.9,490.9 1749.6,492.6 1750.3,486.2 1751.0,486.8 1751.7,488.3 1752.4,487.7 1753.1,480.4 1753.8,482.0 1754.5,482.1 1755.2,479.1" fill="none" stroke="#1c3352" stroke-width="1.4" stroke-linejoin="round"/>
<polyline points="1758.2,475.1 1758.9,471.3 1759.6,474.4 1760.3,470.6 1761.0,468.7 1761.7,465.0" fill="none" stroke="#1c3352" stroke-width="1.4" stroke-linejoin="round"/>
<polyline points="1766.1,461.9 1766.8,461.5 1767.5,459.0 1768.2,456.1 1768.9,454.8 1769.6,453.7 1770.3,456.6 1771.0,450.5 1771.7,451.0 1772.4,450.6 1773.1,450.6 1773.8,450.3 1774.5,446.1" fill="none" stroke="#1c3352" stroke-width="1.4" stroke-linejoin="round"/>
<polyline points="1777.9,446.4 1778.6,444.8 1779.3,443.1 1780.0,441.4 1780.7,441.7 1781.4,440.0" fill="none" stroke="#1c3352" stroke-width="1.4" stroke-linejoin="round"/>
<polyline points="1783.4,438.7 1784.1,437.6 1784.8,438.2 1785.5,437.0 1786.2,440.6 1786.9,438.1 1787.6,437.5 1788.3,430.6 1789.0,433.1 1789.7,432.1 1790.4,433.7" fill="none" stroke="#1c3352" stroke-width="1.4" stroke-linejoin="round"/>
<polyline points="1794.9,431.8 1795.6,427.2 1796.3,427.3 1797.0,427.3 1797.7,428.4 1798.4,429.2 1799.1,431.4 1799.8,427.0 1800.5,428.4 1801.2,427.0 1801.9,429.6 1802.6,427.4 1803.3,428.3" fill="none" stroke="#1c3352" stroke-width="1.4" stroke-linejoin="round"/>
<text id="lab_a" x="0.80" y="27.30" font-family='"Liberation Sans", Arial, sans-serif' font-size="33.00" font-weight="normal" fill="#000" textLength="42.25" lengthAdjust="spacingAndGlyphs" stroke="#000" stroke-width="1.0" stroke-linejoin="round">(a)</text>
<text id="lab_b" x="532.30" y="27.30" font-family='"Liberation Sans", Arial, sans-serif' font-size="33.00" font-weight="normal" fill="#000" textLength="45.36" lengthAdjust="spacingAndGlyphs" stroke="#000" stroke-width="1.0" stroke-linejoin="round">(b)</text>
<text id="lab_c" x="979.10" y="27.30" font-family='"Liberation Sans", Arial, sans-serif' font-size="33.00" font-weight="normal" fill="#000" textLength="39.84" lengthAdjust="spacingAndGlyphs" stroke="#000" stroke-width="1.0" stroke-linejoin="round">(c)</text>
<text id="lab_d" x="1445.10" y="27.30" font-family='"Liberation Sans", Arial, sans-serif' font-size="33.00" font-weight="normal" fill="#000" textLength="44.26" lengthAdjust="spacingAndGlyphs" stroke="#000" stroke-width="1.0" stroke-linejoin="round">(d)</text>
<text id="lab_e" x="0.90" y="371.20" font-family='"Liberation Sans", Arial, sans-serif' font-size="34.48" font-weight="normal" fill="#000" textLength="43.15" lengthAdjust="spacingAndGlyphs" stroke="#000" stroke-width="1.0" stroke-linejoin="round">(e)</text>
<text id="lab_f" x="540.80" y="371.20" font-family='"Liberation Sans", Arial, sans-serif' font-size="34.48" font-weight="normal" fill="#000" textLength="37.43" lengthAdjust="spacingAndGlyphs" stroke="#000" stroke-width="1.0" stroke-linejoin="round">(f)</text>
<text id="lab_g" x="984.40" y="371.20" font-family='"Liberation Sans", Arial, sans-serif' font-size="34.48" font-weight="normal" fill="#000" textLength="41.08" lengthAdjust="spacingAndGlyphs" stroke="#000" stroke-width="1.0" stroke-linejoin="round">(g)</text>
<text id="lab_h" x="1445.10" y="371.20" font-family='"Liberation Sans", Arial, sans-serif' font-size="34.48" font-weight="normal" fill="#000" textLength="43.39" lengthAdjust="spacingAndGlyphs" stroke="#000" stroke-width="1.0" stroke-linejoin="round">(h)</text>
<text id="fc" x="155.35" y="200.00" font-family='"Liberation Sans", Arial, sans-serif' font-size="36.19" font-weight="bold" fill="#4a6cc6" textLength="34.55" lengthAdjust="spacingAndGlyphs">Fc</text>
<text id="fcp" x="471.60" y="200.40" font-family='"Liberation Sans", Arial, sans-serif' font-size="36.19" font-weight="bold" fill="#ee1c25" textLength="48.79" lengthAdjust="spacingAndGlyphs">Fc<tspan font-size="23.89" dy="-10.50">+</tspan></text>
<text id="e_minus" x="262.50" y="86.30" font-family='"Liberation Serif", "Times New Roman", serif' font-size="25.89" font-weight="bold" fill="#000" textLength="42.65" lengthAdjust="spacingAndGlyphs">-1e<tspan font-size="15.54" dy="-9.32">-</tspan></text>
<text id="e_plus" x="261.55" y="188.00" font-family='"Liberation Serif", "Times New Roman", serif' font-size="29.21" font-weight="bold" fill="#000" textLength="50.51" lengthAdjust="spacingAndGlyphs">+1e<tspan font-size="17.52" dy="-10.51">-</tspan></text>
<text id="yb_0.12" x="590.45" y="44.30" font-family='"Liberation Sans", Arial, sans-serif' font-size="28.32" font-weight="bold" fill="#000" textLength="50.67" lengthAdjust="spacingAndGlyphs">0.12</text>
<text id="yb_0.08" x="589.95" y="109.70" font-family='"Liberation Sans", Arial, sans-serif' font-size="28.32" font-weight="bold" fill="#000" textLength="50.69" lengthAdjust="spacingAndGlyphs">0.08</text>
<text id="yb_0.04" x="590.45" y="175.10" font-family='"Liberation Sans", Arial, sans-serif' font-size="28.32" font-weight="bold" fill="#000" textLength="49.61" lengthAdjust="spacingAndGlyphs">0.04</text>
<text id="yb_0.00" x="590.45" y="241.50" font-family='"Liberation Sans", Arial, sans-serif' font-size="28.32" font-weight="bold" fill="#000" textLength="50.67" lengthAdjust="spacingAndGlyphs">0.00</text>
<text id="yc_0.15" x="1066.45" y="28.90" font-family='"Liberation Sans", Arial, sans-serif' font-size="28.32" font-weight="bold" fill="#000" textLength="50.47" lengthAdjust="spacingAndGlyphs">0.15</text>
<text id="yc_0.10" x="1066.45" y="104.50" font-family='"Liberation Sans", Arial, sans-serif' font-size="28.32" font-weight="bold" fill="#000" textLength="50.47" lengthAdjust="spacingAndGlyphs">0.10</text>
<text id="yc_0.05" x="1066.45" y="182.50" font-family='"Liberation Sans", Arial, sans-serif' font-size="28.32" font-weight="bold" fill="#000" textLength="50.47" lengthAdjust="spacingAndGlyphs">0.05</text>
<text id="yc_0.00" x="1066.45" y="257.10" font-family='"Liberation Sans", Arial, sans-serif' font-size="28.32" font-weight="bold" fill="#000" textLength="50.47" lengthAdjust="spacingAndGlyphs">0.00</text>
<text id="yd_0.12" x="1537.80" y="28.90" font-family='"Liberation Sans", Arial, sans-serif' font-size="28.32" font-weight="bold" fill="#000" textLength="49.44" lengthAdjust="spacingAndGlyphs">0.12</text>
<text id="yd_0.08" x="1537.80" y="99.70" font-family='"Liberation Sans", Arial, sans-serif' font-size="28.32" font-weight="bold" fill="#000" textLength="49.44" lengthAdjust="spacingAndGlyphs">0.08</text>
<text id="yd_0.04" x="1537.30" y="171.50" font-family='"Liberation Sans", Arial, sans-serif' font-size="28.32" font-weight="bold" fill="#000" textLength="49.42" lengthAdjust="spacingAndGlyphs">0.04</text>
<text id="yd_0.00" x="1537.80" y="241.10" font-family='"Liberation Sans", Arial, sans-serif' font-size="28.32" font-weight="bold" fill="#000" textLength="49.44" lengthAdjust="spacingAndGlyphs">0.00</text>
<text id="xb_-0.1" x="703.70" y="262.40" font-family='"Liberation Sans", Arial, sans-serif' font-size="26.59" font-weight="bold" fill="#000" textLength="41.42" lengthAdjust="spacingAndGlyphs">-0.1</text>
<text id="xb_0.0" x="802.80" y="262.40" font-family='"Liberation Sans", Arial, sans-serif' font-size="26.59" font-weight="bold" fill="#000" textLength="33.46" lengthAdjust="spacingAndGlyphs">0.0</text>
<text id="xb_0.1" x="896.85" y="262.40" font-family='"Liberation Sans", Arial, sans-serif' font-size="26.59" font-weight="bold" fill="#000" textLength="32.71" lengthAdjust="spacingAndGlyphs">0.1</text>
<text id="xc_-0.1" x="1178.30" y="277.90" font-family='"Liberation Sans", Arial, sans-serif' font-size="24.30" font-weight="bold" fill="#000" textLength="41.44" lengthAdjust="spacingAndGlyphs">-0.1</text>
<text id="xc_0.0" x="1276.60" y="277.90" font-family='"Liberation Sans", Arial, sans-serif' font-size="24.30" font-weight="bold" fill="#000" textLength="35.78" lengthAdjust="spacingAndGlyphs">0.0</text>
<text id="xc_0.1" x="1373.05" y="277.90" font-family='"Liberation Sans", Arial, sans-serif' font-size="24.30" font-weight="bold" fill="#000" textLength="31.65" lengthAdjust="spacingAndGlyphs">0.1</text>
<text id="xd_-0.1" x="1650.05" y="262.85" font-family='"Liberation Sans", Arial, sans-serif' font-size="26.74" font-weight="bold" fill="#000" textLength="42.06" lengthAdjust="spacingAndGlyphs">-0.1</text>
<text id="xd_0.0" x="1748.80" y="262.85" font-family='"Liberation Sans", Arial, sans-serif' font-size="26.74" font-weight="bold" fill="#000" textLength="35.71" lengthAdjust="spacingAndGlyphs">0.0</text>
<text id="xd_0.1" x="1843.35" y="262.85" font-family='"Liberation Sans", Arial, sans-serif' font-size="26.74" font-weight="bold" fill="#000" textLength="33.90" lengthAdjust="spacingAndGlyphs">0.1</text>
<text id="title_b" x="715.00" y="304.15" font-family='"Liberation Sans", Arial, sans-serif' font-size="29.64" font-weight="bold" fill="#000" textLength="122.13" lengthAdjust="spacingAndGlyphs"><tspan font-style="italic">E</tspan> - <tspan font-style="italic">E</tspan><tspan font-size="18.97" dy="-9.78">0</tspan><tspan dy="9.78"> / V</tspan></text>
<text id="title_c" x="1207.95" y="310.00" font-family='"Liberation Sans", Arial, sans-serif' font-size="30.14" font-weight="bold" fill="#000" textLength="121.71" lengthAdjust="spacingAndGlyphs"><tspan font-style="italic">E</tspan> - <tspan font-style="italic">E</tspan><tspan font-size="19.29" dy="-9.95">0</tspan><tspan dy="9.95"> / V</tspan></text>
<text id="title_d" x="1686.80" y="306.50" font-family='"Liberation Sans", Arial, sans-serif' font-size="30.76" font-weight="bold" fill="#000" textLength="123.12" lengthAdjust="spacingAndGlyphs"><tspan font-style="italic">E</tspan> - <tspan font-style="italic">E</tspan><tspan font-size="19.69" dy="-10.15">0</tspan><tspan dy="10.15"> / V</tspan></text>
<text id="title_e" x="222.00" y="692.45" font-family='"Liberation Sans", Arial, sans-serif' font-size="29.11" font-weight="bold" fill="#000" textLength="120.42" lengthAdjust="spacingAndGlyphs"><tspan font-style="italic">E</tspan> - <tspan font-style="italic">E</tspan><tspan font-size="18.63" dy="-9.61">0</tspan><tspan dy="9.61"> / V</tspan></text>
<text id="title_f" x="737.30" y="694.75" font-family='"Liberation Sans", Arial, sans-serif' font-size="29.11" font-weight="bold" fill="#000" textLength="121.32" lengthAdjust="spacingAndGlyphs"><tspan font-style="italic">E</tspan> - <tspan font-style="italic">E</tspan><tspan font-size="18.63" dy="-9.60">0</tspan><tspan dy="9.60"> / V</tspan></text>
<text id="title_g" x="1205.15" y="694.75" font-family='"Liberation Sans", Arial, sans-serif' font-size="29.11" font-weight="bold" fill="#000" textLength="121.93" lengthAdjust="spacingAndGlyphs"><tspan font-style="italic">E</tspan> - <tspan font-style="italic">E</tspan><tspan font-size="18.63" dy="-9.60">0</tspan><tspan dy="9.60"> / V</tspan></text>
<text id="title_h" x="1690.90" y="699.10" font-family='"Liberation Sans", Arial, sans-serif' font-size="28.81" font-weight="bold" fill="#000" textLength="123.04" lengthAdjust="spacingAndGlyphs"><tspan font-style="italic">E</tspan> - <tspan font-style="italic">E</tspan><tspan font-size="18.44" dy="-9.51">0</tspan><tspan dy="9.51"> / V</tspan></text>
<text id="gg_b" x="574.80" y="153.95" font-family='"Liberation Sans", Arial, sans-serif' font-size="24.82" font-weight="bold" fill="#000" textLength="55.25" lengthAdjust="spacingAndGlyphs" transform="rotate(-90 574.80 153.95)">G/G<tspan font-size="14.89" dy="7.45">0</tspan></text>
<text id="gg_c" x="1055.45" y="160.20" font-family='"Liberation Sans", Arial, sans-serif' font-size="26.84" font-weight="bold" fill="#000" textLength="53.43" lengthAdjust="spacingAndGlyphs" transform="rotate(-90 1055.45 160.20)">G/G<tspan font-size="16.10" dy="8.05">0</tspan></text>
<text id="gg_d" x="1524.45" y="147.40" font-family='"Liberation Sans", Arial, sans-serif' font-size="26.25" font-weight="bold" fill="#000" textLength="55.27" lengthAdjust="spacingAndGlyphs" transform="rotate(-90 1524.45 147.40)">G/G<tspan font-size="15.75" dy="7.88">0</tspan></text>
<text id="ey_8" x="114.05" y="368.85" font-family='"Liberation Sans", Arial, sans-serif' font-size="29.47" font-weight="normal" fill="#1a1a1a" textLength="15.16" lengthAdjust="spacingAndGlyphs" transform="rotate(-90 114.05 368.85)">8</text>
<text id="ey_6" x="114.70" y="435.10" font-family='"Liberation Sans", Arial, sans-serif' font-size="29.92" font-weight="normal" fill="#1a1a1a" textLength="14.44" lengthAdjust="spacingAndGlyphs" transform="rotate(-90 114.70 435.10)">6</text>
<text id="ey_4" x="114.00" y="503.15" font-family='"Liberation Sans", Arial, sans-serif' font-size="27.61" font-weight="normal" fill="#1a1a1a" textLength="16.11" lengthAdjust="spacingAndGlyphs" transform="rotate(-90 114.00 503.15)">4</text>
<text id="ey_2" x="114.40" y="564.75" font-family='"Liberation Sans", Arial, sans-serif' font-size="30.16" font-weight="normal" fill="#1a1a1a" textLength="16.81" lengthAdjust="spacingAndGlyphs" transform="rotate(-90 114.40 564.75)">2</text>
<text id="ey_0" x="114.40" y="631.15" font-family='"Liberation Sans", Arial, sans-serif' font-size="30.16" font-weight="normal" fill="#1a1a1a" textLength="15.63" lengthAdjust="spacingAndGlyphs" transform="rotate(-90 114.40 631.15)">0</text>
<text id="x103" x="91.25" y="342.55" font-family='"Liberation Sans", Arial, sans-serif' font-size="28.51" font-weight="normal" fill="#1a1a1a" textLength="53.05" lengthAdjust="spacingAndGlyphs">x10<tspan font-size="17.11" dy="-8.84">3</tspan></text>
<text id="pE" x="67.15" y="516.25" font-family='"Liberation Sans", Arial, sans-serif' font-size="30.46" font-weight="normal" fill="#1a1a1a" textLength="52.21" lengthAdjust="spacingAndGlyphs" transform="rotate(-90 67.15 516.25)">p(<tspan font-style="italic">E</tspan>)</text>
<text id="ex_-0.2" x="95.35" y="652.40" font-family='"Liberation Sans", Arial, sans-serif' font-size="26.59" font-weight="normal" fill="#1a1a1a" textLength="49.31" lengthAdjust="spacingAndGlyphs">-0.2</text>
<text id="ex_-0.1" x="184.10" y="652.40" font-family='"Liberation Sans", Arial, sans-serif' font-size="26.59" font-weight="normal" fill="#1a1a1a" textLength="46.80" lengthAdjust="spacingAndGlyphs">-0.1</text>
<text id="ex_0" x="283.30" y="652.40" font-family='"Liberation Sans", Arial, sans-serif' font-size="26.59" font-weight="normal" fill="#1a1a1a" textLength="15.66" lengthAdjust="spacingAndGlyphs">0</text>
<text id="ex_0.1" x="358.35" y="652.40" font-family='"Liberation Sans", Arial, sans-serif' font-size="26.59" font-weight="normal" fill="#1a1a1a" textLength="36.35" lengthAdjust="spacingAndGlyphs">0.1</text>
<text id="ex_0.2" x="437.45" y="652.40" font-family='"Liberation Sans", Arial, sans-serif' font-size="26.59" font-weight="normal" fill="#1a1a1a" textLength="38.34" lengthAdjust="spacingAndGlyphs">0.2</text>
<text id="k0_e" x="191.35" y="405.95" font-family='"Liberation Sans", Arial, sans-serif' font-size="32.11" font-weight="normal" fill="#1a1a1a" textLength="142.62" lengthAdjust="spacingAndGlyphs"><tspan font-style="italic">k</tspan><tspan font-size="20.87" dy="7.39">0</tspan><tspan dy="-7.39">=130 s</tspan><tspan font-size="20.87" dy="-9.63">-1</tspan></text>
<text id="k0_f" x="718.80" y="406.50" font-family='"Liberation Sans", Arial, sans-serif' font-size="33.03" font-weight="normal" fill="#1a1a1a" textLength="124.82" lengthAdjust="spacingAndGlyphs"><tspan font-style="italic">k</tspan><tspan font-size="21.47" dy="7.60">0</tspan><tspan dy="-7.60">=13 s</tspan><tspan font-size="21.47" dy="-9.91">-1</tspan></text>
<text id="k0_g" x="1194.20" y="406.25" font-family='"Liberation Sans", Arial, sans-serif' font-size="31.54" font-weight="normal" fill="#1a1a1a" textLength="141.22" lengthAdjust="spacingAndGlyphs"><tspan font-style="italic">k</tspan><tspan font-size="20.50" dy="7.25">0</tspan><tspan dy="-7.25">=130 s</tspan><tspan font-size="20.50" dy="-9.46">-1</tspan></text>
<text id="k0_h" x="1630.85" y="406.85" font-family='"Liberation Sans", Arial, sans-serif' font-size="32.76" font-weight="normal" fill="#1a1a1a" textLength="196.62" lengthAdjust="spacingAndGlyphs"><tspan font-style="italic">k</tspan><tspan font-size="21.29" dy="7.53">0</tspan><tspan dy="-7.53">=130000 s</tspan><tspan font-size="21.29" dy="-9.83">-1</tspan></text>
<text id="ox_f" x="524.30" y="428.80" font-family='"Liberation Sans", Arial, sans-serif' font-size="30.00" font-weight="normal" fill="#1a1a1a" textLength="103.72" lengthAdjust="spacingAndGlyphs">oxidized</text>
<text id="rd_f" x="524.45" y="584.35" font-family='"Liberation Sans", Arial, sans-serif' font-size="28.00" font-weight="normal" fill="#1a1a1a" textLength="103.55" lengthAdjust="spacingAndGlyphs">reduced</text>
<text id="ox_g" x="1000.00" y="428.70" font-family='"Liberation Sans", Arial, sans-serif' font-size="30.29" font-weight="normal" fill="#1a1a1a" textLength="103.68" lengthAdjust="spacingAndGlyphs">oxidized</text>
<text id="rd_g" x="999.55" y="587.50" font-family='"Liberation Sans", Arial, sans-serif' font-size="30.37" font-weight="normal" fill="#1a1a1a" textLength="103.52" lengthAdjust="spacingAndGlyphs">reduced</text>
<text id="ox_h" x="1469.30" y="431.25" font-family='"Liberation Sans", Arial, sans-serif' font-size="30.41" font-weight="normal" fill="#1a1a1a" textLength="104.71" lengthAdjust="spacingAndGlyphs">oxidized</text>
<text id="rd_h" x="1469.65" y="585.00" font-family='"Liberation Sans", Arial, sans-serif' font-size="30.00" font-weight="normal" fill="#1a1a1a" textLength="103.51" lengthAdjust="spacingAndGlyphs">reduced</text>
<text id="xf_-0.2" x="616.95" y="657.40" font-family='"Liberation Sans", Arial, sans-serif' font-size="29.03" font-weight="bold" fill="#000" textLength="51.50" lengthAdjust="spacingAndGlyphs">-0.2</text>
<text id="xf_0" x="790.30" y="657.40" font-family='"Liberation Sans", Arial, sans-serif' font-size="29.03" font-weight="bold" fill="#000" textLength="15.66" lengthAdjust="spacingAndGlyphs">0</text>
<text id="xf_0.2" x="932.15" y="657.40" font-family='"Liberation Sans", Arial, sans-serif' font-size="29.03" font-weight="bold" fill="#000" textLength="40.54" lengthAdjust="spacingAndGlyphs">0.2</text>
<text id="xg_-0.2" x="1085.65" y="657.40" font-family='"Liberation Sans", Arial, sans-serif' font-size="29.03" font-weight="bold" fill="#000" textLength="50.95" lengthAdjust="spacingAndGlyphs">-0.2</text>
<text id="xg_0" x="1257.75" y="657.40" font-family='"Liberation Sans", Arial, sans-serif' font-size="29.03" font-weight="bold" fill="#000" textLength="16.13" lengthAdjust="spacingAndGlyphs">0</text>
<text id="xg_0.2" x="1400.15" y="657.40" font-family='"Liberation Sans", Arial, sans-serif' font-size="29.03" font-weight="bold" fill="#000" textLength="41.53" lengthAdjust="spacingAndGlyphs">0.2</text>
<text id="xh_-0.2" x="1571.65" y="665.80" font-family='"Liberation Sans", Arial, sans-serif' font-size="29.03" font-weight="bold" fill="#000" textLength="50.51" lengthAdjust="spacingAndGlyphs">-0.2</text>
<text id="xh_0" x="1745.60" y="665.80" font-family='"Liberation Sans", Arial, sans-serif' font-size="29.03" font-weight="bold" fill="#000" textLength="14.44" lengthAdjust="spacingAndGlyphs">0</text>
<text id="xh_0.2" x="1886.40" y="665.80" font-family='"Liberation Sans", Arial, sans-serif' font-size="29.03" font-weight="bold" fill="#000" textLength="40.11" lengthAdjust="spacingAndGlyphs">0.2</text>
</g>
</svg></body></html>
